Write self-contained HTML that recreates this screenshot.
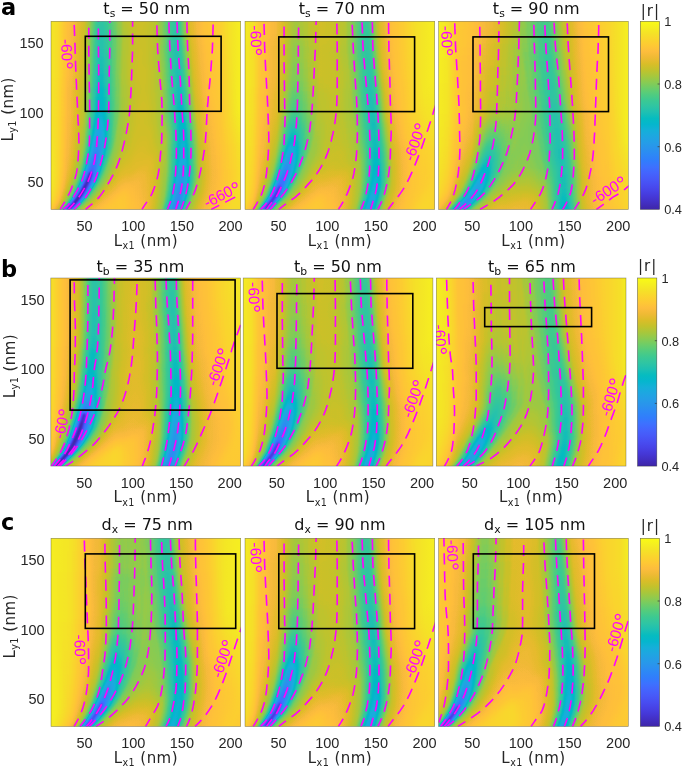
<!DOCTYPE html>
<html><head><meta charset="utf-8"><title>figure</title>
<style>html,body{margin:0;padding:0;background:#fff}svg{display:block}</style></head>
<body>
<svg width="685" height="767" viewBox="0 0 685 767">
<defs>
<filter id="par" x="0" y="0" width="1" height="1" color-interpolation-filters="sRGB"><feGaussianBlur stdDeviation="0.7"/><feComponentTransfer><feFuncR type="table" tableValues="0.242 0.250 0.258 0.265 0.271 0.275 0.278 0.280 0.281 0.281 0.280 0.276 0.270 0.260 0.244 0.221 0.196 0.183 0.179 0.176 0.169 0.154 0.146 0.138 0.125 0.111 0.095 0.069 0.030 0.004 0.007 0.043 0.096 0.141 0.172 0.194 0.216 0.247 0.291 0.341 0.391 0.446 0.504 0.562 0.617 0.672 0.724 0.774 0.820 0.863 0.903 0.939 0.973 0.996 0.997 0.995 0.989 0.979 0.968 0.961 0.960 0.963 0.969 0.977"/><feFuncG type="table" tableValues="0.150 0.165 0.182 0.198 0.215 0.234 0.256 0.278 0.301 0.323 0.345 0.367 0.389 0.412 0.436 0.460 0.485 0.507 0.529 0.550 0.570 0.590 0.609 0.628 0.646 0.663 0.680 0.695 0.708 0.720 0.731 0.741 0.750 0.758 0.767 0.776 0.784 0.792 0.797 0.801 0.803 0.802 0.799 0.794 0.788 0.779 0.770 0.760 0.750 0.741 0.733 0.729 0.730 0.743 0.766 0.789 0.814 0.839 0.864 0.889 0.913 0.937 0.961 0.984"/><feFuncB type="table" tableValues="0.660 0.708 0.751 0.795 0.836 0.871 0.899 0.922 0.941 0.958 0.972 0.983 0.991 0.995 0.999 0.997 0.989 0.980 0.968 0.952 0.936 0.922 0.908 0.897 0.888 0.876 0.860 0.839 0.816 0.792 0.766 0.739 0.712 0.684 0.655 0.625 0.592 0.557 0.519 0.479 0.435 0.391 0.348 0.304 0.261 0.223 0.191 0.165 0.153 0.160 0.177 0.210 0.239 0.237 0.220 0.203 0.189 0.177 0.164 0.154 0.142 0.127 0.106 0.081"/></feComponentTransfer></filter><filter id="bw" filterUnits="userSpaceOnUse" x="0" y="0" width="685" height="767" color-interpolation-filters="sRGB"><feGaussianBlur stdDeviation="4.5"/></filter><filter id="bn" filterUnits="userSpaceOnUse" x="0" y="0" width="685" height="767" color-interpolation-filters="sRGB"><feGaussianBlur stdDeviation="1.3"/></filter>
<clipPath id="cp1"><rect x="51" y="21.3" width="189.7" height="188.1"/></clipPath>
<linearGradient id="b1" gradientUnits="userSpaceOnUse" x1="51" y1="0" x2="240.7" y2="0"><stop offset="-0.001" stop-color="#f7f7f7"/><stop offset="0.038" stop-color="#f2f2f2"/><stop offset="0.084" stop-color="#e3e3e3"/><stop offset="0.138" stop-color="#dedede"/><stop offset="0.353" stop-color="#d9d9d9"/><stop offset="0.476" stop-color="#d9d9d9"/><stop offset="0.615" stop-color="#d9d9d9"/><stop offset="0.799" stop-color="#e3e3e3"/><stop offset="0.892" stop-color="#e6e6e6"/><stop offset="0.953" stop-color="#f0f0f0"/><stop offset="1.000" stop-color="#f7f7f7"/></linearGradient>
<radialGradient id="r2"><stop offset="0" stop-color="#e0e0e0" stop-opacity="0.9"/><stop offset="1" stop-color="#e0e0e0" stop-opacity="0"/></radialGradient>
<radialGradient id="r3"><stop offset="0" stop-color="#ededed" stop-opacity="0.5"/><stop offset="1" stop-color="#ededed" stop-opacity="0"/></radialGradient>
<linearGradient id="g4" gradientUnits="userSpaceOnUse" x1="0" y1="11.3" x2="0" y2="219.4"><stop offset=".00" stop-opacity=".021"/><stop offset=".12" stop-opacity=".022"/><stop offset=".23" stop-opacity=".024"/><stop offset=".35" stop-opacity=".026"/><stop offset=".50" stop-opacity=".029"/><stop offset=".62" stop-opacity=".035"/><stop offset=".73" stop-opacity=".043"/><stop offset=".85" stop-opacity=".053"/><stop offset="1.00" stop-opacity=".058"/></linearGradient>
<linearGradient id="g5" gradientUnits="userSpaceOnUse" x1="0" y1="11.3" x2="0" y2="219.4"><stop offset=".00" stop-opacity=".015"/><stop offset=".12" stop-opacity=".016"/><stop offset=".23" stop-opacity=".017"/><stop offset=".35" stop-opacity=".018"/><stop offset=".50" stop-opacity=".021"/><stop offset=".62" stop-opacity=".026"/><stop offset=".73" stop-opacity=".031"/><stop offset=".85" stop-opacity=".039"/><stop offset="1.00" stop-opacity=".043"/></linearGradient>
<linearGradient id="g6" gradientUnits="userSpaceOnUse" x1="0" y1="11.3" x2="0" y2="219.4"><stop offset=".00" stop-opacity=".021"/><stop offset=".12" stop-opacity=".023"/><stop offset=".23" stop-opacity=".025"/><stop offset=".35" stop-opacity=".027"/><stop offset=".50" stop-opacity=".030"/><stop offset=".62" stop-opacity=".038"/><stop offset=".73" stop-opacity=".046"/><stop offset=".85" stop-opacity=".059"/><stop offset="1.00" stop-opacity=".065"/></linearGradient>
<linearGradient id="g7" gradientUnits="userSpaceOnUse" x1="0" y1="11.3" x2="0" y2="219.4"><stop offset=".00" stop-opacity=".030"/><stop offset=".12" stop-opacity=".032"/><stop offset=".23" stop-opacity=".035"/><stop offset=".35" stop-opacity=".038"/><stop offset=".50" stop-opacity=".043"/><stop offset=".62" stop-opacity=".055"/><stop offset=".73" stop-opacity=".067"/><stop offset=".85" stop-opacity=".087"/><stop offset="1.00" stop-opacity=".096"/></linearGradient>
<linearGradient id="g8" gradientUnits="userSpaceOnUse" x1="0" y1="11.3" x2="0" y2="219.4"><stop offset=".00" stop-opacity=".040"/><stop offset=".12" stop-opacity=".043"/><stop offset=".23" stop-opacity=".047"/><stop offset=".35" stop-opacity=".051"/><stop offset=".50" stop-opacity=".058"/><stop offset=".62" stop-opacity=".074"/><stop offset=".73" stop-opacity=".092"/><stop offset=".85" stop-opacity=".122"/><stop offset="1.00" stop-opacity=".137"/></linearGradient>
<linearGradient id="g9" gradientUnits="userSpaceOnUse" x1="0" y1="11.3" x2="0" y2="219.4"><stop offset=".00" stop-opacity=".050"/><stop offset=".12" stop-opacity=".054"/><stop offset=".23" stop-opacity=".059"/><stop offset=".35" stop-opacity=".064"/><stop offset=".50" stop-opacity=".073"/><stop offset=".62" stop-opacity=".095"/><stop offset=".73" stop-opacity=".121"/><stop offset=".85" stop-opacity=".165"/><stop offset="1.00" stop-opacity=".188"/></linearGradient>
<linearGradient id="g10" gradientUnits="userSpaceOnUse" x1="0" y1="11.3" x2="0" y2="219.4"><stop offset=".00" stop-opacity=".058"/><stop offset=".12" stop-opacity=".063"/><stop offset=".23" stop-opacity=".069"/><stop offset=".35" stop-opacity=".076"/><stop offset=".50" stop-opacity=".088"/><stop offset=".62" stop-opacity=".117"/><stop offset=".73" stop-opacity=".153"/><stop offset=".85" stop-opacity=".220"/><stop offset="1.00" stop-opacity=".258"/></linearGradient>
<linearGradient id="g11" gradientUnits="userSpaceOnUse" x1="0" y1="11.3" x2="0" y2="219.4"><stop offset=".00" stop-opacity=".066"/><stop offset=".12" stop-opacity=".072"/><stop offset=".23" stop-opacity=".079"/><stop offset=".35" stop-opacity=".087"/><stop offset=".50" stop-opacity=".103"/><stop offset=".62" stop-opacity=".141"/><stop offset=".73" stop-opacity=".193"/><stop offset=".85" stop-opacity=".301"/><stop offset="1.00" stop-opacity=".370"/></linearGradient>
<linearGradient id="g12" gradientUnits="userSpaceOnUse" x1="0" y1="11.3" x2="0" y2="219.4"><stop offset=".00" stop-opacity=".067"/><stop offset=".12" stop-opacity=".073"/><stop offset=".23" stop-opacity=".082"/><stop offset=".35" stop-opacity=".091"/><stop offset=".50" stop-opacity=".109"/><stop offset=".62" stop-opacity=".157"/><stop offset=".73" stop-opacity=".227"/><stop offset=".85" stop-opacity=".411"/><stop offset="1.00" stop-opacity=".560"/></linearGradient>
<linearGradient id="g13" gradientUnits="userSpaceOnUse" x1="0" y1="11.3" x2="0" y2="219.4"><stop offset=".00" stop-opacity=".046"/><stop offset=".12" stop-opacity=".050"/><stop offset=".23" stop-opacity=".056"/><stop offset=".35" stop-opacity=".063"/><stop offset=".50" stop-opacity=".077"/><stop offset=".62" stop-opacity=".117"/><stop offset=".73" stop-opacity=".185"/><stop offset=".85" stop-opacity=".439"/><stop offset="1.00" stop-opacity=".801"/></linearGradient>
<linearGradient id="g14" gradientUnits="userSpaceOnUse" x1="0" y1="11.3" x2="0" y2="219.4"><stop offset=".00" stop-opacity=".020"/><stop offset=".12" stop-opacity=".021"/><stop offset=".23" stop-opacity=".023"/><stop offset=".35" stop-opacity=".024"/><stop offset=".50" stop-opacity=".027"/><stop offset=".62" stop-opacity=".029"/><stop offset=".73" stop-opacity=".032"/><stop offset=".85" stop-opacity=".038"/><stop offset="1.00" stop-opacity=".041"/></linearGradient>
<linearGradient id="g15" gradientUnits="userSpaceOnUse" x1="0" y1="11.3" x2="0" y2="219.4"><stop offset=".00" stop-opacity=".014"/><stop offset=".12" stop-opacity=".015"/><stop offset=".23" stop-opacity=".016"/><stop offset=".35" stop-opacity=".017"/><stop offset=".50" stop-opacity=".019"/><stop offset=".62" stop-opacity=".021"/><stop offset=".73" stop-opacity=".023"/><stop offset=".85" stop-opacity=".027"/><stop offset="1.00" stop-opacity=".030"/></linearGradient>
<linearGradient id="g16" gradientUnits="userSpaceOnUse" x1="0" y1="11.3" x2="0" y2="219.4"><stop offset=".00" stop-opacity=".021"/><stop offset=".12" stop-opacity=".022"/><stop offset=".23" stop-opacity=".024"/><stop offset=".35" stop-opacity=".025"/><stop offset=".50" stop-opacity=".028"/><stop offset=".62" stop-opacity=".031"/><stop offset=".73" stop-opacity=".034"/><stop offset=".85" stop-opacity=".040"/><stop offset="1.00" stop-opacity=".044"/></linearGradient>
<linearGradient id="g17" gradientUnits="userSpaceOnUse" x1="0" y1="11.3" x2="0" y2="219.4"><stop offset=".00" stop-opacity=".029"/><stop offset=".12" stop-opacity=".031"/><stop offset=".23" stop-opacity=".034"/><stop offset=".35" stop-opacity=".036"/><stop offset=".50" stop-opacity=".040"/><stop offset=".62" stop-opacity=".044"/><stop offset=".73" stop-opacity=".049"/><stop offset=".85" stop-opacity=".058"/><stop offset="1.00" stop-opacity=".064"/></linearGradient>
<linearGradient id="g18" gradientUnits="userSpaceOnUse" x1="0" y1="11.3" x2="0" y2="219.4"><stop offset=".00" stop-opacity=".038"/><stop offset=".12" stop-opacity=".041"/><stop offset=".23" stop-opacity=".045"/><stop offset=".35" stop-opacity=".048"/><stop offset=".50" stop-opacity=".054"/><stop offset=".62" stop-opacity=".059"/><stop offset=".73" stop-opacity=".066"/><stop offset=".85" stop-opacity=".079"/><stop offset="1.00" stop-opacity=".088"/></linearGradient>
<linearGradient id="g19" gradientUnits="userSpaceOnUse" x1="0" y1="11.3" x2="0" y2="219.4"><stop offset=".00" stop-opacity=".048"/><stop offset=".12" stop-opacity=".051"/><stop offset=".23" stop-opacity=".056"/><stop offset=".35" stop-opacity=".060"/><stop offset=".50" stop-opacity=".067"/><stop offset=".62" stop-opacity=".075"/><stop offset=".73" stop-opacity=".084"/><stop offset=".85" stop-opacity=".103"/><stop offset="1.00" stop-opacity=".114"/></linearGradient>
<linearGradient id="g20" gradientUnits="userSpaceOnUse" x1="0" y1="11.3" x2="0" y2="219.4"><stop offset=".00" stop-opacity=".055"/><stop offset=".12" stop-opacity=".059"/><stop offset=".23" stop-opacity=".065"/><stop offset=".35" stop-opacity=".071"/><stop offset=".50" stop-opacity=".080"/><stop offset=".62" stop-opacity=".090"/><stop offset=".73" stop-opacity=".101"/><stop offset=".85" stop-opacity=".127"/><stop offset="1.00" stop-opacity=".143"/></linearGradient>
<linearGradient id="g21" gradientUnits="userSpaceOnUse" x1="0" y1="11.3" x2="0" y2="219.4"><stop offset=".00" stop-opacity=".063"/><stop offset=".12" stop-opacity=".067"/><stop offset=".23" stop-opacity=".075"/><stop offset=".35" stop-opacity=".082"/><stop offset=".50" stop-opacity=".093"/><stop offset=".62" stop-opacity=".105"/><stop offset=".73" stop-opacity=".120"/><stop offset=".85" stop-opacity=".156"/><stop offset="1.00" stop-opacity=".179"/></linearGradient>
<linearGradient id="g22" gradientUnits="userSpaceOnUse" x1="0" y1="11.3" x2="0" y2="219.4"><stop offset=".00" stop-opacity=".064"/><stop offset=".12" stop-opacity=".069"/><stop offset=".23" stop-opacity=".077"/><stop offset=".35" stop-opacity=".085"/><stop offset=".50" stop-opacity=".098"/><stop offset=".62" stop-opacity=".112"/><stop offset=".73" stop-opacity=".130"/><stop offset=".85" stop-opacity=".175"/><stop offset="1.00" stop-opacity=".207"/></linearGradient>
<linearGradient id="g23" gradientUnits="userSpaceOnUse" x1="0" y1="11.3" x2="0" y2="219.4"><stop offset=".00" stop-opacity=".043"/><stop offset=".12" stop-opacity=".047"/><stop offset=".23" stop-opacity=".052"/><stop offset=".35" stop-opacity=".059"/><stop offset=".50" stop-opacity=".068"/><stop offset=".62" stop-opacity=".080"/><stop offset=".73" stop-opacity=".094"/><stop offset=".85" stop-opacity=".134"/><stop offset="1.00" stop-opacity=".165"/></linearGradient>
<clipPath id="cp2"><rect x="245" y="21.3" width="189.7" height="188.1"/></clipPath>
<linearGradient id="b24" gradientUnits="userSpaceOnUse" x1="245" y1="0" x2="434.7" y2="0"><stop offset="-0.000" stop-color="#f7f7f7"/><stop offset="0.043" stop-color="#f2f2f2"/><stop offset="0.081" stop-color="#e3e3e3"/><stop offset="0.143" stop-color="#dedede"/><stop offset="0.358" stop-color="#d6d6d6"/><stop offset="0.482" stop-color="#d4d4d4"/><stop offset="0.620" stop-color="#d6d6d6"/><stop offset="0.743" stop-color="#e0e0e0"/><stop offset="0.836" stop-color="#e6e6e6"/><stop offset="0.928" stop-color="#f0f0f0"/><stop offset="0.999" stop-color="#f7f7f7"/></linearGradient>
<radialGradient id="r25"><stop offset="0" stop-color="#dbdbdb" stop-opacity="1.0"/><stop offset="1" stop-color="#dbdbdb" stop-opacity="0"/></radialGradient>
<radialGradient id="r26"><stop offset="0" stop-color="#ededed" stop-opacity="0.6"/><stop offset="1" stop-color="#ededed" stop-opacity="0"/></radialGradient>
<linearGradient id="g27" gradientUnits="userSpaceOnUse" x1="0" y1="11.3" x2="0" y2="219.4"><stop offset=".00" stop-opacity=".008"/><stop offset=".12" stop-opacity=".009"/><stop offset=".23" stop-opacity=".011"/><stop offset=".35" stop-opacity=".013"/><stop offset=".50" stop-opacity=".018"/><stop offset=".62" stop-opacity=".027"/><stop offset=".73" stop-opacity=".037"/><stop offset=".85" stop-opacity=".046"/><stop offset="1.00" stop-opacity=".054"/></linearGradient>
<linearGradient id="g28" gradientUnits="userSpaceOnUse" x1="0" y1="11.3" x2="0" y2="219.4"><stop offset=".00" stop-opacity=".006"/><stop offset=".12" stop-opacity=".007"/><stop offset=".23" stop-opacity=".008"/><stop offset=".35" stop-opacity=".009"/><stop offset=".50" stop-opacity=".013"/><stop offset=".62" stop-opacity=".019"/><stop offset=".73" stop-opacity=".027"/><stop offset=".85" stop-opacity=".034"/><stop offset="1.00" stop-opacity=".040"/></linearGradient>
<linearGradient id="g29" gradientUnits="userSpaceOnUse" x1="0" y1="11.3" x2="0" y2="219.4"><stop offset=".00" stop-opacity=".008"/><stop offset=".12" stop-opacity=".010"/><stop offset=".23" stop-opacity=".011"/><stop offset=".35" stop-opacity=".014"/><stop offset=".50" stop-opacity=".019"/><stop offset=".62" stop-opacity=".028"/><stop offset=".73" stop-opacity=".039"/><stop offset=".85" stop-opacity=".050"/><stop offset="1.00" stop-opacity=".059"/></linearGradient>
<linearGradient id="g30" gradientUnits="userSpaceOnUse" x1="0" y1="11.3" x2="0" y2="219.4"><stop offset=".00" stop-opacity=".012"/><stop offset=".12" stop-opacity=".014"/><stop offset=".23" stop-opacity=".016"/><stop offset=".35" stop-opacity=".019"/><stop offset=".50" stop-opacity=".027"/><stop offset=".62" stop-opacity=".040"/><stop offset=".73" stop-opacity=".057"/><stop offset=".85" stop-opacity=".073"/><stop offset="1.00" stop-opacity=".087"/></linearGradient>
<linearGradient id="g31" gradientUnits="userSpaceOnUse" x1="0" y1="11.3" x2="0" y2="219.4"><stop offset=".00" stop-opacity=".015"/><stop offset=".12" stop-opacity=".018"/><stop offset=".23" stop-opacity=".021"/><stop offset=".35" stop-opacity=".025"/><stop offset=".50" stop-opacity=".035"/><stop offset=".62" stop-opacity=".054"/><stop offset=".73" stop-opacity=".077"/><stop offset=".85" stop-opacity=".100"/><stop offset="1.00" stop-opacity=".123"/></linearGradient>
<linearGradient id="g32" gradientUnits="userSpaceOnUse" x1="0" y1="11.3" x2="0" y2="219.4"><stop offset=".00" stop-opacity=".019"/><stop offset=".12" stop-opacity=".021"/><stop offset=".23" stop-opacity=".025"/><stop offset=".35" stop-opacity=".030"/><stop offset=".50" stop-opacity=".043"/><stop offset=".62" stop-opacity=".068"/><stop offset=".73" stop-opacity=".100"/><stop offset=".85" stop-opacity=".133"/><stop offset="1.00" stop-opacity=".166"/></linearGradient>
<linearGradient id="g33" gradientUnits="userSpaceOnUse" x1="0" y1="11.3" x2="0" y2="219.4"><stop offset=".00" stop-opacity=".021"/><stop offset=".12" stop-opacity=".024"/><stop offset=".23" stop-opacity=".028"/><stop offset=".35" stop-opacity=".035"/><stop offset=".50" stop-opacity=".050"/><stop offset=".62" stop-opacity=".081"/><stop offset=".73" stop-opacity=".123"/><stop offset=".85" stop-opacity=".170"/><stop offset="1.00" stop-opacity=".222"/></linearGradient>
<linearGradient id="g34" gradientUnits="userSpaceOnUse" x1="0" y1="11.3" x2="0" y2="219.4"><stop offset=".00" stop-opacity=".023"/><stop offset=".12" stop-opacity=".026"/><stop offset=".23" stop-opacity=".031"/><stop offset=".35" stop-opacity=".038"/><stop offset=".50" stop-opacity=".057"/><stop offset=".62" stop-opacity=".094"/><stop offset=".73" stop-opacity=".149"/><stop offset=".85" stop-opacity=".219"/><stop offset="1.00" stop-opacity=".305"/></linearGradient>
<linearGradient id="g35" gradientUnits="userSpaceOnUse" x1="0" y1="11.3" x2="0" y2="219.4"><stop offset=".00" stop-opacity=".022"/><stop offset=".12" stop-opacity=".026"/><stop offset=".23" stop-opacity=".031"/><stop offset=".35" stop-opacity=".038"/><stop offset=".50" stop-opacity=".057"/><stop offset=".62" stop-opacity=".098"/><stop offset=".73" stop-opacity=".167"/><stop offset=".85" stop-opacity=".267"/><stop offset="1.00" stop-opacity=".417"/></linearGradient>
<linearGradient id="g36" gradientUnits="userSpaceOnUse" x1="0" y1="11.3" x2="0" y2="219.4"><stop offset=".00" stop-opacity=".014"/><stop offset=".12" stop-opacity=".017"/><stop offset=".23" stop-opacity=".020"/><stop offset=".35" stop-opacity=".025"/><stop offset=".50" stop-opacity=".038"/><stop offset=".62" stop-opacity=".069"/><stop offset=".73" stop-opacity=".127"/><stop offset=".85" stop-opacity=".230"/><stop offset="1.00" stop-opacity=".450"/></linearGradient>
<linearGradient id="g37" gradientUnits="userSpaceOnUse" x1="0" y1="11.3" x2="0" y2="219.4"><stop offset=".00" stop-opacity=".018"/><stop offset=".12" stop-opacity=".019"/><stop offset=".23" stop-opacity=".020"/><stop offset=".35" stop-opacity=".022"/><stop offset=".50" stop-opacity=".023"/><stop offset=".62" stop-opacity=".025"/><stop offset=".73" stop-opacity=".027"/><stop offset=".85" stop-opacity=".030"/><stop offset="1.00" stop-opacity=".034"/></linearGradient>
<linearGradient id="g38" gradientUnits="userSpaceOnUse" x1="0" y1="11.3" x2="0" y2="219.4"><stop offset=".00" stop-opacity=".013"/><stop offset=".12" stop-opacity=".014"/><stop offset=".23" stop-opacity=".015"/><stop offset=".35" stop-opacity=".015"/><stop offset=".50" stop-opacity=".017"/><stop offset=".62" stop-opacity=".018"/><stop offset=".73" stop-opacity=".019"/><stop offset=".85" stop-opacity=".022"/><stop offset="1.00" stop-opacity=".025"/></linearGradient>
<linearGradient id="g39" gradientUnits="userSpaceOnUse" x1="0" y1="11.3" x2="0" y2="219.4"><stop offset=".00" stop-opacity=".019"/><stop offset=".12" stop-opacity=".020"/><stop offset=".23" stop-opacity=".021"/><stop offset=".35" stop-opacity=".022"/><stop offset=".50" stop-opacity=".024"/><stop offset=".62" stop-opacity=".026"/><stop offset=".73" stop-opacity=".028"/><stop offset=".85" stop-opacity=".032"/><stop offset="1.00" stop-opacity=".037"/></linearGradient>
<linearGradient id="g40" gradientUnits="userSpaceOnUse" x1="0" y1="11.3" x2="0" y2="219.4"><stop offset=".00" stop-opacity=".027"/><stop offset=".12" stop-opacity=".028"/><stop offset=".23" stop-opacity=".030"/><stop offset=".35" stop-opacity=".032"/><stop offset=".50" stop-opacity=".035"/><stop offset=".62" stop-opacity=".037"/><stop offset=".73" stop-opacity=".040"/><stop offset=".85" stop-opacity=".046"/><stop offset="1.00" stop-opacity=".053"/></linearGradient>
<linearGradient id="g41" gradientUnits="userSpaceOnUse" x1="0" y1="11.3" x2="0" y2="219.4"><stop offset=".00" stop-opacity=".035"/><stop offset=".12" stop-opacity=".037"/><stop offset=".23" stop-opacity=".040"/><stop offset=".35" stop-opacity=".042"/><stop offset=".50" stop-opacity=".046"/><stop offset=".62" stop-opacity=".049"/><stop offset=".73" stop-opacity=".054"/><stop offset=".85" stop-opacity=".062"/><stop offset="1.00" stop-opacity=".071"/></linearGradient>
<linearGradient id="g42" gradientUnits="userSpaceOnUse" x1="0" y1="11.3" x2="0" y2="219.4"><stop offset=".00" stop-opacity=".043"/><stop offset=".12" stop-opacity=".046"/><stop offset=".23" stop-opacity=".049"/><stop offset=".35" stop-opacity=".053"/><stop offset=".50" stop-opacity=".057"/><stop offset=".62" stop-opacity=".061"/><stop offset=".73" stop-opacity=".068"/><stop offset=".85" stop-opacity=".078"/><stop offset="1.00" stop-opacity=".092"/></linearGradient>
<linearGradient id="g43" gradientUnits="userSpaceOnUse" x1="0" y1="11.3" x2="0" y2="219.4"><stop offset=".00" stop-opacity=".050"/><stop offset=".12" stop-opacity=".053"/><stop offset=".23" stop-opacity=".057"/><stop offset=".35" stop-opacity=".062"/><stop offset=".50" stop-opacity=".067"/><stop offset=".62" stop-opacity=".073"/><stop offset=".73" stop-opacity=".080"/><stop offset=".85" stop-opacity=".095"/><stop offset="1.00" stop-opacity=".112"/></linearGradient>
<linearGradient id="g44" gradientUnits="userSpaceOnUse" x1="0" y1="11.3" x2="0" y2="219.4"><stop offset=".00" stop-opacity=".056"/><stop offset=".12" stop-opacity=".060"/><stop offset=".23" stop-opacity=".065"/><stop offset=".35" stop-opacity=".070"/><stop offset=".50" stop-opacity=".077"/><stop offset=".62" stop-opacity=".084"/><stop offset=".73" stop-opacity=".093"/><stop offset=".85" stop-opacity=".112"/><stop offset="1.00" stop-opacity=".135"/></linearGradient>
<linearGradient id="g45" gradientUnits="userSpaceOnUse" x1="0" y1="11.3" x2="0" y2="219.4"><stop offset=".00" stop-opacity=".057"/><stop offset=".12" stop-opacity=".061"/><stop offset=".23" stop-opacity=".066"/><stop offset=".35" stop-opacity=".072"/><stop offset=".50" stop-opacity=".079"/><stop offset=".62" stop-opacity=".087"/><stop offset=".73" stop-opacity=".098"/><stop offset=".85" stop-opacity=".120"/><stop offset="1.00" stop-opacity=".148"/></linearGradient>
<linearGradient id="g46" gradientUnits="userSpaceOnUse" x1="0" y1="11.3" x2="0" y2="219.4"><stop offset=".00" stop-opacity=".038"/><stop offset=".12" stop-opacity=".041"/><stop offset=".23" stop-opacity=".045"/><stop offset=".35" stop-opacity=".049"/><stop offset=".50" stop-opacity=".054"/><stop offset=".62" stop-opacity=".060"/><stop offset=".73" stop-opacity=".069"/><stop offset=".85" stop-opacity=".086"/><stop offset="1.00" stop-opacity=".110"/></linearGradient>
<clipPath id="cp3"><rect x="438.6" y="21.3" width="189.7" height="188.1"/></clipPath>
<linearGradient id="b47" gradientUnits="userSpaceOnUse" x1="438.6" y1="0" x2="628.3" y2="0"><stop offset="0.001" stop-color="#f7f7f7"/><stop offset="0.047" stop-color="#f2f2f2"/><stop offset="0.094" stop-color="#e3e3e3"/><stop offset="0.171" stop-color="#dedede"/><stop offset="0.309" stop-color="#d1d1d1"/><stop offset="0.432" stop-color="#c4c4c4"/><stop offset="0.586" stop-color="#c4c4c4"/><stop offset="0.694" stop-color="#d1d1d1"/><stop offset="0.771" stop-color="#e0e0e0"/><stop offset="0.894" stop-color="#e6e6e6"/><stop offset="0.956" stop-color="#f0f0f0"/><stop offset="0.999" stop-color="#f7f7f7"/></linearGradient>
<radialGradient id="r48"><stop offset="0" stop-color="#e6e6e6" stop-opacity="0.7"/><stop offset="1" stop-color="#e6e6e6" stop-opacity="0"/></radialGradient>
<radialGradient id="r49"><stop offset="0" stop-color="#dbdbdb" stop-opacity="0.8"/><stop offset="1" stop-color="#dbdbdb" stop-opacity="0"/></radialGradient>
<linearGradient id="g50" gradientUnits="userSpaceOnUse" x1="0" y1="11.3" x2="0" y2="219.4"><stop offset=".00" stop-opacity=".000"/><stop offset=".12" stop-opacity=".001"/><stop offset=".23" stop-opacity=".002"/><stop offset=".35" stop-opacity=".003"/><stop offset=".50" stop-opacity=".006"/><stop offset=".62" stop-opacity=".015"/><stop offset=".73" stop-opacity=".024"/><stop offset=".85" stop-opacity=".034"/><stop offset="1.00" stop-opacity=".043"/></linearGradient>
<linearGradient id="g51" gradientUnits="userSpaceOnUse" x1="0" y1="11.3" x2="0" y2="219.4"><stop offset=".00" stop-opacity=".000"/><stop offset=".12" stop-opacity=".000"/><stop offset=".23" stop-opacity=".001"/><stop offset=".35" stop-opacity=".002"/><stop offset=".50" stop-opacity=".004"/><stop offset=".62" stop-opacity=".011"/><stop offset=".73" stop-opacity=".017"/><stop offset=".85" stop-opacity=".025"/><stop offset="1.00" stop-opacity=".031"/></linearGradient>
<linearGradient id="g52" gradientUnits="userSpaceOnUse" x1="0" y1="11.3" x2="0" y2="219.4"><stop offset=".00" stop-opacity=".000"/><stop offset=".12" stop-opacity=".001"/><stop offset=".23" stop-opacity=".002"/><stop offset=".35" stop-opacity=".003"/><stop offset=".50" stop-opacity=".006"/><stop offset=".62" stop-opacity=".016"/><stop offset=".73" stop-opacity=".025"/><stop offset=".85" stop-opacity=".036"/><stop offset="1.00" stop-opacity=".046"/></linearGradient>
<linearGradient id="g53" gradientUnits="userSpaceOnUse" x1="0" y1="11.3" x2="0" y2="219.4"><stop offset=".00" stop-opacity=".000"/><stop offset=".12" stop-opacity=".001"/><stop offset=".23" stop-opacity=".003"/><stop offset=".35" stop-opacity=".005"/><stop offset=".50" stop-opacity=".009"/><stop offset=".62" stop-opacity=".022"/><stop offset=".73" stop-opacity=".036"/><stop offset=".85" stop-opacity=".053"/><stop offset="1.00" stop-opacity=".067"/></linearGradient>
<linearGradient id="g54" gradientUnits="userSpaceOnUse" x1="0" y1="11.3" x2="0" y2="219.4"><stop offset=".00" stop-opacity=".000"/><stop offset=".12" stop-opacity=".001"/><stop offset=".23" stop-opacity=".004"/><stop offset=".35" stop-opacity=".006"/><stop offset=".50" stop-opacity=".012"/><stop offset=".62" stop-opacity=".029"/><stop offset=".73" stop-opacity=".048"/><stop offset=".85" stop-opacity=".071"/><stop offset="1.00" stop-opacity=".092"/></linearGradient>
<linearGradient id="g55" gradientUnits="userSpaceOnUse" x1="0" y1="11.3" x2="0" y2="219.4"><stop offset=".00" stop-opacity=".000"/><stop offset=".12" stop-opacity=".001"/><stop offset=".23" stop-opacity=".004"/><stop offset=".35" stop-opacity=".007"/><stop offset=".50" stop-opacity=".014"/><stop offset=".62" stop-opacity=".035"/><stop offset=".73" stop-opacity=".060"/><stop offset=".85" stop-opacity=".091"/><stop offset="1.00" stop-opacity=".120"/></linearGradient>
<linearGradient id="g56" gradientUnits="userSpaceOnUse" x1="0" y1="11.3" x2="0" y2="219.4"><stop offset=".00" stop-opacity=".000"/><stop offset=".12" stop-opacity=".002"/><stop offset=".23" stop-opacity=".005"/><stop offset=".35" stop-opacity=".008"/><stop offset=".50" stop-opacity=".016"/><stop offset=".62" stop-opacity=".041"/><stop offset=".73" stop-opacity=".071"/><stop offset=".85" stop-opacity=".111"/><stop offset="1.00" stop-opacity=".152"/></linearGradient>
<linearGradient id="g57" gradientUnits="userSpaceOnUse" x1="0" y1="11.3" x2="0" y2="219.4"><stop offset=".00" stop-opacity=".000"/><stop offset=".12" stop-opacity=".002"/><stop offset=".23" stop-opacity=".005"/><stop offset=".35" stop-opacity=".009"/><stop offset=".50" stop-opacity=".017"/><stop offset=".62" stop-opacity=".045"/><stop offset=".73" stop-opacity=".081"/><stop offset=".85" stop-opacity=".134"/><stop offset="1.00" stop-opacity=".192"/></linearGradient>
<linearGradient id="g58" gradientUnits="userSpaceOnUse" x1="0" y1="11.3" x2="0" y2="219.4"><stop offset=".00" stop-opacity=".000"/><stop offset=".12" stop-opacity=".002"/><stop offset=".23" stop-opacity=".005"/><stop offset=".35" stop-opacity=".008"/><stop offset=".50" stop-opacity=".016"/><stop offset=".62" stop-opacity=".045"/><stop offset=".73" stop-opacity=".084"/><stop offset=".85" stop-opacity=".147"/><stop offset="1.00" stop-opacity=".225"/></linearGradient>
<linearGradient id="g59" gradientUnits="userSpaceOnUse" x1="0" y1="11.3" x2="0" y2="219.4"><stop offset=".00" stop-opacity=".000"/><stop offset=".12" stop-opacity=".001"/><stop offset=".23" stop-opacity=".003"/><stop offset=".35" stop-opacity=".005"/><stop offset=".50" stop-opacity=".011"/><stop offset=".62" stop-opacity=".030"/><stop offset=".73" stop-opacity=".058"/><stop offset=".85" stop-opacity=".108"/><stop offset="1.00" stop-opacity=".184"/></linearGradient>
<linearGradient id="g60" gradientUnits="userSpaceOnUse" x1="0" y1="11.3" x2="0" y2="219.4"><stop offset=".00" stop-opacity=".013"/><stop offset=".12" stop-opacity=".014"/><stop offset=".23" stop-opacity=".015"/><stop offset=".35" stop-opacity=".016"/><stop offset=".50" stop-opacity=".018"/><stop offset=".62" stop-opacity=".019"/><stop offset=".73" stop-opacity=".021"/><stop offset=".85" stop-opacity=".022"/><stop offset="1.00" stop-opacity=".028"/></linearGradient>
<linearGradient id="g61" gradientUnits="userSpaceOnUse" x1="0" y1="11.3" x2="0" y2="219.4"><stop offset=".00" stop-opacity=".009"/><stop offset=".12" stop-opacity=".010"/><stop offset=".23" stop-opacity=".011"/><stop offset=".35" stop-opacity=".012"/><stop offset=".50" stop-opacity=".013"/><stop offset=".62" stop-opacity=".014"/><stop offset=".73" stop-opacity=".015"/><stop offset=".85" stop-opacity=".016"/><stop offset="1.00" stop-opacity=".020"/></linearGradient>
<linearGradient id="g62" gradientUnits="userSpaceOnUse" x1="0" y1="11.3" x2="0" y2="219.4"><stop offset=".00" stop-opacity=".013"/><stop offset=".12" stop-opacity=".014"/><stop offset=".23" stop-opacity=".015"/><stop offset=".35" stop-opacity=".017"/><stop offset=".50" stop-opacity=".019"/><stop offset=".62" stop-opacity=".020"/><stop offset=".73" stop-opacity=".021"/><stop offset=".85" stop-opacity=".023"/><stop offset="1.00" stop-opacity=".029"/></linearGradient>
<linearGradient id="g63" gradientUnits="userSpaceOnUse" x1="0" y1="11.3" x2="0" y2="219.4"><stop offset=".00" stop-opacity=".019"/><stop offset=".12" stop-opacity=".020"/><stop offset=".23" stop-opacity=".021"/><stop offset=".35" stop-opacity=".024"/><stop offset=".50" stop-opacity=".027"/><stop offset=".62" stop-opacity=".028"/><stop offset=".73" stop-opacity=".030"/><stop offset=".85" stop-opacity=".032"/><stop offset="1.00" stop-opacity=".042"/></linearGradient>
<linearGradient id="g64" gradientUnits="userSpaceOnUse" x1="0" y1="11.3" x2="0" y2="219.4"><stop offset=".00" stop-opacity=".024"/><stop offset=".12" stop-opacity=".026"/><stop offset=".23" stop-opacity=".028"/><stop offset=".35" stop-opacity=".031"/><stop offset=".50" stop-opacity=".035"/><stop offset=".62" stop-opacity=".037"/><stop offset=".73" stop-opacity=".040"/><stop offset=".85" stop-opacity=".043"/><stop offset="1.00" stop-opacity=".056"/></linearGradient>
<linearGradient id="g65" gradientUnits="userSpaceOnUse" x1="0" y1="11.3" x2="0" y2="219.4"><stop offset=".00" stop-opacity=".030"/><stop offset=".12" stop-opacity=".032"/><stop offset=".23" stop-opacity=".034"/><stop offset=".35" stop-opacity=".038"/><stop offset=".50" stop-opacity=".043"/><stop offset=".62" stop-opacity=".046"/><stop offset=".73" stop-opacity=".050"/><stop offset=".85" stop-opacity=".053"/><stop offset="1.00" stop-opacity=".071"/></linearGradient>
<linearGradient id="g66" gradientUnits="userSpaceOnUse" x1="0" y1="11.3" x2="0" y2="219.4"><stop offset=".00" stop-opacity=".034"/><stop offset=".12" stop-opacity=".036"/><stop offset=".23" stop-opacity=".040"/><stop offset=".35" stop-opacity=".044"/><stop offset=".50" stop-opacity=".050"/><stop offset=".62" stop-opacity=".054"/><stop offset=".73" stop-opacity=".058"/><stop offset=".85" stop-opacity=".062"/><stop offset="1.00" stop-opacity=".085"/></linearGradient>
<linearGradient id="g67" gradientUnits="userSpaceOnUse" x1="0" y1="11.3" x2="0" y2="219.4"><stop offset=".00" stop-opacity=".038"/><stop offset=".12" stop-opacity=".040"/><stop offset=".23" stop-opacity=".044"/><stop offset=".35" stop-opacity=".049"/><stop offset=".50" stop-opacity=".056"/><stop offset=".62" stop-opacity=".061"/><stop offset=".73" stop-opacity=".066"/><stop offset=".85" stop-opacity=".071"/><stop offset="1.00" stop-opacity=".099"/></linearGradient>
<linearGradient id="g68" gradientUnits="userSpaceOnUse" x1="0" y1="11.3" x2="0" y2="219.4"><stop offset=".00" stop-opacity=".037"/><stop offset=".12" stop-opacity=".040"/><stop offset=".23" stop-opacity=".044"/><stop offset=".35" stop-opacity=".049"/><stop offset=".50" stop-opacity=".057"/><stop offset=".62" stop-opacity=".062"/><stop offset=".73" stop-opacity=".067"/><stop offset=".85" stop-opacity=".072"/><stop offset="1.00" stop-opacity=".105"/></linearGradient>
<linearGradient id="g69" gradientUnits="userSpaceOnUse" x1="0" y1="11.3" x2="0" y2="219.4"><stop offset=".00" stop-opacity=".025"/><stop offset=".12" stop-opacity=".026"/><stop offset=".23" stop-opacity=".029"/><stop offset=".35" stop-opacity=".033"/><stop offset=".50" stop-opacity=".038"/><stop offset=".62" stop-opacity=".041"/><stop offset=".73" stop-opacity=".045"/><stop offset=".85" stop-opacity=".049"/><stop offset="1.00" stop-opacity=".074"/></linearGradient>
<clipPath id="cp4"><rect x="50.8" y="278" width="189.7" height="188.1"/></clipPath>
<linearGradient id="b70" gradientUnits="userSpaceOnUse" x1="50.8" y1="0" x2="240.5" y2="0"><stop offset="0.000" stop-color="#f5f5f5"/><stop offset="0.031" stop-color="#ededed"/><stop offset="0.065" stop-color="#e6e6e6"/><stop offset="0.123" stop-color="#e0e0e0"/><stop offset="0.477" stop-color="#e3e3e3"/><stop offset="0.801" stop-color="#e0e0e0"/><stop offset="0.893" stop-color="#e6e6e6"/><stop offset="0.954" stop-color="#ededed"/><stop offset="0.998" stop-color="#f5f5f5"/></linearGradient>
<radialGradient id="r71"><stop offset="0" stop-color="#d9d9d9" stop-opacity="1.0"/><stop offset="1" stop-color="#d9d9d9" stop-opacity="0"/></radialGradient>
<radialGradient id="r72"><stop offset="0" stop-color="#ededed" stop-opacity="0.6"/><stop offset="1" stop-color="#ededed" stop-opacity="0"/></radialGradient>
<linearGradient id="g73" gradientUnits="userSpaceOnUse" x1="0" y1="268" x2="0" y2="476.1"><stop offset=".00" stop-opacity=".022"/><stop offset=".12" stop-opacity=".022"/><stop offset=".23" stop-opacity=".024"/><stop offset=".35" stop-opacity=".025"/><stop offset=".50" stop-opacity=".028"/><stop offset=".62" stop-opacity=".034"/><stop offset=".73" stop-opacity=".047"/><stop offset=".85" stop-opacity=".057"/><stop offset="1.00" stop-opacity=".053"/></linearGradient>
<linearGradient id="g74" gradientUnits="userSpaceOnUse" x1="0" y1="268" x2="0" y2="476.1"><stop offset=".00" stop-opacity=".015"/><stop offset=".12" stop-opacity=".016"/><stop offset=".23" stop-opacity=".017"/><stop offset=".35" stop-opacity=".018"/><stop offset=".50" stop-opacity=".020"/><stop offset=".62" stop-opacity=".024"/><stop offset=".73" stop-opacity=".034"/><stop offset=".85" stop-opacity=".042"/><stop offset="1.00" stop-opacity=".039"/></linearGradient>
<linearGradient id="g75" gradientUnits="userSpaceOnUse" x1="0" y1="268" x2="0" y2="476.1"><stop offset=".00" stop-opacity=".022"/><stop offset=".12" stop-opacity=".023"/><stop offset=".23" stop-opacity=".025"/><stop offset=".35" stop-opacity=".026"/><stop offset=".50" stop-opacity=".029"/><stop offset=".62" stop-opacity=".036"/><stop offset=".73" stop-opacity=".051"/><stop offset=".85" stop-opacity=".063"/><stop offset="1.00" stop-opacity=".058"/></linearGradient>
<linearGradient id="g76" gradientUnits="userSpaceOnUse" x1="0" y1="268" x2="0" y2="476.1"><stop offset=".00" stop-opacity=".032"/><stop offset=".12" stop-opacity=".033"/><stop offset=".23" stop-opacity=".035"/><stop offset=".35" stop-opacity=".037"/><stop offset=".50" stop-opacity=".042"/><stop offset=".62" stop-opacity=".052"/><stop offset=".73" stop-opacity=".074"/><stop offset=".85" stop-opacity=".094"/><stop offset="1.00" stop-opacity=".086"/></linearGradient>
<linearGradient id="g77" gradientUnits="userSpaceOnUse" x1="0" y1="268" x2="0" y2="476.1"><stop offset=".00" stop-opacity=".042"/><stop offset=".12" stop-opacity=".044"/><stop offset=".23" stop-opacity=".047"/><stop offset=".35" stop-opacity=".049"/><stop offset=".50" stop-opacity=".056"/><stop offset=".62" stop-opacity=".070"/><stop offset=".73" stop-opacity=".103"/><stop offset=".85" stop-opacity=".132"/><stop offset="1.00" stop-opacity=".120"/></linearGradient>
<linearGradient id="g78" gradientUnits="userSpaceOnUse" x1="0" y1="268" x2="0" y2="476.1"><stop offset=".00" stop-opacity=".053"/><stop offset=".12" stop-opacity=".055"/><stop offset=".23" stop-opacity=".058"/><stop offset=".35" stop-opacity=".062"/><stop offset=".50" stop-opacity=".071"/><stop offset=".62" stop-opacity=".089"/><stop offset=".73" stop-opacity=".136"/><stop offset=".85" stop-opacity=".182"/><stop offset="1.00" stop-opacity=".162"/></linearGradient>
<linearGradient id="g79" gradientUnits="userSpaceOnUse" x1="0" y1="268" x2="0" y2="476.1"><stop offset=".00" stop-opacity=".062"/><stop offset=".12" stop-opacity=".064"/><stop offset=".23" stop-opacity=".069"/><stop offset=".35" stop-opacity=".073"/><stop offset=".50" stop-opacity=".085"/><stop offset=".62" stop-opacity=".109"/><stop offset=".73" stop-opacity=".175"/><stop offset=".85" stop-opacity=".247"/><stop offset="1.00" stop-opacity=".215"/></linearGradient>
<linearGradient id="g80" gradientUnits="userSpaceOnUse" x1="0" y1="268" x2="0" y2="476.1"><stop offset=".00" stop-opacity=".070"/><stop offset=".12" stop-opacity=".074"/><stop offset=".23" stop-opacity=".079"/><stop offset=".35" stop-opacity=".084"/><stop offset=".50" stop-opacity=".099"/><stop offset=".62" stop-opacity=".130"/><stop offset=".73" stop-opacity=".227"/><stop offset=".85" stop-opacity=".350"/><stop offset="1.00" stop-opacity=".292"/></linearGradient>
<linearGradient id="g81" gradientUnits="userSpaceOnUse" x1="0" y1="268" x2="0" y2="476.1"><stop offset=".00" stop-opacity=".072"/><stop offset=".12" stop-opacity=".076"/><stop offset=".23" stop-opacity=".081"/><stop offset=".35" stop-opacity=".087"/><stop offset=".50" stop-opacity=".104"/><stop offset=".62" stop-opacity=".143"/><stop offset=".73" stop-opacity=".280"/><stop offset=".85" stop-opacity=".512"/><stop offset="1.00" stop-opacity=".393"/></linearGradient>
<linearGradient id="g82" gradientUnits="userSpaceOnUse" x1="0" y1="268" x2="0" y2="476.1"><stop offset=".00" stop-opacity=".049"/><stop offset=".12" stop-opacity=".052"/><stop offset=".23" stop-opacity=".056"/><stop offset=".35" stop-opacity=".060"/><stop offset=".50" stop-opacity=".073"/><stop offset=".62" stop-opacity=".105"/><stop offset=".73" stop-opacity=".245"/><stop offset=".85" stop-opacity=".661"/><stop offset="1.00" stop-opacity=".408"/></linearGradient>
<linearGradient id="g83" gradientUnits="userSpaceOnUse" x1="0" y1="268" x2="0" y2="476.1"><stop offset=".00" stop-opacity=".021"/><stop offset=".12" stop-opacity=".022"/><stop offset=".23" stop-opacity=".023"/><stop offset=".35" stop-opacity=".024"/><stop offset=".50" stop-opacity=".027"/><stop offset=".62" stop-opacity=".029"/><stop offset=".73" stop-opacity=".034"/><stop offset=".85" stop-opacity=".038"/><stop offset="1.00" stop-opacity=".042"/></linearGradient>
<linearGradient id="g84" gradientUnits="userSpaceOnUse" x1="0" y1="268" x2="0" y2="476.1"><stop offset=".00" stop-opacity=".015"/><stop offset=".12" stop-opacity=".015"/><stop offset=".23" stop-opacity=".016"/><stop offset=".35" stop-opacity=".017"/><stop offset=".50" stop-opacity=".019"/><stop offset=".62" stop-opacity=".021"/><stop offset=".73" stop-opacity=".024"/><stop offset=".85" stop-opacity=".028"/><stop offset="1.00" stop-opacity=".030"/></linearGradient>
<linearGradient id="g85" gradientUnits="userSpaceOnUse" x1="0" y1="268" x2="0" y2="476.1"><stop offset=".00" stop-opacity=".022"/><stop offset=".12" stop-opacity=".023"/><stop offset=".23" stop-opacity=".024"/><stop offset=".35" stop-opacity=".025"/><stop offset=".50" stop-opacity=".028"/><stop offset=".62" stop-opacity=".031"/><stop offset=".73" stop-opacity=".036"/><stop offset=".85" stop-opacity=".041"/><stop offset="1.00" stop-opacity=".045"/></linearGradient>
<linearGradient id="g86" gradientUnits="userSpaceOnUse" x1="0" y1="268" x2="0" y2="476.1"><stop offset=".00" stop-opacity=".031"/><stop offset=".12" stop-opacity=".032"/><stop offset=".23" stop-opacity=".034"/><stop offset=".35" stop-opacity=".036"/><stop offset=".50" stop-opacity=".040"/><stop offset=".62" stop-opacity=".045"/><stop offset=".73" stop-opacity=".051"/><stop offset=".85" stop-opacity=".060"/><stop offset="1.00" stop-opacity=".065"/></linearGradient>
<linearGradient id="g87" gradientUnits="userSpaceOnUse" x1="0" y1="268" x2="0" y2="476.1"><stop offset=".00" stop-opacity=".041"/><stop offset=".12" stop-opacity=".042"/><stop offset=".23" stop-opacity=".045"/><stop offset=".35" stop-opacity=".048"/><stop offset=".50" stop-opacity=".053"/><stop offset=".62" stop-opacity=".060"/><stop offset=".73" stop-opacity=".070"/><stop offset=".85" stop-opacity=".081"/><stop offset="1.00" stop-opacity=".089"/></linearGradient>
<linearGradient id="g88" gradientUnits="userSpaceOnUse" x1="0" y1="268" x2="0" y2="476.1"><stop offset=".00" stop-opacity=".050"/><stop offset=".12" stop-opacity=".053"/><stop offset=".23" stop-opacity=".056"/><stop offset=".35" stop-opacity=".059"/><stop offset=".50" stop-opacity=".067"/><stop offset=".62" stop-opacity=".076"/><stop offset=".73" stop-opacity=".089"/><stop offset=".85" stop-opacity=".105"/><stop offset="1.00" stop-opacity=".117"/></linearGradient>
<linearGradient id="g89" gradientUnits="userSpaceOnUse" x1="0" y1="268" x2="0" y2="476.1"><stop offset=".00" stop-opacity=".059"/><stop offset=".12" stop-opacity=".062"/><stop offset=".23" stop-opacity=".066"/><stop offset=".35" stop-opacity=".070"/><stop offset=".50" stop-opacity=".079"/><stop offset=".62" stop-opacity=".091"/><stop offset=".73" stop-opacity=".108"/><stop offset=".85" stop-opacity=".131"/><stop offset="1.00" stop-opacity=".147"/></linearGradient>
<linearGradient id="g90" gradientUnits="userSpaceOnUse" x1="0" y1="268" x2="0" y2="476.1"><stop offset=".00" stop-opacity=".067"/><stop offset=".12" stop-opacity=".070"/><stop offset=".23" stop-opacity=".075"/><stop offset=".35" stop-opacity=".081"/><stop offset=".50" stop-opacity=".092"/><stop offset=".62" stop-opacity=".107"/><stop offset=".73" stop-opacity=".130"/><stop offset=".85" stop-opacity=".160"/><stop offset="1.00" stop-opacity=".184"/></linearGradient>
<linearGradient id="g91" gradientUnits="userSpaceOnUse" x1="0" y1="268" x2="0" y2="476.1"><stop offset=".00" stop-opacity=".068"/><stop offset=".12" stop-opacity=".072"/><stop offset=".23" stop-opacity=".078"/><stop offset=".35" stop-opacity=".083"/><stop offset=".50" stop-opacity=".097"/><stop offset=".62" stop-opacity=".114"/><stop offset=".73" stop-opacity=".142"/><stop offset=".85" stop-opacity=".182"/><stop offset="1.00" stop-opacity=".214"/></linearGradient>
<linearGradient id="g92" gradientUnits="userSpaceOnUse" x1="0" y1="268" x2="0" y2="476.1"><stop offset=".00" stop-opacity=".046"/><stop offset=".12" stop-opacity=".049"/><stop offset=".23" stop-opacity=".053"/><stop offset=".35" stop-opacity=".057"/><stop offset=".50" stop-opacity=".067"/><stop offset=".62" stop-opacity=".081"/><stop offset=".73" stop-opacity=".104"/><stop offset=".85" stop-opacity=".140"/><stop offset="1.00" stop-opacity=".172"/></linearGradient>
<clipPath id="cp5"><rect x="436.3" y="278" width="189.7" height="188.1"/></clipPath>
<linearGradient id="b93" gradientUnits="userSpaceOnUse" x1="436.3" y1="0" x2="626" y2="0"><stop offset="0.010" stop-color="#f7f7f7"/><stop offset="0.060" stop-color="#f2f2f2"/><stop offset="0.113" stop-color="#e3e3e3"/><stop offset="0.183" stop-color="#dedede"/><stop offset="0.321" stop-color="#d4d4d4"/><stop offset="0.444" stop-color="#d4d4d4"/><stop offset="0.598" stop-color="#d4d4d4"/><stop offset="0.706" stop-color="#d9d9d9"/><stop offset="0.798" stop-color="#e0e0e0"/><stop offset="0.906" stop-color="#e6e6e6"/><stop offset="0.968" stop-color="#ededed"/><stop offset="1.002" stop-color="#f5f5f5"/></linearGradient>
<radialGradient id="r94"><stop offset="0" stop-color="#dedede" stop-opacity="0.9"/><stop offset="1" stop-color="#dedede" stop-opacity="0"/></radialGradient>
<radialGradient id="r95"><stop offset="0" stop-color="#e6e6e6" stop-opacity="0.6"/><stop offset="1" stop-color="#e6e6e6" stop-opacity="0"/></radialGradient>
<linearGradient id="g96" gradientUnits="userSpaceOnUse" x1="0" y1="268" x2="0" y2="476.1"><stop offset=".00" stop-opacity=".003"/><stop offset=".12" stop-opacity=".004"/><stop offset=".23" stop-opacity=".005"/><stop offset=".35" stop-opacity=".006"/><stop offset=".50" stop-opacity=".011"/><stop offset=".62" stop-opacity=".017"/><stop offset=".73" stop-opacity=".022"/><stop offset=".85" stop-opacity=".033"/><stop offset="1.00" stop-opacity=".037"/></linearGradient>
<linearGradient id="g97" gradientUnits="userSpaceOnUse" x1="0" y1="268" x2="0" y2="476.1"><stop offset=".00" stop-opacity=".002"/><stop offset=".12" stop-opacity=".003"/><stop offset=".23" stop-opacity=".003"/><stop offset=".35" stop-opacity=".004"/><stop offset=".50" stop-opacity=".008"/><stop offset=".62" stop-opacity=".012"/><stop offset=".73" stop-opacity=".016"/><stop offset=".85" stop-opacity=".024"/><stop offset="1.00" stop-opacity=".027"/></linearGradient>
<linearGradient id="g98" gradientUnits="userSpaceOnUse" x1="0" y1="268" x2="0" y2="476.1"><stop offset=".00" stop-opacity=".003"/><stop offset=".12" stop-opacity=".004"/><stop offset=".23" stop-opacity=".005"/><stop offset=".35" stop-opacity=".006"/><stop offset=".50" stop-opacity=".011"/><stop offset=".62" stop-opacity=".018"/><stop offset=".73" stop-opacity=".023"/><stop offset=".85" stop-opacity=".035"/><stop offset="1.00" stop-opacity=".040"/></linearGradient>
<linearGradient id="g99" gradientUnits="userSpaceOnUse" x1="0" y1="268" x2="0" y2="476.1"><stop offset=".00" stop-opacity=".004"/><stop offset=".12" stop-opacity=".005"/><stop offset=".23" stop-opacity=".007"/><stop offset=".35" stop-opacity=".008"/><stop offset=".50" stop-opacity=".016"/><stop offset=".62" stop-opacity=".025"/><stop offset=".73" stop-opacity=".033"/><stop offset=".85" stop-opacity=".050"/><stop offset="1.00" stop-opacity=".058"/></linearGradient>
<linearGradient id="g100" gradientUnits="userSpaceOnUse" x1="0" y1="268" x2="0" y2="476.1"><stop offset=".00" stop-opacity=".006"/><stop offset=".12" stop-opacity=".007"/><stop offset=".23" stop-opacity=".009"/><stop offset=".35" stop-opacity=".011"/><stop offset=".50" stop-opacity=".020"/><stop offset=".62" stop-opacity=".033"/><stop offset=".73" stop-opacity=".044"/><stop offset=".85" stop-opacity=".067"/><stop offset="1.00" stop-opacity=".078"/></linearGradient>
<linearGradient id="g101" gradientUnits="userSpaceOnUse" x1="0" y1="268" x2="0" y2="476.1"><stop offset=".00" stop-opacity=".007"/><stop offset=".12" stop-opacity=".008"/><stop offset=".23" stop-opacity=".011"/><stop offset=".35" stop-opacity=".013"/><stop offset=".50" stop-opacity=".025"/><stop offset=".62" stop-opacity=".040"/><stop offset=".73" stop-opacity=".055"/><stop offset=".85" stop-opacity=".086"/><stop offset="1.00" stop-opacity=".101"/></linearGradient>
<linearGradient id="g102" gradientUnits="userSpaceOnUse" x1="0" y1="268" x2="0" y2="476.1"><stop offset=".00" stop-opacity=".008"/><stop offset=".12" stop-opacity=".009"/><stop offset=".23" stop-opacity=".012"/><stop offset=".35" stop-opacity=".015"/><stop offset=".50" stop-opacity=".028"/><stop offset=".62" stop-opacity=".047"/><stop offset=".73" stop-opacity=".064"/><stop offset=".85" stop-opacity=".104"/><stop offset="1.00" stop-opacity=".125"/></linearGradient>
<linearGradient id="g103" gradientUnits="userSpaceOnUse" x1="0" y1="268" x2="0" y2="476.1"><stop offset=".00" stop-opacity=".008"/><stop offset=".12" stop-opacity=".010"/><stop offset=".23" stop-opacity=".013"/><stop offset=".35" stop-opacity=".016"/><stop offset=".50" stop-opacity=".031"/><stop offset=".62" stop-opacity=".052"/><stop offset=".73" stop-opacity=".073"/><stop offset=".85" stop-opacity=".124"/><stop offset="1.00" stop-opacity=".152"/></linearGradient>
<linearGradient id="g104" gradientUnits="userSpaceOnUse" x1="0" y1="268" x2="0" y2="476.1"><stop offset=".00" stop-opacity=".008"/><stop offset=".12" stop-opacity=".010"/><stop offset=".23" stop-opacity=".013"/><stop offset=".35" stop-opacity=".016"/><stop offset=".50" stop-opacity=".031"/><stop offset=".62" stop-opacity=".052"/><stop offset=".73" stop-opacity=".075"/><stop offset=".85" stop-opacity=".135"/><stop offset="1.00" stop-opacity=".171"/></linearGradient>
<linearGradient id="g105" gradientUnits="userSpaceOnUse" x1="0" y1="268" x2="0" y2="476.1"><stop offset=".00" stop-opacity=".005"/><stop offset=".12" stop-opacity=".006"/><stop offset=".23" stop-opacity=".008"/><stop offset=".35" stop-opacity=".010"/><stop offset=".50" stop-opacity=".020"/><stop offset=".62" stop-opacity=".035"/><stop offset=".73" stop-opacity=".051"/><stop offset=".85" stop-opacity=".098"/><stop offset="1.00" stop-opacity=".130"/></linearGradient>
<linearGradient id="g106" gradientUnits="userSpaceOnUse" x1="0" y1="268" x2="0" y2="476.1"><stop offset=".00" stop-opacity=".015"/><stop offset=".12" stop-opacity=".015"/><stop offset=".23" stop-opacity=".016"/><stop offset=".35" stop-opacity=".017"/><stop offset=".50" stop-opacity=".019"/><stop offset=".62" stop-opacity=".020"/><stop offset=".73" stop-opacity=".023"/><stop offset=".85" stop-opacity=".025"/><stop offset="1.00" stop-opacity=".028"/></linearGradient>
<linearGradient id="g107" gradientUnits="userSpaceOnUse" x1="0" y1="268" x2="0" y2="476.1"><stop offset=".00" stop-opacity=".010"/><stop offset=".12" stop-opacity=".011"/><stop offset=".23" stop-opacity=".012"/><stop offset=".35" stop-opacity=".012"/><stop offset=".50" stop-opacity=".013"/><stop offset=".62" stop-opacity=".015"/><stop offset=".73" stop-opacity=".016"/><stop offset=".85" stop-opacity=".018"/><stop offset="1.00" stop-opacity=".020"/></linearGradient>
<linearGradient id="g108" gradientUnits="userSpaceOnUse" x1="0" y1="268" x2="0" y2="476.1"><stop offset=".00" stop-opacity=".015"/><stop offset=".12" stop-opacity=".016"/><stop offset=".23" stop-opacity=".017"/><stop offset=".35" stop-opacity=".018"/><stop offset=".50" stop-opacity=".020"/><stop offset=".62" stop-opacity=".021"/><stop offset=".73" stop-opacity=".023"/><stop offset=".85" stop-opacity=".026"/><stop offset="1.00" stop-opacity=".029"/></linearGradient>
<linearGradient id="g109" gradientUnits="userSpaceOnUse" x1="0" y1="268" x2="0" y2="476.1"><stop offset=".00" stop-opacity=".021"/><stop offset=".12" stop-opacity=".022"/><stop offset=".23" stop-opacity=".024"/><stop offset=".35" stop-opacity=".025"/><stop offset=".50" stop-opacity=".028"/><stop offset=".62" stop-opacity=".030"/><stop offset=".73" stop-opacity=".033"/><stop offset=".85" stop-opacity=".037"/><stop offset="1.00" stop-opacity=".042"/></linearGradient>
<linearGradient id="g110" gradientUnits="userSpaceOnUse" x1="0" y1="268" x2="0" y2="476.1"><stop offset=".00" stop-opacity=".028"/><stop offset=".12" stop-opacity=".029"/><stop offset=".23" stop-opacity=".031"/><stop offset=".35" stop-opacity=".033"/><stop offset=".50" stop-opacity=".036"/><stop offset=".62" stop-opacity=".040"/><stop offset=".73" stop-opacity=".044"/><stop offset=".85" stop-opacity=".049"/><stop offset="1.00" stop-opacity=".056"/></linearGradient>
<linearGradient id="g111" gradientUnits="userSpaceOnUse" x1="0" y1="268" x2="0" y2="476.1"><stop offset=".00" stop-opacity=".034"/><stop offset=".12" stop-opacity=".035"/><stop offset=".23" stop-opacity=".038"/><stop offset=".35" stop-opacity=".041"/><stop offset=".50" stop-opacity=".045"/><stop offset=".62" stop-opacity=".049"/><stop offset=".73" stop-opacity=".055"/><stop offset=".85" stop-opacity=".061"/><stop offset="1.00" stop-opacity=".070"/></linearGradient>
<linearGradient id="g112" gradientUnits="userSpaceOnUse" x1="0" y1="268" x2="0" y2="476.1"><stop offset=".00" stop-opacity=".039"/><stop offset=".12" stop-opacity=".041"/><stop offset=".23" stop-opacity=".044"/><stop offset=".35" stop-opacity=".047"/><stop offset=".50" stop-opacity=".052"/><stop offset=".62" stop-opacity=".057"/><stop offset=".73" stop-opacity=".065"/><stop offset=".85" stop-opacity=".073"/><stop offset="1.00" stop-opacity=".084"/></linearGradient>
<linearGradient id="g113" gradientUnits="userSpaceOnUse" x1="0" y1="268" x2="0" y2="476.1"><stop offset=".00" stop-opacity=".043"/><stop offset=".12" stop-opacity=".045"/><stop offset=".23" stop-opacity=".049"/><stop offset=".35" stop-opacity=".053"/><stop offset=".50" stop-opacity=".059"/><stop offset=".62" stop-opacity=".065"/><stop offset=".73" stop-opacity=".074"/><stop offset=".85" stop-opacity=".084"/><stop offset="1.00" stop-opacity=".098"/></linearGradient>
<linearGradient id="g114" gradientUnits="userSpaceOnUse" x1="0" y1="268" x2="0" y2="476.1"><stop offset=".00" stop-opacity=".043"/><stop offset=".12" stop-opacity=".045"/><stop offset=".23" stop-opacity=".049"/><stop offset=".35" stop-opacity=".053"/><stop offset=".50" stop-opacity=".060"/><stop offset=".62" stop-opacity=".066"/><stop offset=".73" stop-opacity=".076"/><stop offset=".85" stop-opacity=".087"/><stop offset="1.00" stop-opacity=".103"/></linearGradient>
<linearGradient id="g115" gradientUnits="userSpaceOnUse" x1="0" y1="268" x2="0" y2="476.1"><stop offset=".00" stop-opacity=".028"/><stop offset=".12" stop-opacity=".030"/><stop offset=".23" stop-opacity=".033"/><stop offset=".35" stop-opacity=".036"/><stop offset=".50" stop-opacity=".040"/><stop offset=".62" stop-opacity=".045"/><stop offset=".73" stop-opacity=".052"/><stop offset=".85" stop-opacity=".060"/><stop offset="1.00" stop-opacity=".073"/></linearGradient>
<clipPath id="cp6"><rect x="51" y="538.3" width="189.7" height="188.1"/></clipPath>
<linearGradient id="b116" gradientUnits="userSpaceOnUse" x1="51" y1="0" x2="240.7" y2="0"><stop offset="0.002" stop-color="#f7f7f7"/><stop offset="0.107" stop-color="#f2f2f2"/><stop offset="0.168" stop-color="#e6e6e6"/><stop offset="0.230" stop-color="#dedede"/><stop offset="0.353" stop-color="#d6d6d6"/><stop offset="0.476" stop-color="#d1d1d1"/><stop offset="0.630" stop-color="#d4d4d4"/><stop offset="0.769" stop-color="#e0e0e0"/><stop offset="0.846" stop-color="#e8e8e8"/><stop offset="0.923" stop-color="#f2f2f2"/><stop offset="0.997" stop-color="#f7f7f7"/></linearGradient>
<radialGradient id="r117"><stop offset="0" stop-color="#d9d9d9" stop-opacity="1.0"/><stop offset="1" stop-color="#d9d9d9" stop-opacity="0"/></radialGradient>
<radialGradient id="r118"><stop offset="0" stop-color="#ebebeb" stop-opacity="0.6"/><stop offset="1" stop-color="#ebebeb" stop-opacity="0"/></radialGradient>
<linearGradient id="g119" gradientUnits="userSpaceOnUse" x1="0" y1="528.3" x2="0" y2="736.4"><stop offset=".00" stop-opacity=".008"/><stop offset=".12" stop-opacity=".009"/><stop offset=".23" stop-opacity=".010"/><stop offset=".35" stop-opacity=".011"/><stop offset=".50" stop-opacity=".015"/><stop offset=".62" stop-opacity=".024"/><stop offset=".73" stop-opacity=".031"/><stop offset=".85" stop-opacity=".044"/><stop offset="1.00" stop-opacity=".046"/></linearGradient>
<linearGradient id="g120" gradientUnits="userSpaceOnUse" x1="0" y1="528.3" x2="0" y2="736.4"><stop offset=".00" stop-opacity=".005"/><stop offset=".12" stop-opacity=".006"/><stop offset=".23" stop-opacity=".007"/><stop offset=".35" stop-opacity=".008"/><stop offset=".50" stop-opacity=".011"/><stop offset=".62" stop-opacity=".017"/><stop offset=".73" stop-opacity=".023"/><stop offset=".85" stop-opacity=".032"/><stop offset="1.00" stop-opacity=".034"/></linearGradient>
<linearGradient id="g121" gradientUnits="userSpaceOnUse" x1="0" y1="528.3" x2="0" y2="736.4"><stop offset=".00" stop-opacity=".008"/><stop offset=".12" stop-opacity=".009"/><stop offset=".23" stop-opacity=".010"/><stop offset=".35" stop-opacity=".012"/><stop offset=".50" stop-opacity=".016"/><stop offset=".62" stop-opacity=".025"/><stop offset=".73" stop-opacity=".033"/><stop offset=".85" stop-opacity=".047"/><stop offset="1.00" stop-opacity=".050"/></linearGradient>
<linearGradient id="g122" gradientUnits="userSpaceOnUse" x1="0" y1="528.3" x2="0" y2="736.4"><stop offset=".00" stop-opacity=".011"/><stop offset=".12" stop-opacity=".012"/><stop offset=".23" stop-opacity=".014"/><stop offset=".35" stop-opacity=".016"/><stop offset=".50" stop-opacity=".022"/><stop offset=".62" stop-opacity=".035"/><stop offset=".73" stop-opacity=".048"/><stop offset=".85" stop-opacity=".069"/><stop offset="1.00" stop-opacity=".073"/></linearGradient>
<linearGradient id="g123" gradientUnits="userSpaceOnUse" x1="0" y1="528.3" x2="0" y2="736.4"><stop offset=".00" stop-opacity=".014"/><stop offset=".12" stop-opacity=".016"/><stop offset=".23" stop-opacity=".019"/><stop offset=".35" stop-opacity=".021"/><stop offset=".50" stop-opacity=".029"/><stop offset=".62" stop-opacity=".047"/><stop offset=".73" stop-opacity=".064"/><stop offset=".85" stop-opacity=".095"/><stop offset="1.00" stop-opacity=".101"/></linearGradient>
<linearGradient id="g124" gradientUnits="userSpaceOnUse" x1="0" y1="528.3" x2="0" y2="736.4"><stop offset=".00" stop-opacity=".017"/><stop offset=".12" stop-opacity=".019"/><stop offset=".23" stop-opacity=".023"/><stop offset=".35" stop-opacity=".026"/><stop offset=".50" stop-opacity=".036"/><stop offset=".62" stop-opacity=".058"/><stop offset=".73" stop-opacity=".082"/><stop offset=".85" stop-opacity=".125"/><stop offset="1.00" stop-opacity=".134"/></linearGradient>
<linearGradient id="g125" gradientUnits="userSpaceOnUse" x1="0" y1="528.3" x2="0" y2="736.4"><stop offset=".00" stop-opacity=".019"/><stop offset=".12" stop-opacity=".022"/><stop offset=".23" stop-opacity=".026"/><stop offset=".35" stop-opacity=".030"/><stop offset=".50" stop-opacity=".041"/><stop offset=".62" stop-opacity=".069"/><stop offset=".73" stop-opacity=".099"/><stop offset=".85" stop-opacity=".158"/><stop offset="1.00" stop-opacity=".171"/></linearGradient>
<linearGradient id="g126" gradientUnits="userSpaceOnUse" x1="0" y1="528.3" x2="0" y2="736.4"><stop offset=".00" stop-opacity=".021"/><stop offset=".12" stop-opacity=".024"/><stop offset=".23" stop-opacity=".028"/><stop offset=".35" stop-opacity=".033"/><stop offset=".50" stop-opacity=".046"/><stop offset=".62" stop-opacity=".079"/><stop offset=".73" stop-opacity=".117"/><stop offset=".85" stop-opacity=".201"/><stop offset="1.00" stop-opacity=".221"/></linearGradient>
<linearGradient id="g127" gradientUnits="userSpaceOnUse" x1="0" y1="528.3" x2="0" y2="736.4"><stop offset=".00" stop-opacity=".020"/><stop offset=".12" stop-opacity=".023"/><stop offset=".23" stop-opacity=".028"/><stop offset=".35" stop-opacity=".032"/><stop offset=".50" stop-opacity=".046"/><stop offset=".62" stop-opacity=".082"/><stop offset=".73" stop-opacity=".126"/><stop offset=".85" stop-opacity=".239"/><stop offset="1.00" stop-opacity=".270"/></linearGradient>
<linearGradient id="g128" gradientUnits="userSpaceOnUse" x1="0" y1="528.3" x2="0" y2="736.4"><stop offset=".00" stop-opacity=".013"/><stop offset=".12" stop-opacity=".015"/><stop offset=".23" stop-opacity=".018"/><stop offset=".35" stop-opacity=".021"/><stop offset=".50" stop-opacity=".030"/><stop offset=".62" stop-opacity=".056"/><stop offset=".73" stop-opacity=".091"/><stop offset=".85" stop-opacity=".198"/><stop offset="1.00" stop-opacity=".233"/></linearGradient>
<linearGradient id="g129" gradientUnits="userSpaceOnUse" x1="0" y1="528.3" x2="0" y2="736.4"><stop offset=".00" stop-opacity=".018"/><stop offset=".12" stop-opacity=".019"/><stop offset=".23" stop-opacity=".020"/><stop offset=".35" stop-opacity=".021"/><stop offset=".50" stop-opacity=".023"/><stop offset=".62" stop-opacity=".025"/><stop offset=".73" stop-opacity=".027"/><stop offset=".85" stop-opacity=".028"/><stop offset="1.00" stop-opacity=".030"/></linearGradient>
<linearGradient id="g130" gradientUnits="userSpaceOnUse" x1="0" y1="528.3" x2="0" y2="736.4"><stop offset=".00" stop-opacity=".013"/><stop offset=".12" stop-opacity=".014"/><stop offset=".23" stop-opacity=".014"/><stop offset=".35" stop-opacity=".015"/><stop offset=".50" stop-opacity=".017"/><stop offset=".62" stop-opacity=".018"/><stop offset=".73" stop-opacity=".019"/><stop offset=".85" stop-opacity=".021"/><stop offset="1.00" stop-opacity=".022"/></linearGradient>
<linearGradient id="g131" gradientUnits="userSpaceOnUse" x1="0" y1="528.3" x2="0" y2="736.4"><stop offset=".00" stop-opacity=".019"/><stop offset=".12" stop-opacity=".020"/><stop offset=".23" stop-opacity=".021"/><stop offset=".35" stop-opacity=".022"/><stop offset=".50" stop-opacity=".024"/><stop offset=".62" stop-opacity=".026"/><stop offset=".73" stop-opacity=".028"/><stop offset=".85" stop-opacity=".030"/><stop offset="1.00" stop-opacity=".032"/></linearGradient>
<linearGradient id="g132" gradientUnits="userSpaceOnUse" x1="0" y1="528.3" x2="0" y2="736.4"><stop offset=".00" stop-opacity=".027"/><stop offset=".12" stop-opacity=".028"/><stop offset=".23" stop-opacity=".029"/><stop offset=".35" stop-opacity=".031"/><stop offset=".50" stop-opacity=".034"/><stop offset=".62" stop-opacity=".037"/><stop offset=".73" stop-opacity=".040"/><stop offset=".85" stop-opacity=".043"/><stop offset="1.00" stop-opacity=".046"/></linearGradient>
<linearGradient id="g133" gradientUnits="userSpaceOnUse" x1="0" y1="528.3" x2="0" y2="736.4"><stop offset=".00" stop-opacity=".035"/><stop offset=".12" stop-opacity=".037"/><stop offset=".23" stop-opacity=".039"/><stop offset=".35" stop-opacity=".042"/><stop offset=".50" stop-opacity=".045"/><stop offset=".62" stop-opacity=".049"/><stop offset=".73" stop-opacity=".053"/><stop offset=".85" stop-opacity=".058"/><stop offset="1.00" stop-opacity=".062"/></linearGradient>
<linearGradient id="g134" gradientUnits="userSpaceOnUse" x1="0" y1="528.3" x2="0" y2="736.4"><stop offset=".00" stop-opacity=".043"/><stop offset=".12" stop-opacity=".045"/><stop offset=".23" stop-opacity=".048"/><stop offset=".35" stop-opacity=".052"/><stop offset=".50" stop-opacity=".057"/><stop offset=".62" stop-opacity=".061"/><stop offset=".73" stop-opacity=".067"/><stop offset=".85" stop-opacity=".073"/><stop offset="1.00" stop-opacity=".078"/></linearGradient>
<linearGradient id="g135" gradientUnits="userSpaceOnUse" x1="0" y1="528.3" x2="0" y2="736.4"><stop offset=".00" stop-opacity=".050"/><stop offset=".12" stop-opacity=".053"/><stop offset=".23" stop-opacity=".056"/><stop offset=".35" stop-opacity=".060"/><stop offset=".50" stop-opacity=".067"/><stop offset=".62" stop-opacity=".072"/><stop offset=".73" stop-opacity=".080"/><stop offset=".85" stop-opacity=".087"/><stop offset="1.00" stop-opacity=".095"/></linearGradient>
<linearGradient id="g136" gradientUnits="userSpaceOnUse" x1="0" y1="528.3" x2="0" y2="736.4"><stop offset=".00" stop-opacity=".056"/><stop offset=".12" stop-opacity=".059"/><stop offset=".23" stop-opacity=".064"/><stop offset=".35" stop-opacity=".069"/><stop offset=".50" stop-opacity=".076"/><stop offset=".62" stop-opacity=".083"/><stop offset=".73" stop-opacity=".093"/><stop offset=".85" stop-opacity=".102"/><stop offset="1.00" stop-opacity=".112"/></linearGradient>
<linearGradient id="g137" gradientUnits="userSpaceOnUse" x1="0" y1="528.3" x2="0" y2="736.4"><stop offset=".00" stop-opacity=".057"/><stop offset=".12" stop-opacity=".060"/><stop offset=".23" stop-opacity=".065"/><stop offset=".35" stop-opacity=".070"/><stop offset=".50" stop-opacity=".079"/><stop offset=".62" stop-opacity=".086"/><stop offset=".73" stop-opacity=".097"/><stop offset=".85" stop-opacity=".108"/><stop offset="1.00" stop-opacity=".119"/></linearGradient>
<linearGradient id="g138" gradientUnits="userSpaceOnUse" x1="0" y1="528.3" x2="0" y2="736.4"><stop offset=".00" stop-opacity=".038"/><stop offset=".12" stop-opacity=".040"/><stop offset=".23" stop-opacity=".044"/><stop offset=".35" stop-opacity=".048"/><stop offset=".50" stop-opacity=".054"/><stop offset=".62" stop-opacity=".060"/><stop offset=".73" stop-opacity=".068"/><stop offset=".85" stop-opacity=".076"/><stop offset="1.00" stop-opacity=".085"/></linearGradient>
<clipPath id="cp7"><rect x="438.6" y="538.3" width="189.7" height="188.1"/></clipPath>
<linearGradient id="b139" gradientUnits="userSpaceOnUse" x1="438.6" y1="0" x2="628.3" y2="0"><stop offset="0.004" stop-color="#e6e6e6"/><stop offset="0.063" stop-color="#e3e3e3"/><stop offset="0.124" stop-color="#e0e0e0"/><stop offset="0.478" stop-color="#e3e3e3"/><stop offset="0.802" stop-color="#e0e0e0"/><stop offset="0.894" stop-color="#e6e6e6"/><stop offset="0.956" stop-color="#ebebeb"/><stop offset="0.999" stop-color="#f5f5f5"/></linearGradient>
<radialGradient id="r140"><stop offset="0" stop-color="#d9d9d9" stop-opacity="1.0"/><stop offset="1" stop-color="#d9d9d9" stop-opacity="0"/></radialGradient>
<radialGradient id="r141"><stop offset="0" stop-color="#ededed" stop-opacity="0.7"/><stop offset="1" stop-color="#ededed" stop-opacity="0"/></radialGradient>
<linearGradient id="g142" gradientUnits="userSpaceOnUse" x1="0" y1="528.3" x2="0" y2="736.4"><stop offset=".00" stop-opacity=".013"/><stop offset=".12" stop-opacity=".014"/><stop offset=".23" stop-opacity=".015"/><stop offset=".35" stop-opacity=".017"/><stop offset=".50" stop-opacity=".021"/><stop offset=".62" stop-opacity=".026"/><stop offset=".73" stop-opacity=".033"/><stop offset=".85" stop-opacity=".043"/><stop offset="1.00" stop-opacity=".051"/></linearGradient>
<linearGradient id="g143" gradientUnits="userSpaceOnUse" x1="0" y1="528.3" x2="0" y2="736.4"><stop offset=".00" stop-opacity=".009"/><stop offset=".12" stop-opacity=".010"/><stop offset=".23" stop-opacity=".011"/><stop offset=".35" stop-opacity=".012"/><stop offset=".50" stop-opacity=".015"/><stop offset=".62" stop-opacity=".019"/><stop offset=".73" stop-opacity=".024"/><stop offset=".85" stop-opacity=".031"/><stop offset="1.00" stop-opacity=".038"/></linearGradient>
<linearGradient id="g144" gradientUnits="userSpaceOnUse" x1="0" y1="528.3" x2="0" y2="736.4"><stop offset=".00" stop-opacity=".013"/><stop offset=".12" stop-opacity=".014"/><stop offset=".23" stop-opacity=".016"/><stop offset=".35" stop-opacity=".017"/><stop offset=".50" stop-opacity=".021"/><stop offset=".62" stop-opacity=".028"/><stop offset=".73" stop-opacity=".036"/><stop offset=".85" stop-opacity=".046"/><stop offset="1.00" stop-opacity=".056"/></linearGradient>
<linearGradient id="g145" gradientUnits="userSpaceOnUse" x1="0" y1="528.3" x2="0" y2="736.4"><stop offset=".00" stop-opacity=".019"/><stop offset=".12" stop-opacity=".020"/><stop offset=".23" stop-opacity=".022"/><stop offset=".35" stop-opacity=".024"/><stop offset=".50" stop-opacity=".030"/><stop offset=".62" stop-opacity=".040"/><stop offset=".73" stop-opacity=".051"/><stop offset=".85" stop-opacity=".067"/><stop offset="1.00" stop-opacity=".082"/></linearGradient>
<linearGradient id="g146" gradientUnits="userSpaceOnUse" x1="0" y1="528.3" x2="0" y2="736.4"><stop offset=".00" stop-opacity=".024"/><stop offset=".12" stop-opacity=".026"/><stop offset=".23" stop-opacity=".029"/><stop offset=".35" stop-opacity=".032"/><stop offset=".50" stop-opacity=".040"/><stop offset=".62" stop-opacity=".053"/><stop offset=".73" stop-opacity=".069"/><stop offset=".85" stop-opacity=".093"/><stop offset="1.00" stop-opacity=".115"/></linearGradient>
<linearGradient id="g147" gradientUnits="userSpaceOnUse" x1="0" y1="528.3" x2="0" y2="736.4"><stop offset=".00" stop-opacity=".030"/><stop offset=".12" stop-opacity=".032"/><stop offset=".23" stop-opacity=".036"/><stop offset=".35" stop-opacity=".039"/><stop offset=".50" stop-opacity=".050"/><stop offset=".62" stop-opacity=".067"/><stop offset=".73" stop-opacity=".089"/><stop offset=".85" stop-opacity=".122"/><stop offset="1.00" stop-opacity=".155"/></linearGradient>
<linearGradient id="g148" gradientUnits="userSpaceOnUse" x1="0" y1="528.3" x2="0" y2="736.4"><stop offset=".00" stop-opacity=".034"/><stop offset=".12" stop-opacity=".037"/><stop offset=".23" stop-opacity=".041"/><stop offset=".35" stop-opacity=".045"/><stop offset=".50" stop-opacity=".058"/><stop offset=".62" stop-opacity=".079"/><stop offset=".73" stop-opacity=".108"/><stop offset=".85" stop-opacity=".154"/><stop offset="1.00" stop-opacity=".203"/></linearGradient>
<linearGradient id="g149" gradientUnits="userSpaceOnUse" x1="0" y1="528.3" x2="0" y2="736.4"><stop offset=".00" stop-opacity=".038"/><stop offset=".12" stop-opacity=".041"/><stop offset=".23" stop-opacity=".046"/><stop offset=".35" stop-opacity=".051"/><stop offset=".50" stop-opacity=".066"/><stop offset=".62" stop-opacity=".092"/><stop offset=".73" stop-opacity=".129"/><stop offset=".85" stop-opacity=".194"/><stop offset="1.00" stop-opacity=".272"/></linearGradient>
<linearGradient id="g150" gradientUnits="userSpaceOnUse" x1="0" y1="528.3" x2="0" y2="736.4"><stop offset=".00" stop-opacity=".037"/><stop offset=".12" stop-opacity=".041"/><stop offset=".23" stop-opacity=".046"/><stop offset=".35" stop-opacity=".051"/><stop offset=".50" stop-opacity=".067"/><stop offset=".62" stop-opacity=".096"/><stop offset=".73" stop-opacity=".141"/><stop offset=".85" stop-opacity=".229"/><stop offset="1.00" stop-opacity=".356"/></linearGradient>
<linearGradient id="g151" gradientUnits="userSpaceOnUse" x1="0" y1="528.3" x2="0" y2="736.4"><stop offset=".00" stop-opacity=".024"/><stop offset=".12" stop-opacity=".027"/><stop offset=".23" stop-opacity=".030"/><stop offset=".35" stop-opacity=".034"/><stop offset=".50" stop-opacity=".045"/><stop offset=".62" stop-opacity=".067"/><stop offset=".73" stop-opacity=".104"/><stop offset=".85" stop-opacity=".188"/><stop offset="1.00" stop-opacity=".348"/></linearGradient>
<linearGradient id="g152" gradientUnits="userSpaceOnUse" x1="0" y1="528.3" x2="0" y2="736.4"><stop offset=".00" stop-opacity=".017"/><stop offset=".12" stop-opacity=".018"/><stop offset=".23" stop-opacity=".020"/><stop offset=".35" stop-opacity=".021"/><stop offset=".50" stop-opacity=".024"/><stop offset=".62" stop-opacity=".026"/><stop offset=".73" stop-opacity=".029"/><stop offset=".85" stop-opacity=".032"/><stop offset="1.00" stop-opacity=".034"/></linearGradient>
<linearGradient id="g153" gradientUnits="userSpaceOnUse" x1="0" y1="528.3" x2="0" y2="736.4"><stop offset=".00" stop-opacity=".012"/><stop offset=".12" stop-opacity=".013"/><stop offset=".23" stop-opacity=".014"/><stop offset=".35" stop-opacity=".015"/><stop offset=".50" stop-opacity=".017"/><stop offset=".62" stop-opacity=".019"/><stop offset=".73" stop-opacity=".021"/><stop offset=".85" stop-opacity=".023"/><stop offset="1.00" stop-opacity=".024"/></linearGradient>
<linearGradient id="g154" gradientUnits="userSpaceOnUse" x1="0" y1="528.3" x2="0" y2="736.4"><stop offset=".00" stop-opacity=".017"/><stop offset=".12" stop-opacity=".019"/><stop offset=".23" stop-opacity=".020"/><stop offset=".35" stop-opacity=".022"/><stop offset=".50" stop-opacity=".025"/><stop offset=".62" stop-opacity=".028"/><stop offset=".73" stop-opacity=".031"/><stop offset=".85" stop-opacity=".034"/><stop offset="1.00" stop-opacity=".036"/></linearGradient>
<linearGradient id="g155" gradientUnits="userSpaceOnUse" x1="0" y1="528.3" x2="0" y2="736.4"><stop offset=".00" stop-opacity=".024"/><stop offset=".12" stop-opacity=".026"/><stop offset=".23" stop-opacity=".029"/><stop offset=".35" stop-opacity=".032"/><stop offset=".50" stop-opacity=".036"/><stop offset=".62" stop-opacity=".040"/><stop offset=".73" stop-opacity=".044"/><stop offset=".85" stop-opacity=".048"/><stop offset="1.00" stop-opacity=".051"/></linearGradient>
<linearGradient id="g156" gradientUnits="userSpaceOnUse" x1="0" y1="528.3" x2="0" y2="736.4"><stop offset=".00" stop-opacity=".032"/><stop offset=".12" stop-opacity=".035"/><stop offset=".23" stop-opacity=".038"/><stop offset=".35" stop-opacity=".042"/><stop offset=".50" stop-opacity=".047"/><stop offset=".62" stop-opacity=".053"/><stop offset=".73" stop-opacity=".059"/><stop offset=".85" stop-opacity=".065"/><stop offset="1.00" stop-opacity=".069"/></linearGradient>
<linearGradient id="g157" gradientUnits="userSpaceOnUse" x1="0" y1="528.3" x2="0" y2="736.4"><stop offset=".00" stop-opacity=".040"/><stop offset=".12" stop-opacity=".043"/><stop offset=".23" stop-opacity=".047"/><stop offset=".35" stop-opacity=".052"/><stop offset=".50" stop-opacity=".059"/><stop offset=".62" stop-opacity=".066"/><stop offset=".73" stop-opacity=".074"/><stop offset=".85" stop-opacity=".083"/><stop offset="1.00" stop-opacity=".089"/></linearGradient>
<linearGradient id="g158" gradientUnits="userSpaceOnUse" x1="0" y1="528.3" x2="0" y2="736.4"><stop offset=".00" stop-opacity=".046"/><stop offset=".12" stop-opacity=".050"/><stop offset=".23" stop-opacity=".055"/><stop offset=".35" stop-opacity=".061"/><stop offset=".50" stop-opacity=".070"/><stop offset=".62" stop-opacity=".079"/><stop offset=".73" stop-opacity=".089"/><stop offset=".85" stop-opacity=".100"/><stop offset="1.00" stop-opacity=".108"/></linearGradient>
<linearGradient id="g159" gradientUnits="userSpaceOnUse" x1="0" y1="528.3" x2="0" y2="736.4"><stop offset=".00" stop-opacity=".051"/><stop offset=".12" stop-opacity=".056"/><stop offset=".23" stop-opacity=".063"/><stop offset=".35" stop-opacity=".070"/><stop offset=".50" stop-opacity=".080"/><stop offset=".62" stop-opacity=".091"/><stop offset=".73" stop-opacity=".105"/><stop offset=".85" stop-opacity=".119"/><stop offset="1.00" stop-opacity=".129"/></linearGradient>
<linearGradient id="g160" gradientUnits="userSpaceOnUse" x1="0" y1="528.3" x2="0" y2="736.4"><stop offset=".00" stop-opacity=".051"/><stop offset=".12" stop-opacity=".056"/><stop offset=".23" stop-opacity=".064"/><stop offset=".35" stop-opacity=".071"/><stop offset=".50" stop-opacity=".083"/><stop offset=".62" stop-opacity=".096"/><stop offset=".73" stop-opacity=".111"/><stop offset=".85" stop-opacity=".129"/><stop offset="1.00" stop-opacity=".142"/></linearGradient>
<linearGradient id="g161" gradientUnits="userSpaceOnUse" x1="0" y1="528.3" x2="0" y2="736.4"><stop offset=".00" stop-opacity=".034"/><stop offset=".12" stop-opacity=".038"/><stop offset=".23" stop-opacity=".043"/><stop offset=".35" stop-opacity=".048"/><stop offset=".50" stop-opacity=".057"/><stop offset=".62" stop-opacity=".067"/><stop offset=".73" stop-opacity=".079"/><stop offset=".85" stop-opacity=".093"/><stop offset="1.00" stop-opacity=".104"/></linearGradient>
<linearGradient id="cb0" x1="0" y1="0" x2="0" y2="1"><stop offset="0.0000" stop-color="#f9fb15"/><stop offset="0.0323" stop-color="#f5ef20"/><stop offset="0.0645" stop-color="#f5e227"/><stop offset="0.0968" stop-color="#fad52d"/><stop offset="0.1290" stop-color="#fec934"/><stop offset="0.1613" stop-color="#fdbd3d"/><stop offset="0.1935" stop-color="#eeba34"/><stop offset="0.2258" stop-color="#dabd28"/><stop offset="0.2581" stop-color="#c2c22c"/><stop offset="0.2903" stop-color="#a7c73c"/><stop offset="0.3226" stop-color="#8bcb51"/><stop offset="0.3548" stop-color="#6dcd68"/><stop offset="0.3871" stop-color="#52cc7e"/><stop offset="0.4194" stop-color="#3cc992"/><stop offset="0.4516" stop-color="#2fc5a3"/><stop offset="0.4839" stop-color="#1ec0b2"/><stop offset="0.5161" stop-color="#06bcc0"/><stop offset="0.5484" stop-color="#05b6cd"/><stop offset="0.5806" stop-color="#15afd9"/><stop offset="0.6129" stop-color="#1ea6e1"/><stop offset="0.6452" stop-color="#259de7"/><stop offset="0.6774" stop-color="#2a93ed"/><stop offset="0.7097" stop-color="#2d88f6"/><stop offset="0.7419" stop-color="#317dfc"/><stop offset="0.7742" stop-color="#3d71ff"/><stop offset="0.8065" stop-color="#4464fd"/><stop offset="0.8387" stop-color="#4759f8"/><stop offset="0.8710" stop-color="#484df1"/><stop offset="0.9032" stop-color="#4742e6"/><stop offset="0.9355" stop-color="#4537d6"/><stop offset="0.9677" stop-color="#422ec0"/><stop offset="1.0000" stop-color="#3e26a8"/></linearGradient>
<linearGradient id="cb1" x1="0" y1="0" x2="0" y2="1"><stop offset="0.0000" stop-color="#f9fb15"/><stop offset="0.0323" stop-color="#f5ef20"/><stop offset="0.0645" stop-color="#f5e227"/><stop offset="0.0968" stop-color="#fad52d"/><stop offset="0.1290" stop-color="#fec934"/><stop offset="0.1613" stop-color="#fdbd3d"/><stop offset="0.1935" stop-color="#eeba34"/><stop offset="0.2258" stop-color="#dabd28"/><stop offset="0.2581" stop-color="#c2c22c"/><stop offset="0.2903" stop-color="#a7c73c"/><stop offset="0.3226" stop-color="#8bcb51"/><stop offset="0.3548" stop-color="#6dcd68"/><stop offset="0.3871" stop-color="#52cc7e"/><stop offset="0.4194" stop-color="#3cc992"/><stop offset="0.4516" stop-color="#2fc5a3"/><stop offset="0.4839" stop-color="#1ec0b2"/><stop offset="0.5161" stop-color="#06bcc0"/><stop offset="0.5484" stop-color="#05b6cd"/><stop offset="0.5806" stop-color="#15afd9"/><stop offset="0.6129" stop-color="#1ea6e1"/><stop offset="0.6452" stop-color="#259de7"/><stop offset="0.6774" stop-color="#2a93ed"/><stop offset="0.7097" stop-color="#2d88f6"/><stop offset="0.7419" stop-color="#317dfc"/><stop offset="0.7742" stop-color="#3d71ff"/><stop offset="0.8065" stop-color="#4464fd"/><stop offset="0.8387" stop-color="#4759f8"/><stop offset="0.8710" stop-color="#484df1"/><stop offset="0.9032" stop-color="#4742e6"/><stop offset="0.9355" stop-color="#4537d6"/><stop offset="0.9677" stop-color="#422ec0"/><stop offset="1.0000" stop-color="#3e26a8"/></linearGradient>
<linearGradient id="cb2" x1="0" y1="0" x2="0" y2="1"><stop offset="0.0000" stop-color="#f9fb15"/><stop offset="0.0323" stop-color="#f5ef20"/><stop offset="0.0645" stop-color="#f5e227"/><stop offset="0.0968" stop-color="#fad52d"/><stop offset="0.1290" stop-color="#fec934"/><stop offset="0.1613" stop-color="#fdbd3d"/><stop offset="0.1935" stop-color="#eeba34"/><stop offset="0.2258" stop-color="#dabd28"/><stop offset="0.2581" stop-color="#c2c22c"/><stop offset="0.2903" stop-color="#a7c73c"/><stop offset="0.3226" stop-color="#8bcb51"/><stop offset="0.3548" stop-color="#6dcd68"/><stop offset="0.3871" stop-color="#52cc7e"/><stop offset="0.4194" stop-color="#3cc992"/><stop offset="0.4516" stop-color="#2fc5a3"/><stop offset="0.4839" stop-color="#1ec0b2"/><stop offset="0.5161" stop-color="#06bcc0"/><stop offset="0.5484" stop-color="#05b6cd"/><stop offset="0.5806" stop-color="#15afd9"/><stop offset="0.6129" stop-color="#1ea6e1"/><stop offset="0.6452" stop-color="#259de7"/><stop offset="0.6774" stop-color="#2a93ed"/><stop offset="0.7097" stop-color="#2d88f6"/><stop offset="0.7419" stop-color="#317dfc"/><stop offset="0.7742" stop-color="#3d71ff"/><stop offset="0.8065" stop-color="#4464fd"/><stop offset="0.8387" stop-color="#4759f8"/><stop offset="0.8710" stop-color="#484df1"/><stop offset="0.9032" stop-color="#4742e6"/><stop offset="0.9355" stop-color="#4537d6"/><stop offset="0.9677" stop-color="#422ec0"/><stop offset="1.0000" stop-color="#3e26a8"/></linearGradient>
</defs>
<rect width="685" height="767" fill="#fff"/>
<g clip-path="url(#cp1)"><g filter="url(#par)">
<rect x="35" y="5.3" width="221.7" height="220.1" fill="url(#b1)"/>
<ellipse cx="262.5" cy="219.4" rx="58.4" ry="122.6" fill="url(#r2)"/>
<ellipse cx="138.4" cy="216.5" rx="43.8" ry="46.7" fill="url(#r3)"/>
<g filter="url(#bw)"><path d="M45.4,11.3 45.4,19.3 45.3,27.3 45.3,35.3 45.3,43.3 45.2,51.3 45.1,59.3 45,67.3 44.9,75.3 44.9,83.3 44.9,91.3 44.8,99.3 44.8,107.3 45.6,115.3 47.3,123.4 48.7,131.4 50.1,139.4 51.3,147.4 52.6,155.4 53.5,163.4 54,171.4 53.9,179.4 52.8,187.4 51.2,195.4 48.7,203.4 43,211.4 38.8,219.4 87.1,219.4 91.3,211.4 102.8,203.4 113.3,195.4 122.4,187.4 130.6,179.4 137.9,171.4 144.4,163.4 150.5,155.4 156.3,147.4 160.5,139.4 164.4,131.4 168.2,123.4 171.8,115.3 174,107.3 174.8,99.3 175.6,91.3 176.4,83.3 177.3,75.3 178.1,67.3 179,59.3 179.9,51.3 180.8,43.3 181.6,35.3 182.4,27.3 183.2,19.3 183.4,11.3Z" fill="url(#g4)"/><path d="M59.8,11.3 59.8,19.3 59.7,27.3 59.7,35.3 59.7,43.3 59.6,51.3 59.5,59.3 59.4,67.3 59.3,75.3 59.3,83.3 59.3,91.3 59.2,99.3 59.2,107.3 59.8,115.3 60.8,123.4 61.8,131.4 62.6,139.4 63.2,147.4 63.7,155.4 63.9,163.4 63.7,171.4 62.9,179.4 61.1,187.4 58.7,195.4 55.4,203.4 49,211.4 44.8,219.4 80.5,219.4 84.7,211.4 95.4,203.4 104.6,195.4 112.5,187.4 119.6,179.4 125.8,171.4 131.2,163.4 136.1,155.4 140.8,147.4 144.2,139.4 147.2,131.4 150.2,123.4 153,115.3 154.7,107.3 155.3,99.3 155.9,91.3 156.5,83.3 157.1,75.3 157.8,67.3 158.5,59.3 159.2,51.3 159.8,43.3 160.4,35.3 161,27.3 161.7,19.3 161.8,11.3Z" fill="url(#g5)"/><path d="M69.4,11.3 69.4,19.3 69.3,27.3 69.3,35.3 69.3,43.3 69.2,51.3 69.1,59.3 69,67.3 68.9,75.3 68.9,83.3 68.9,91.3 68.8,99.3 68.8,107.3 69.2,115.3 69.9,123.4 70.4,131.4 70.9,139.4 71.2,147.4 71.2,155.4 70.9,163.4 70.2,171.4 68.9,179.4 66.6,187.4 63.7,195.4 59.8,203.4 53,211.4 48.8,219.4 76.1,219.4 80.3,211.4 90.4,203.4 98.8,195.4 106,187.4 112.3,179.4 117.7,171.4 122.3,163.4 126.6,155.4 130.5,147.4 133.3,139.4 135.8,131.4 138.2,123.4 140.5,115.3 141.8,107.3 142.3,99.3 142.8,91.3 143.2,83.3 143.7,75.3 144.2,67.3 144.8,59.3 145.3,51.3 145.8,43.3 146.3,35.3 146.8,27.3 147.3,19.3 147.4,11.3Z" fill="url(#g6)"/><path d="M76.6,11.3 76.6,19.3 76.5,27.3 76.5,35.3 76.5,43.3 76.4,51.3 76.3,59.3 76.2,67.3 76.1,75.3 76.1,83.3 76.1,91.3 76,99.3 76,107.3 76.2,115.3 76.7,123.4 77,131.4 77.2,139.4 77.1,147.4 76.8,155.4 76.1,163.4 75.1,171.4 73.4,179.4 70.8,187.4 67.5,195.4 63.1,203.4 56,211.4 51.8,219.4 72.8,219.4 77,211.4 86.7,203.4 94.5,195.4 101,187.4 106.8,179.4 111.6,171.4 115.7,163.4 119.4,155.4 122.7,147.4 125.2,139.4 127.2,131.4 129.2,123.4 131.1,115.3 132.2,107.3 132.6,99.3 132.9,91.3 133.3,83.3 133.7,75.3 134.1,67.3 134.5,59.3 135,51.3 135.4,43.3 135.7,35.3 136.1,27.3 136.5,19.3 136.6,11.3Z" fill="url(#g7)"/><path d="M82,11.3 82,19.3 81.9,27.3 81.9,35.3 81.9,43.3 81.8,51.3 81.7,59.3 81.6,67.3 81.5,75.3 81.5,83.3 81.5,91.3 81.4,99.3 81.4,107.3 81.5,115.3 81.8,123.4 81.8,131.4 81.8,139.4 81.6,147.4 81,155.4 80,163.4 78.7,171.4 76.8,179.4 73.9,187.4 70.3,195.4 65.6,203.4 58.3,211.4 54,219.4 70.3,219.4 74.6,211.4 83.9,203.4 91.3,195.4 97.3,187.4 102.6,179.4 107,171.4 110.7,163.4 114,155.4 116.9,147.4 119,139.4 120.8,131.4 122.5,123.4 124,115.3 124.9,107.3 125.2,99.3 125.5,91.3 125.8,83.3 126.1,75.3 126.5,67.3 126.8,59.3 127.2,51.3 127.5,43.3 127.8,35.3 128.1,27.3 128.4,19.3 128.5,11.3Z" fill="url(#g8)"/><path d="M107.1,11.3 107.2,19.3 107.8,27.3 108.5,35.3 109.2,43.3 110.1,51.3 111,59.3 112.1,67.3 113,75.3 113.9,83.3 114.8,91.3 115.6,99.3 116.5,107.3 117.7,115.3 119.4,123.4 121,131.4 122.2,139.4 123.3,147.4 124.4,155.4 125.5,163.4 126.3,171.4 127,179.4 128.4,187.4 129.3,195.4 129.5,203.4 128.2,211.4 125.3,219.4 217.3,219.4 220.2,211.4 224.2,203.4 229,195.4 233.2,187.4 236.8,179.4 237.8,171.4 238,163.4 238.1,155.4 238.2,147.4 237.2,139.4 236,131.4 234.4,123.4 232.7,115.3 231.5,107.3 230.6,99.3 229.8,91.3 228.9,83.3 228,75.3 227.1,67.3 226,59.3 225.1,51.3 224.2,43.3 223.5,35.3 222.8,27.3 222.2,19.3 222.1,11.3Z" fill="url(#g14)"/><path d="M125.1,11.3 125.2,19.3 125.7,27.3 126.3,35.3 126.9,43.3 127.6,51.3 128.5,59.3 129.4,67.3 130.3,75.3 131,83.3 131.8,91.3 132.6,99.3 133.3,107.3 134.4,115.3 135.8,123.4 137.1,131.4 138,139.4 138.9,147.4 139.7,155.4 140.4,163.4 141,171.4 141.3,179.4 142,187.4 142.3,195.4 141.9,203.4 140.2,211.4 137.3,219.4 205.3,219.4 208.2,211.4 211.9,203.4 216,195.4 219.5,187.4 222.5,179.4 223.4,171.4 223.6,163.4 223.7,155.4 223.8,147.4 223,139.4 222.1,131.4 220.8,123.4 219.4,115.3 218.3,107.3 217.6,99.3 216.8,91.3 216,83.3 215.3,75.3 214.4,67.3 213.5,59.3 212.6,51.3 211.9,43.3 211.3,35.3 210.7,27.3 210.2,19.3 210.1,11.3Z" fill="url(#g15)"/><path d="M137.1,11.3 137.2,19.3 137.6,27.3 138.1,35.3 138.7,43.3 139.4,51.3 140.2,59.3 141,67.3 141.8,75.3 142.5,83.3 143.2,91.3 143.9,99.3 144.6,107.3 145.5,115.3 146.7,123.4 147.8,131.4 148.6,139.4 149.2,147.4 149.9,155.4 150.4,163.4 150.8,171.4 150.9,179.4 151.2,187.4 151,195.4 150.1,203.4 148.2,211.4 145.3,219.4 197.3,219.4 200.2,211.4 203.7,203.4 207.3,195.4 210.4,187.4 213,179.4 213.8,171.4 214,163.4 214.1,155.4 214.2,147.4 213.6,139.4 212.8,131.4 211.7,123.4 210.5,115.3 209.6,107.3 208.9,99.3 208.2,91.3 207.5,83.3 206.8,75.3 206,67.3 205.2,59.3 204.4,51.3 203.7,43.3 203.1,35.3 202.6,27.3 202.2,19.3 202.1,11.3Z" fill="url(#g16)"/><path d="M146.1,11.3 146.2,19.3 146.6,27.3 147,35.3 147.5,43.3 148.1,51.3 148.9,59.3 149.7,67.3 150.4,75.3 151.1,83.3 151.7,91.3 152.3,99.3 153,107.3 153.8,115.3 154.9,123.4 155.9,131.4 156.5,139.4 157,147.4 157.5,155.4 157.9,163.4 158.1,171.4 158,179.4 158,187.4 157.5,195.4 156.3,203.4 154.2,211.4 151.3,219.4 191.3,219.4 194.2,211.4 197.5,203.4 200.8,195.4 203.6,187.4 205.8,179.4 206.6,171.4 206.8,163.4 206.9,155.4 207,147.4 206.5,139.4 205.9,131.4 204.9,123.4 203.8,115.3 203,107.3 202.3,99.3 201.7,91.3 201.1,83.3 200.4,75.3 199.7,67.3 198.9,59.3 198.1,51.3 197.5,43.3 197,35.3 196.6,27.3 196.2,19.3 196.1,11.3Z" fill="url(#g17)"/><path d="M152.8,11.3 152.9,19.3 153.3,27.3 153.7,35.3 154.2,43.3 154.7,51.3 155.4,59.3 156.2,67.3 156.9,75.3 157.5,83.3 158.1,91.3 158.7,99.3 159.3,107.3 160.1,115.3 161.1,123.4 161.9,131.4 162.5,139.4 162.8,147.4 163.2,155.4 163.5,163.4 163.6,171.4 163.4,179.4 163.1,187.4 162.3,195.4 160.9,203.4 158.7,211.4 155.8,219.4 186.8,219.4 189.7,211.4 192.8,203.4 196,195.4 198.4,187.4 200.4,179.4 201.2,171.4 201.4,163.4 201.5,155.4 201.6,147.4 201.2,139.4 200.7,131.4 199.8,123.4 198.8,115.3 198.1,107.3 197.5,99.3 196.9,91.3 196.2,83.3 195.6,75.3 194.9,67.3 194.2,59.3 193.5,51.3 192.9,43.3 192.4,35.3 192,27.3 191.7,19.3 191.6,11.3Z" fill="url(#g18)"/></g>
<g filter="url(#bn)"><path d="M86.2,11.3 86.2,19.3 86.1,27.3 86.1,35.3 86.1,43.3 86,51.3 85.9,59.3 85.8,67.3 85.7,75.3 85.7,83.3 85.7,91.3 85.6,99.3 85.6,107.3 85.6,115.3 85.7,123.4 85.6,131.4 85.5,139.4 85.1,147.4 84.2,155.4 83.1,163.4 81.6,171.4 79.4,179.4 76.3,187.4 72.5,195.4 67.6,203.4 60,211.4 55.8,219.4 68.4,219.4 72.6,211.4 81.7,203.4 88.7,195.4 94.5,187.4 99.4,179.4 103.4,171.4 106.8,163.4 109.8,155.4 112.4,147.4 114.3,139.4 115.8,131.4 117.3,123.4 118.6,115.3 119.3,107.3 119.6,99.3 119.8,91.3 120,83.3 120.2,75.3 120.5,67.3 120.8,59.3 121.1,51.3 121.4,43.3 121.6,35.3 121.9,27.3 122.1,19.3 122.2,11.3Z" fill="url(#g9)"/><path d="M89.5,11.3 89.5,19.3 89.5,27.3 89.4,35.3 89.4,43.3 89.4,51.3 89.3,59.3 89.2,67.3 89.1,75.3 89,83.3 89,91.3 89,99.3 88.9,107.3 88.9,115.3 88.9,123.4 88.7,131.4 88.4,139.4 87.8,147.4 86.8,155.4 85.5,163.4 83.8,171.4 81.5,179.4 78.3,187.4 74.3,195.4 69.1,203.4 61.4,211.4 57.2,219.4 66.9,219.4 71.1,211.4 79.9,203.4 86.7,195.4 92.2,187.4 96.9,179.4 100.6,171.4 103.7,163.4 106.4,155.4 108.8,147.4 110.5,139.4 111.8,131.4 113.1,123.4 114.2,115.3 114.8,107.3 115,99.3 115.2,91.3 115.4,83.3 115.5,75.3 115.8,67.3 116,59.3 116.3,51.3 116.5,43.3 116.7,35.3 116.9,27.3 117.1,19.3 117.1,11.3Z" fill="url(#g10)"/><path d="M92.4,11.3 92.4,19.3 92.4,27.3 92.3,35.3 92.3,43.3 92.2,51.3 92.1,59.3 92,67.3 92,75.3 91.9,83.3 91.9,91.3 91.9,99.3 91.8,107.3 91.8,115.3 91.6,123.4 91.3,131.4 90.9,139.4 90.2,147.4 89.1,155.4 87.6,163.4 85.8,171.4 83.3,179.4 79.9,187.4 75.8,195.4 70.5,203.4 62.6,211.4 58.4,219.4 65.5,219.4 69.8,211.4 78.4,203.4 85,195.4 90.2,187.4 94.7,179.4 98.2,171.4 101.1,163.4 103.6,155.4 105.7,147.4 107.2,139.4 108.4,131.4 109.5,123.4 110.4,115.3 110.9,107.3 111.1,99.3 111.2,91.3 111.4,83.3 111.5,75.3 111.7,67.3 111.9,59.3 112.1,51.3 112.3,43.3 112.5,35.3 112.6,27.3 112.8,19.3 112.8,11.3Z" fill="url(#g11)"/><path d="M95.2,11.3 95.2,19.3 95.1,27.3 95.1,35.3 95.1,43.3 95,51.3 94.9,59.3 94.8,67.3 94.7,75.3 94.7,83.3 94.7,91.3 94.6,99.3 94.6,107.3 94.5,115.3 94.2,123.4 93.8,131.4 93.3,139.4 92.5,147.4 91.2,155.4 89.6,163.4 87.6,171.4 85,179.4 81.5,187.4 77.2,195.4 71.7,203.4 63.8,211.4 59.5,219.4 64.3,219.4 68.5,211.4 77,203.4 83.3,195.4 88.3,187.4 92.5,179.4 95.8,171.4 98.5,163.4 100.8,155.4 102.8,147.4 104.1,139.4 105.1,131.4 106,123.4 106.8,115.3 107.2,107.3 107.4,99.3 107.5,91.3 107.6,83.3 107.7,75.3 107.8,67.3 108,59.3 108.2,51.3 108.3,43.3 108.4,35.3 108.5,27.3 108.7,19.3 108.7,11.3Z" fill="url(#g12)"/><path d="M97.9,11.3 97.9,19.3 97.9,27.3 97.8,35.3 97.8,43.3 97.8,51.3 97.7,59.3 97.6,67.3 97.5,75.3 97.4,83.3 97.4,91.3 97.4,99.3 97.3,107.3 97.2,115.3 96.8,123.4 96.3,131.4 95.7,139.4 94.8,147.4 93.4,155.4 91.6,163.4 89.5,171.4 86.8,179.4 83.1,187.4 78.7,195.4 73,203.4 64.9,211.4 60.7,219.4 63,219.4 67.3,211.4 75.6,203.4 81.7,195.4 86.4,187.4 90.4,179.4 93.5,171.4 96,163.4 98.1,155.4 99.8,147.4 100.9,139.4 101.8,131.4 102.6,123.4 103.2,115.3 103.5,107.3 103.6,99.3 103.7,91.3 103.7,83.3 103.8,75.3 103.9,67.3 104.1,59.3 104.2,51.3 104.3,43.3 104.4,35.3 104.4,27.3 104.5,19.3 104.5,11.3Z" fill="url(#g13)"/><path d="M158.1,11.3 158.2,19.3 158.5,27.3 158.9,35.3 159.3,43.3 159.9,51.3 160.5,59.3 161.3,67.3 161.9,75.3 162.5,83.3 163.1,91.3 163.7,99.3 164.2,107.3 165,115.3 165.9,123.4 166.6,131.4 167.1,139.4 167.4,147.4 167.7,155.4 167.9,163.4 167.9,171.4 167.6,179.4 167.1,187.4 166.1,195.4 164.5,203.4 162.2,211.4 159.3,219.4 183.3,219.4 186.2,211.4 189.2,203.4 192.2,195.4 194.4,187.4 196.2,179.4 197,171.4 197.2,163.4 197.3,155.4 197.4,147.4 197.1,139.4 196.6,131.4 195.9,123.4 195,115.3 194.2,107.3 193.7,99.3 193.1,91.3 192.5,83.3 191.9,75.3 191.3,67.3 190.5,59.3 189.9,51.3 189.3,43.3 188.9,35.3 188.5,27.3 188.2,19.3 188.1,11.3Z" fill="url(#g19)"/><path d="M162.3,11.3 162.4,19.3 162.7,27.3 163,35.3 163.4,43.3 164,51.3 164.6,59.3 165.3,67.3 165.9,75.3 166.5,83.3 167.1,91.3 167.6,99.3 168.2,107.3 168.8,115.3 169.7,123.4 170.4,131.4 170.8,139.4 171,147.4 171.2,155.4 171.4,163.4 171.3,171.4 170.9,179.4 170.3,187.4 169.2,195.4 167.4,203.4 165,211.4 162.1,219.4 180.5,219.4 183.4,211.4 186.4,203.4 189.1,195.4 191.3,187.4 192.9,179.4 193.6,171.4 193.9,163.4 194,155.4 194,147.4 193.8,139.4 193.4,131.4 192.7,123.4 191.8,115.3 191.2,107.3 190.6,99.3 190.1,91.3 189.5,83.3 188.9,75.3 188.3,67.3 187.6,59.3 187,51.3 186.4,43.3 186,35.3 185.7,27.3 185.4,19.3 185.3,11.3Z" fill="url(#g20)"/><path d="M165.9,11.3 166,19.3 166.2,27.3 166.6,35.3 167,43.3 167.5,51.3 168.1,59.3 168.8,67.3 169.4,75.3 169.9,83.3 170.5,91.3 171,99.3 171.5,107.3 172.2,115.3 173,123.4 173.6,131.4 174,139.4 174.1,147.4 174.3,155.4 174.3,163.4 174.3,171.4 173.8,179.4 173,187.4 171.8,195.4 169.9,203.4 167.4,211.4 164.5,219.4 178.1,219.4 181,211.4 183.9,203.4 186.5,195.4 188.5,187.4 190,179.4 190.7,171.4 191,163.4 191.1,155.4 191.1,147.4 191,139.4 190.6,131.4 190,123.4 189.2,115.3 188.5,107.3 188,99.3 187.5,91.3 186.9,83.3 186.4,75.3 185.8,67.3 185.1,59.3 184.5,51.3 184,43.3 183.6,35.3 183.2,27.3 183,19.3 182.9,11.3Z" fill="url(#g21)"/><path d="M169.3,11.3 169.4,19.3 169.7,27.3 170,35.3 170.4,43.3 170.8,51.3 171.5,59.3 172.1,67.3 172.7,75.3 173.2,83.3 173.7,91.3 174.2,99.3 174.8,107.3 175.4,115.3 176.1,123.4 176.7,131.4 177,139.4 177.1,147.4 177.2,155.4 177.2,163.4 177.1,171.4 176.5,179.4 175.6,187.4 174.3,195.4 172.3,203.4 169.7,211.4 166.8,219.4 175.8,219.4 178.7,211.4 181.5,203.4 184,195.4 185.9,187.4 187.3,179.4 188,171.4 188.2,163.4 188.3,155.4 188.4,147.4 188.2,139.4 188,131.4 187.3,123.4 186.6,115.3 186,107.3 185.5,99.3 185,91.3 184.5,83.3 183.9,75.3 183.4,67.3 182.7,59.3 182.1,51.3 181.6,43.3 181.2,35.3 180.9,27.3 180.7,19.3 180.6,11.3Z" fill="url(#g22)"/><path d="M172.8,11.3 172.9,19.3 173.1,27.3 173.4,35.3 173.7,43.3 174.2,51.3 174.8,59.3 175.4,67.3 176,75.3 176.5,83.3 177,91.3 177.5,99.3 178,107.3 178.6,115.3 179.2,123.4 179.8,131.4 180,139.4 180.1,147.4 180.2,155.4 180.1,163.4 179.9,171.4 179.3,179.4 178.3,187.4 176.8,195.4 174.6,203.4 172,211.4 169.1,219.4 173.5,219.4 176.4,211.4 179.1,203.4 181.5,195.4 183.3,187.4 184.5,179.4 185.2,171.4 185.5,163.4 185.6,155.4 185.6,147.4 185.5,139.4 185.3,131.4 184.7,123.4 184.1,115.3 183.5,107.3 183,99.3 182.5,91.3 182,83.3 181.5,75.3 180.9,67.3 180.3,59.3 179.7,51.3 179.2,43.3 178.9,35.3 178.6,27.3 178.4,19.3 178.3,11.3Z" fill="url(#g23)"/><path d="M90.3,174.1 88.6,178.9 86.4,183.7 84,188.5 81.3,193.3 78.1,198.1 74.6,202.9 69.8,207.7" fill="none" stroke="#000" stroke-opacity="0.8" stroke-width="4.5" stroke-linecap="round"/><path d="M84.7,187.3 83.5,189.3 82.3,191.4 81.1,193.5 79.9,195.6 78.4,197.7 76.9,199.8 75.3,201.9" fill="none" stroke="#000" stroke-opacity="0.9" stroke-width="3" stroke-linecap="round"/></g>
</g></g>
<g clip-path="url(#cp1)" fill="none" stroke="#f0f" stroke-width="1.6" stroke-dasharray="11.1 6.85" stroke-dashoffset="2.1">
<path d="M60.1,209.4 62.6,205.4 65,201.4 67.2,197.4 69.3,193.4 71.1,189.4 72.6,185.4 74.1,181.4 75.3,177.4 76.4,173.4 77.1,169.4 77.5,165.4 77.9,161.4 78.2,157.4 78.5,153.4 78.7,149.4 78.8,145.4 78.9,141.4 78.8,137.4 78.7,133.4 78.5,129.4 78.4,125.4 78.1,121.4 77.9,117.4 77.7,113.4 77.6,109.4 77.4,105.4 77.2,101.4 77,97.4 76.8,93.4 76.6,89.4 76.5,85.4 76.3,81.4 76.1,77.4 75.9,73.4 75.8,69.4 75.6,65.4 75.5,61.4 75.4,57.4 75.2,53.4 75.1,49.4 75,45.4 74.8,41.4 74.7,37.4 74.5,33.4 74.4,29.4 74.2,25.4 74,21.4 73.9,18.4"/>
<path d="M63.1,209.4 67.9,205.4 70.9,201.4 73.2,197.4 75.4,193.4 77.7,189.4 79.8,185.4 81.6,181.4 83,177.4 84.2,173.4 85.3,169.4 86.2,165.4 86.9,161.4 87.6,157.4 88.3,153.4 88.8,149.4 89.2,145.4 89.4,141.4 89.5,137.4 89.5,133.4 89.6,129.4 89.6,125.4 89.6,121.4 89.7,117.4 89.7,113.4 89.7,109.4 89.6,105.4 89.6,101.4 89.5,97.4 89.4,93.4 89.4,89.4 89.3,85.4 89.2,81.4 89.1,77.4 89.1,73.4 89,69.4 89,65.4 88.9,61.4 88.9,57.4 88.8,53.4 88.8,49.4 88.8,45.4 88.8,41.4 88.8,37.4 88.8,33.4 88.8,29.4 88.8,25.4 88.8,21.4 88.8,18.4"/>
<path d="M68.5,209.4 72.2,205.4 75.5,201.4 78.6,197.4 81.4,193.4 83.8,189.4 86,185.4 88,181.4 89.6,177.4 91,173.4 92.3,169.4 93.4,165.4 94.4,161.4 95.1,157.4 95.7,153.4 96.2,149.4 96.7,145.4 97,141.4 97.3,137.4 97.6,133.4 97.8,129.4 98,125.4 98.2,121.4 98.3,117.4 98.4,113.4 98.5,109.4 98.5,105.4 98.6,101.4 98.6,97.4 98.6,93.4 98.7,89.4 98.7,85.4 98.7,81.4 98.7,77.4 98.7,73.4 98.7,69.4 98.7,65.4 98.6,61.4 98.6,57.4 98.5,53.4 98.5,49.4 98.4,45.4 98.4,41.4 98.4,37.4 98.4,33.4 98.4,29.4 98.4,25.4 98.4,21.4 98.4,18.4"/>
<path d="M74,209.4 77.9,205.4 82.2,201.4 85.6,197.4 88.3,193.4 90.6,189.4 92.7,185.4 94.5,181.4 96.1,177.4 97.5,173.4 98.9,169.4 100.1,165.4 101.2,161.4 102.2,157.4 103.2,153.4 104.1,149.4 104.9,145.4 105.6,141.4 106.2,137.4 106.7,133.4 107.2,129.4 107.7,125.4 108,121.4 108.4,117.4 108.6,113.4 108.7,109.4 108.8,105.4 108.9,101.4 108.9,97.4 109,93.4 109,89.4 109.1,85.4 109.1,81.4 109.2,77.4 109.2,73.4 109.3,69.4 109.4,65.4 109.5,61.4 109.6,57.4 109.7,53.4 109.8,49.4 109.8,45.4 109.8,41.4 109.8,37.4 109.8,33.4 109.8,29.4 109.8,25.4 109.8,21.4 109.8,18.4"/>
<path d="M85.6,209.4 90.3,205.4 95.1,201.4 98.9,197.4 102,193.4 104.7,189.4 107.1,185.4 109.5,181.4 111.7,177.4 113.8,173.4 115.7,169.4 117.4,165.4 118.9,161.4 120.2,157.4 121.4,153.4 122.5,149.4 123.5,145.4 124.5,141.4 125.3,137.4 126.2,133.4 127,129.4 127.7,125.4 128.4,121.4 129,117.4 129.5,113.4 129.8,109.4 130.1,105.4 130.4,101.4 130.6,97.4 130.9,93.4 131.1,89.4 131.2,85.4 131.4,81.4 131.6,77.4 131.7,73.4 131.9,69.4 132,65.4 132.2,61.4 132.3,57.4 132.5,53.4 132.5,49.4 132.6,45.4 132.6,41.4 132.6,37.4 132.6,33.4 132.6,29.4 132.6,25.4 132.6,21.4 132.6,18.4"/>
<path d="M142,209.4 144.5,205.4 147.3,201.4 150,197.4 152.1,193.4 153.7,189.4 155.1,185.4 156.3,181.4 157.4,177.4 158.3,173.4 159,169.4 159.5,165.4 159.9,161.4 160.2,157.4 160.6,153.4 160.9,149.4 161.3,145.4 161.7,141.4 161.8,137.4 161.9,133.4 161.9,129.4 162,125.4 162,121.4 162.1,117.4 162.1,113.4 162.1,109.4 162,105.4 161.9,101.4 161.6,97.4 161.3,93.4 160.9,89.4 160.5,85.4 160.1,81.4 159.8,77.4 159.5,73.4 159.2,69.4 158.8,65.4 158.5,61.4 158.2,57.4 157.9,53.4 157.6,49.4 157.5,45.4 157.3,41.4 157.2,37.4 157.1,33.4 157,29.4 156.9,25.4 156.8,21.4 156.8,18.4"/>
<path d="M167.5,209.4 169.1,205.4 170.6,201.4 171.9,197.4 172.8,193.4 173.6,189.4 174.3,185.4 174.8,181.4 175.2,177.4 175.6,173.4 175.8,169.4 176,165.4 176.2,161.4 176.3,157.4 176.4,153.4 176.4,149.4 176.3,145.4 176.2,141.4 176.1,137.4 175.9,133.4 175.7,129.4 175.5,125.4 175.2,121.4 174.9,117.4 174.7,113.4 174.4,109.4 174.1,105.4 173.8,101.4 173.4,97.4 173.1,93.4 172.7,89.4 172.4,85.4 172,81.4 171.7,77.4 171.4,73.4 171.1,69.4 170.9,65.4 170.6,61.4 170.4,57.4 170.1,53.4 169.9,49.4 169.7,45.4 169.6,41.4 169.4,37.4 169.2,33.4 169.1,29.4 169,25.4 168.9,21.4 168.8,18.4"/>
<path d="M175.7,209.4 177,205.4 178.3,201.4 179.4,197.4 180.3,193.4 181.2,189.4 181.9,185.4 182.4,181.4 182.9,177.4 183.2,173.4 183.4,169.4 183.5,165.4 183.6,161.4 183.7,157.4 183.7,153.4 183.7,149.4 183.7,145.4 183.7,141.4 183.7,137.4 183.6,133.4 183.4,129.4 183.2,125.4 182.9,121.4 182.5,117.4 182.2,113.4 182,109.4 181.7,105.4 181.5,101.4 181.3,97.4 181.1,93.4 180.8,89.4 180.6,85.4 180.4,81.4 180.1,77.4 179.9,73.4 179.6,69.4 179.3,65.4 179,61.4 178.7,57.4 178.4,53.4 178.1,49.4 177.9,45.4 177.7,41.4 177.6,37.4 177.4,33.4 177.3,29.4 177.1,25.4 177,21.4 177,18.4"/>
<path d="M181,209.4 182.4,205.4 183.8,201.4 185,197.4 186,193.4 186.9,189.4 187.7,185.4 188.4,181.4 189,177.4 189.5,173.4 189.9,169.4 190.3,165.4 190.6,161.4 190.9,157.4 191,153.4 191,149.4 191,145.4 191,141.4 191,137.4 190.9,133.4 190.8,129.4 190.6,125.4 190.4,121.4 190.2,117.4 190,113.4 189.8,109.4 189.7,105.4 189.6,101.4 189.5,97.4 189.4,93.4 189.4,89.4 189.3,85.4 189.2,81.4 189.1,77.4 188.9,73.4 188.8,69.4 188.6,65.4 188.4,61.4 188.1,57.4 187.9,53.4 187.7,49.4 187.5,45.4 187.4,41.4 187.3,37.4 187.2,33.4 187.1,29.4 187,25.4 186.9,21.4 186.9,18.4"/>
<path d="M186,209.4 188.2,205.4 190.4,201.4 192.2,197.4 194,193.4 195.5,189.4 196.8,185.4 198,181.4 199.1,177.4 200,173.4 200.9,169.4 201.7,165.4 202.5,161.4 203.2,157.4 203.8,153.4 204.5,149.4 205,145.4 205.4,141.4 205.7,137.4 206,133.4 206.2,129.4 206.4,125.4 206.6,121.4 206.8,117.4 207,113.4 207.3,109.4 207.6,105.4 208,101.4 208.3,97.4 208.7,93.4 209.1,89.4 209.5,85.4 209.9,81.4 210.2,77.4 210.5,73.4 210.9,69.4 211.2,65.4 211.5,61.4 211.8,57.4 212.1,53.4 212.4,49.4 212.5,45.4 212.7,41.4 212.8,37.4 212.9,33.4 213,29.4 213.1,25.4 213.2,21.4 213.2,18.4"/>
<path d="M211.2,209.4 219.1,205.4 226.9,201.4 234.7,197.4 242.5,193.4 246.4,191.4"/>
</g>
<g clip-path="url(#cp1)" fill="#f0f" font-family="'Liberation Sans',sans-serif" font-size="15.3" text-anchor="middle">
<text transform="translate(66.9,54.4) rotate(88)" y="5.4">-60<tspan font-size="22" dy="4.3">°</tspan></text>
<text transform="translate(222,194.5) rotate(-27.1)" y="5.4">-660<tspan font-size="22" dy="4.3">°</tspan></text>
</g>
<rect x="85.3" y="36.3" width="135.8" height="75" fill="none" stroke="#000" stroke-width="1.6"/>
<rect x="51" y="21.3" width="189.7" height="188.1" fill="none" stroke="#333" stroke-opacity="0.55" stroke-width="0.6"/>
<g id="pa2"><g clip-path="url(#cp2)"><g filter="url(#par)">
<rect x="229" y="5.3" width="221.7" height="220.1" fill="url(#b24)"/>
<ellipse cx="457.5" cy="201.9" rx="61.3" ry="134.3" fill="url(#r25)"/>
<ellipse cx="330.5" cy="213.5" rx="43.8" ry="46.7" fill="url(#r26)"/>
<g filter="url(#bw)"><path d="M226.1,11.3 226.2,19.3 226.9,27.3 227.6,35.3 228.3,43.3 229.1,51.3 229.8,59.3 230.5,67.3 231.2,75.3 231.9,83.3 232.6,91.3 233.3,99.3 234,107.3 235.2,115.3 236.9,123.4 238.4,131.4 239.7,139.4 240.8,147.4 242,155.4 243,163.4 243.6,171.4 243.5,179.4 243,187.4 242.4,195.4 241.2,203.4 238.3,211.4 232.4,219.4 285.3,219.4 291.2,211.4 302.4,203.4 315,195.4 324.7,187.4 333.3,179.4 341.5,171.4 349.4,163.4 356.8,155.4 363.9,147.4 368.5,139.4 372.5,131.4 376.2,123.4 379.8,115.3 381.8,107.3 382.3,99.3 382.8,91.3 383.2,83.3 383.7,75.3 384.2,67.3 384.7,59.3 385.1,51.3 385.6,43.3 386,35.3 386.5,27.3 387,19.3 387.1,11.3Z" fill="url(#g27)"/><path d="M244.1,11.3 244.1,19.3 244.6,27.3 245.2,35.3 245.7,43.3 246.2,51.3 246.7,59.3 247.2,67.3 247.7,75.3 248.2,83.3 248.7,91.3 249.2,99.3 249.7,107.3 250.6,115.3 251.7,123.4 252.6,131.4 253.4,139.4 253.9,147.4 254.4,155.4 254.6,163.4 254.5,171.4 253.7,179.4 252.5,187.4 251.1,195.4 248.7,203.4 244.9,211.4 239,219.4 278.1,219.4 284,211.4 293.9,203.4 304.7,195.4 312.9,187.4 320.1,179.4 326.9,171.4 333.3,163.4 339.2,155.4 344.9,147.4 348.6,139.4 351.7,131.4 354.7,123.4 357.4,115.3 358.9,107.3 359.3,99.3 359.7,91.3 360.1,83.3 360.5,75.3 360.8,67.3 361.2,59.3 361.6,51.3 361.9,43.3 362.3,35.3 362.6,27.3 363,19.3 363.1,11.3Z" fill="url(#g28)"/><path d="M256.1,11.3 256.1,19.3 256.5,27.3 256.9,35.3 257.2,43.3 257.6,51.3 258,59.3 258.4,67.3 258.7,75.3 259.1,83.3 259.5,91.3 259.8,99.3 260.1,107.3 260.8,115.3 261.5,123.4 262.1,131.4 262.5,139.4 262.6,147.4 262.7,155.4 262.4,163.4 261.8,171.4 260.5,179.4 258.8,187.4 256.8,195.4 253.6,203.4 249.3,211.4 243.4,219.4 273.3,219.4 279.2,211.4 288.2,203.4 297.9,195.4 305,187.4 311.3,179.4 317.1,171.4 322.5,163.4 327.5,155.4 332.2,147.4 335.3,139.4 337.9,131.4 340.3,123.4 342.5,115.3 343.7,107.3 344,99.3 344.3,91.3 344.6,83.3 345,75.3 345.2,67.3 345.5,59.3 345.8,51.3 346.1,43.3 346.4,35.3 346.7,27.3 347,19.3 347.1,11.3Z" fill="url(#g29)"/><path d="M265.1,11.3 265.1,19.3 265.4,27.3 265.6,35.3 265.9,43.3 266.2,51.3 266.5,59.3 266.7,67.3 267,75.3 267.3,83.3 267.5,91.3 267.8,99.3 268,107.3 268.4,115.3 268.9,123.4 269.2,131.4 269.3,139.4 269.2,147.4 268.8,155.4 268.2,163.4 267.2,171.4 265.7,179.4 263.6,187.4 261.2,195.4 257.4,203.4 252.6,211.4 246.7,219.4 269.7,219.4 275.6,211.4 284,203.4 292.7,195.4 299.1,187.4 304.7,179.4 309.8,171.4 314.5,163.4 318.7,155.4 322.7,147.4 325.3,139.4 327.5,131.4 329.5,123.4 331.3,115.3 332.2,107.3 332.5,99.3 332.8,91.3 333.1,83.3 333.3,75.3 333.6,67.3 333.8,59.3 334.1,51.3 334.3,43.3 334.5,35.3 334.8,27.3 335,19.3 335.1,11.3Z" fill="url(#g30)"/><path d="M271.8,11.3 271.8,19.3 272,27.3 272.2,35.3 272.4,43.3 272.6,51.3 272.8,59.3 273,67.3 273.2,75.3 273.4,83.3 273.6,91.3 273.7,99.3 273.9,107.3 274.2,115.3 274.5,123.4 274.6,131.4 274.5,139.4 274.1,147.4 273.5,155.4 272.6,163.4 271.3,171.4 269.5,179.4 267.2,187.4 264.4,195.4 260.2,203.4 255,211.4 249.2,219.4 267,219.4 272.9,211.4 280.8,203.4 288.9,195.4 294.7,187.4 299.7,179.4 304.3,171.4 308.4,163.4 312.2,155.4 315.6,147.4 317.9,139.4 319.7,131.4 321.4,123.4 322.9,115.3 323.7,107.3 323.9,99.3 324.2,91.3 324.4,83.3 324.6,75.3 324.8,67.3 325,59.3 325.2,51.3 325.4,43.3 325.6,35.3 325.8,27.3 326,19.3 326.1,11.3Z" fill="url(#g31)"/><path d="M288.6,11.3 288.8,19.3 289.6,27.3 290.2,35.3 290.9,43.3 291.7,51.3 292.6,59.3 293.7,67.3 294.8,75.3 295.9,83.3 297,91.3 298,99.3 299,107.3 301,115.3 303.9,123.4 306.6,131.4 309.3,139.4 311.8,147.4 314.4,155.4 316.9,163.4 319.2,171.4 321.1,179.4 322.8,187.4 323.6,195.4 323.7,203.4 322.6,211.4 319.6,219.4 411.6,219.4 414.6,211.4 418.5,203.4 423.3,195.4 427.6,187.4 431,179.4 431.6,171.4 431.6,163.4 431.4,155.4 431.1,147.4 428.9,139.4 426.2,131.4 423.5,123.4 420.6,115.3 418.6,107.3 417.6,99.3 416.6,91.3 415.5,83.3 414.4,75.3 413.3,67.3 412.2,59.3 411.3,51.3 410.5,43.3 409.8,35.3 409.2,27.3 408.4,19.3 408.2,11.3Z" fill="url(#g37)"/><path d="M309,11.3 309.2,19.3 309.9,27.3 310.4,35.3 310.9,43.3 311.6,51.3 312.5,59.3 313.5,67.3 314.5,75.3 315.4,83.3 316.4,91.3 317.4,99.3 318.3,107.3 319.9,115.3 322.3,123.4 324.4,131.4 326.6,139.4 328.5,147.4 330.5,155.4 332.4,163.4 334.1,171.4 335.5,179.4 336.5,187.4 336.6,195.4 336.1,203.4 334.6,211.4 331.6,219.4 399.6,219.4 402.6,211.4 406.1,203.4 410.3,195.4 413.9,187.4 416.7,179.4 417.2,171.4 417.2,163.4 417,155.4 416.7,147.4 415,139.4 412.8,131.4 410.7,123.4 408.3,115.3 406.7,107.3 405.8,99.3 404.8,91.3 403.8,83.3 402.9,75.3 401.9,67.3 400.9,59.3 400,51.3 399.3,43.3 398.8,35.3 398.3,27.3 397.6,19.3 397.4,11.3Z" fill="url(#g38)"/><path d="M322.6,11.3 322.8,19.3 323.4,27.3 323.9,35.3 324.3,43.3 324.9,51.3 325.8,59.3 326.7,67.3 327.6,75.3 328.5,83.3 329.4,91.3 330.3,99.3 331.1,107.3 332.6,115.3 334.5,123.4 336.3,131.4 338.1,139.4 339.7,147.4 341.3,155.4 342.8,163.4 344,171.4 345,179.4 345.6,187.4 345.2,195.4 344.3,203.4 342.6,211.4 339.6,219.4 391.6,219.4 394.6,211.4 397.9,203.4 401.6,195.4 404.8,187.4 407.1,179.4 407.6,171.4 407.6,163.4 407.4,155.4 407.1,147.4 405.7,139.4 403.9,131.4 402.1,123.4 400.2,115.3 398.7,107.3 397.9,99.3 397,91.3 396.1,83.3 395.2,75.3 394.3,67.3 393.4,59.3 392.5,51.3 391.9,43.3 391.5,35.3 391,27.3 390.4,19.3 390.2,11.3Z" fill="url(#g39)"/><path d="M332.8,11.3 333,19.3 333.6,27.3 333.9,35.3 334.3,43.3 334.9,51.3 335.7,59.3 336.6,67.3 337.4,75.3 338.3,83.3 339.1,91.3 340,99.3 340.7,107.3 342,115.3 343.7,123.4 345.2,131.4 346.7,139.4 348,147.4 349.3,155.4 350.5,163.4 351.5,171.4 352.2,179.4 352.4,187.4 351.7,195.4 350.5,203.4 348.6,211.4 345.6,219.4 385.6,219.4 388.6,211.4 391.7,203.4 395.1,195.4 398,187.4 399.9,179.4 400.4,171.4 400.4,163.4 400.2,155.4 399.9,147.4 398.7,139.4 397.2,131.4 395.7,123.4 394,115.3 392.7,107.3 392,99.3 391.1,91.3 390.3,83.3 389.4,75.3 388.6,67.3 387.7,59.3 386.9,51.3 386.3,43.3 385.9,35.3 385.6,27.3 385,19.3 384.8,11.3Z" fill="url(#g40)"/><path d="M340.4,11.3 340.6,19.3 341.2,27.3 341.5,35.3 341.9,43.3 342.4,51.3 343.1,59.3 344,67.3 344.8,75.3 345.6,83.3 346.4,91.3 347.2,99.3 348,107.3 349.1,115.3 350.6,123.4 351.9,131.4 353.2,139.4 354.3,147.4 355.4,155.4 356.4,163.4 357.1,171.4 357.6,179.4 357.5,187.4 356.6,195.4 355.1,203.4 353.1,211.4 350.1,219.4 381.1,219.4 384.1,211.4 387.1,203.4 390.2,195.4 392.9,187.4 394.6,179.4 395,171.4 395,163.4 394.8,155.4 394.5,147.4 393.5,139.4 392.2,131.4 390.9,123.4 389.4,115.3 388.3,107.3 387.5,99.3 386.7,91.3 385.9,83.3 385.1,75.3 384.3,67.3 383.4,59.3 382.7,51.3 382.2,43.3 381.8,35.3 381.5,27.3 380.9,19.3 380.7,11.3Z" fill="url(#g41)"/></g>
<g filter="url(#bn)"><path d="M277.1,11.3 277.1,19.3 277.2,27.3 277.3,35.3 277.5,43.3 277.6,51.3 277.8,59.3 277.9,67.3 278,75.3 278.1,83.3 278.3,91.3 278.4,99.3 278.5,107.3 278.7,115.3 278.8,123.4 278.7,131.4 278.5,139.4 277.9,147.4 277.1,155.4 276,163.4 274.5,171.4 272.5,179.4 269.9,187.4 266.9,195.4 262.3,203.4 257,211.4 251.1,219.4 264.9,219.4 270.8,211.4 278.3,203.4 285.9,195.4 291.2,187.4 295.9,179.4 300.1,171.4 303.8,163.4 307,155.4 310.1,147.4 312.1,139.4 313.7,131.4 315.1,123.4 316.4,115.3 317,107.3 317.2,99.3 317.4,91.3 317.6,83.3 317.8,75.3 318,67.3 318.2,59.3 318.3,51.3 318.5,43.3 318.7,35.3 318.8,27.3 319,19.3 319.1,11.3Z" fill="url(#g32)"/><path d="M281.3,11.3 281.3,19.3 281.3,27.3 281.4,35.3 281.5,43.3 281.6,51.3 281.7,59.3 281.8,67.3 281.9,75.3 282,83.3 282,91.3 282.1,99.3 282.1,107.3 282.2,115.3 282.2,123.4 282,131.4 281.7,139.4 281,147.4 280,155.4 278.7,163.4 277,171.4 274.8,179.4 272.2,187.4 268.9,195.4 264.1,203.4 258.5,211.4 252.6,219.4 263.2,219.4 269.1,211.4 276.3,203.4 283.5,195.4 288.5,187.4 292.8,179.4 296.6,171.4 300,163.4 302.9,155.4 305.6,147.4 307.4,139.4 308.8,131.4 310.1,123.4 311.1,115.3 311.7,107.3 311.9,99.3 312.1,91.3 312.2,83.3 312.4,75.3 312.5,67.3 312.7,59.3 312.8,51.3 313,43.3 313.1,35.3 313.3,27.3 313.4,19.3 313.5,11.3Z" fill="url(#g33)"/><path d="M284.9,11.3 284.8,19.3 284.9,27.3 284.9,35.3 285,43.3 285.1,51.3 285.1,59.3 285.1,67.3 285.2,75.3 285.2,83.3 285.2,91.3 285.3,99.3 285.3,107.3 285.3,115.3 285.2,123.4 284.9,131.4 284.4,139.4 283.6,147.4 282.5,155.4 281.1,163.4 279.2,171.4 276.9,179.4 274.1,187.4 270.7,195.4 265.6,203.4 259.8,211.4 254,219.4 261.8,219.4 267.7,211.4 274.6,203.4 281.4,195.4 286.1,187.4 290.2,179.4 293.7,171.4 296.8,163.4 299.4,155.4 301.8,147.4 303.4,139.4 304.7,131.4 305.8,123.4 306.7,115.3 307.1,107.3 307.3,99.3 307.4,91.3 307.6,83.3 307.7,75.3 307.9,67.3 308,59.3 308.1,51.3 308.2,43.3 308.4,35.3 308.5,27.3 308.6,19.3 308.7,11.3Z" fill="url(#g34)"/><path d="M288.3,11.3 288.3,19.3 288.3,27.3 288.3,35.3 288.3,43.3 288.3,51.3 288.3,59.3 288.3,67.3 288.4,75.3 288.3,83.3 288.3,91.3 288.3,99.3 288.3,107.3 288.2,115.3 288,123.4 287.6,131.4 287,139.4 286.1,147.4 284.8,155.4 283.3,163.4 281.3,171.4 278.8,179.4 275.9,187.4 272.3,195.4 267,203.4 261.1,211.4 255.2,219.4 260.4,219.4 266.3,211.4 273,203.4 279.4,195.4 283.9,187.4 287.6,179.4 290.9,171.4 293.7,163.4 296.1,155.4 298.2,147.4 299.6,139.4 300.7,131.4 301.6,123.4 302.4,115.3 302.7,107.3 302.9,99.3 303,91.3 303.2,83.3 303.3,75.3 303.4,67.3 303.5,59.3 303.6,51.3 303.7,43.3 303.8,35.3 303.9,27.3 304,19.3 304.1,11.3Z" fill="url(#g35)"/><path d="M291.8,11.3 291.7,19.3 291.7,27.3 291.7,35.3 291.7,43.3 291.6,51.3 291.6,59.3 291.6,67.3 291.5,75.3 291.5,83.3 291.4,91.3 291.4,99.3 291.3,107.3 291.2,115.3 290.8,123.4 290.3,131.4 289.6,139.4 288.6,147.4 287.2,155.4 285.5,163.4 283.4,171.4 280.8,179.4 277.7,187.4 274,195.4 268.4,203.4 262.4,211.4 256.5,219.4 259,219.4 264.9,211.4 271.4,203.4 277.5,195.4 281.6,187.4 285.1,179.4 288.1,171.4 290.6,163.4 292.7,155.4 294.5,147.4 295.8,139.4 296.7,131.4 297.5,123.4 298.1,115.3 298.3,107.3 298.5,99.3 298.6,91.3 298.7,83.3 298.8,75.3 298.9,67.3 299,59.3 299.1,51.3 299.2,43.3 299.2,35.3 299.3,27.3 299.4,19.3 299.5,11.3Z" fill="url(#g36)"/><path d="M346.4,11.3 346.6,19.3 347.1,27.3 347.4,35.3 347.7,43.3 348.2,51.3 348.9,59.3 349.7,67.3 350.5,75.3 351.3,83.3 352.1,91.3 352.9,99.3 353.6,107.3 354.6,115.3 356,123.4 357.1,131.4 358.2,139.4 359.2,147.4 360.1,155.4 360.9,163.4 361.5,171.4 361.7,179.4 361.5,187.4 360.4,195.4 358.7,203.4 356.6,211.4 353.6,219.4 377.6,219.4 380.6,211.4 383.5,203.4 386.4,195.4 388.9,187.4 390.4,179.4 390.8,171.4 390.8,163.4 390.6,155.4 390.3,147.4 389.4,139.4 388.3,131.4 387.2,123.4 385.8,115.3 384.8,107.3 384.1,99.3 383.3,91.3 382.5,83.3 381.7,75.3 380.9,67.3 380.1,59.3 379.4,51.3 378.9,43.3 378.6,35.3 378.3,27.3 377.8,19.3 377.6,11.3Z" fill="url(#g42)"/><path d="M351.2,11.3 351.3,19.3 351.8,27.3 352.1,35.3 352.4,43.3 352.9,51.3 353.6,59.3 354.3,67.3 355.1,75.3 355.9,83.3 356.6,91.3 357.4,99.3 358.1,107.3 359,115.3 360.2,123.4 361.3,131.4 362.3,139.4 363.1,147.4 363.9,155.4 364.5,163.4 364.9,171.4 365.1,179.4 364.7,187.4 363.5,195.4 361.6,203.4 359.4,211.4 356.4,219.4 374.8,219.4 377.8,211.4 380.6,203.4 383.4,195.4 385.7,187.4 387,179.4 387.4,171.4 387.5,163.4 387.3,155.4 386.9,147.4 386.2,139.4 385.2,131.4 384.2,123.4 383,115.3 382,107.3 381.3,99.3 380.5,91.3 379.8,83.3 379,75.3 378.3,67.3 377.5,59.3 376.8,51.3 376.3,43.3 376,35.3 375.7,27.3 375.2,19.3 375.1,11.3Z" fill="url(#g43)"/><path d="M355.2,11.3 355.4,19.3 355.9,27.3 356.1,35.3 356.4,43.3 356.9,51.3 357.5,59.3 358.3,67.3 359,75.3 359.8,83.3 360.5,91.3 361.2,99.3 361.9,107.3 362.8,115.3 363.9,123.4 364.9,131.4 365.7,139.4 366.4,147.4 367.1,155.4 367.6,163.4 367.9,171.4 367.9,179.4 367.4,187.4 366.1,195.4 364.1,203.4 361.8,211.4 358.8,219.4 372.4,219.4 375.4,211.4 378.1,203.4 380.8,195.4 382.9,187.4 384.2,179.4 384.6,171.4 384.6,163.4 384.4,155.4 384.1,147.4 383.4,139.4 382.5,131.4 381.6,123.4 380.5,115.3 379.6,107.3 378.9,99.3 378.2,91.3 377.4,83.3 376.7,75.3 376,67.3 375.2,59.3 374.6,51.3 374.1,43.3 373.8,35.3 373.5,27.3 373.1,19.3 372.9,11.3Z" fill="url(#g44)"/><path d="M359.1,11.3 359.3,19.3 359.8,27.3 360,35.3 360.3,43.3 360.7,51.3 361.4,59.3 362.1,67.3 362.8,75.3 363.5,83.3 364.2,91.3 365,99.3 365.6,107.3 366.5,115.3 367.4,123.4 368.3,131.4 369,139.4 369.6,147.4 370.2,155.4 370.6,163.4 370.8,171.4 370.7,179.4 370.1,187.4 368.6,195.4 366.5,203.4 364.1,211.4 361.1,219.4 370.1,219.4 373.1,211.4 375.7,203.4 378.3,195.4 380.3,187.4 381.4,179.4 381.8,171.4 381.8,163.4 381.6,155.4 381.3,147.4 380.7,139.4 380,131.4 379.1,123.4 378.2,115.3 377.3,107.3 376.7,99.3 375.9,91.3 375.2,83.3 374.5,75.3 373.8,67.3 373.1,59.3 372.4,51.3 372,43.3 371.7,35.3 371.5,27.3 371,19.3 370.8,11.3Z" fill="url(#g45)"/><path d="M363.1,11.3 363.2,19.3 363.6,27.3 363.9,35.3 364.1,43.3 364.5,51.3 365.2,59.3 365.9,67.3 366.6,75.3 367.3,83.3 368,91.3 368.7,99.3 369.3,107.3 370.1,115.3 371,123.4 371.7,131.4 372.3,139.4 372.8,147.4 373.3,155.4 373.6,163.4 373.7,171.4 373.4,179.4 372.7,187.4 371,195.4 368.8,203.4 366.4,211.4 363.4,219.4 367.8,219.4 370.8,211.4 373.4,203.4 375.8,195.4 377.7,187.4 378.7,179.4 379,171.4 379.1,163.4 378.9,155.4 378.5,147.4 378.1,139.4 377.4,131.4 376.7,123.4 375.8,115.3 375,107.3 374.4,99.3 373.7,91.3 373,83.3 372.3,75.3 371.6,67.3 370.9,59.3 370.3,51.3 369.8,43.3 369.6,35.3 369.4,27.3 368.9,19.3 368.8,11.3Z" fill="url(#g46)"/><path d="M279.5,187.3 278.1,190.2 276.7,193.1 275.1,196 273,198.9 270.9,201.9 268.7,204.8 266.5,207.7" fill="none" stroke="#000" stroke-opacity="0.55" stroke-width="4" stroke-linecap="round"/></g>
</g></g>
<g clip-path="url(#cp2)" fill="none" stroke="#f0f" stroke-width="1.6" stroke-dasharray="11.1 6.85" stroke-dashoffset="2.1">
<path d="M253.2,209.4 255.7,205.4 258,201.4 260.1,197.4 261.9,193.4 263.2,189.4 264.4,185.4 265.2,181.4 265.9,177.4 266.5,173.4 266.9,169.4 267.4,165.4 267.7,161.4 268,157.4 268.3,153.4 268.5,149.4 268.6,145.4 268.8,141.4 268.8,137.4 268.7,133.4 268.6,129.4 268.5,125.4 268.3,121.4 268.1,117.4 268,113.4 267.9,109.4 267.7,105.4 267.5,101.4 267.3,97.4 267.1,93.4 266.8,89.4 266.6,85.4 266.4,81.4 266.2,77.4 265.9,73.4 265.7,69.4 265.5,65.4 265.3,61.4 265.1,57.4 264.9,53.4 264.7,49.4 264.6,45.4 264.5,41.4 264.4,37.4 264.3,33.4 264.2,29.4 264.1,25.4 263.9,21.4 263.7,18.4"/>
<path d="M260.6,209.4 264.5,205.4 267.7,201.4 270.1,197.4 272.1,193.4 273.8,189.4 275.3,185.4 276.6,181.4 277.8,177.4 278.9,173.4 279.9,169.4 280.7,165.4 281.5,161.4 282.2,157.4 282.8,153.4 283.4,149.4 283.9,145.4 284.2,141.4 284.3,137.4 284.5,133.4 284.6,129.4 284.8,125.4 285,121.4 285.1,117.4 285,113.4 284.8,109.4 284.6,105.4 284.6,101.4 284.5,97.4 284.5,93.4 284.4,89.4 284.4,85.4 284.3,81.4 284.3,77.4 284.2,73.4 284.2,69.4 284.1,65.4 284.1,61.4 284.1,57.4 284.1,53.4 284.1,49.4 284.1,45.4 284.1,41.4 284.1,37.4 284.1,33.4 284.1,29.4 284.1,25.4 284.1,21.4 284.1,18.4"/>
<path d="M266.6,209.4 269.4,205.4 272.6,201.4 275.9,197.4 278.2,193.4 280.1,189.4 281.9,185.4 283.6,181.4 285.3,177.4 286.8,173.4 288.1,169.4 289.3,165.4 290.4,161.4 291.3,157.4 292.3,153.4 293.1,149.4 293.9,145.4 294.5,141.4 295,137.4 295.5,133.4 295.9,129.4 296.3,125.4 296.6,121.4 296.8,117.4 297.1,113.4 297.2,109.4 297.4,105.4 297.5,101.4 297.6,97.4 297.6,93.4 297.7,89.4 297.8,85.4 297.9,81.4 297.9,77.4 298,73.4 298.1,69.4 298.1,65.4 298.2,61.4 298.3,57.4 298.3,53.4 298.3,49.4 298.4,45.4 298.4,41.4 298.5,37.4 298.5,33.4 298.6,29.4 298.6,25.4 298.6,21.4 298.7,18.4"/>
<path d="M270.2,209.4 273.7,205.4 277.3,201.4 280.7,197.4 283.9,193.4 286.8,189.4 289.4,185.4 291.8,181.4 294,177.4 296.1,173.4 297.9,169.4 299.6,165.4 301.1,161.4 302.6,157.4 303.9,153.4 305.2,149.4 306.3,145.4 307.3,141.4 308.2,137.4 309.1,133.4 309.8,129.4 310.3,125.4 310.8,121.4 311.2,117.4 311.6,113.4 312,109.4 312.3,105.4 312.6,101.4 312.8,97.4 313.1,93.4 313.3,89.4 313.5,85.4 313.7,81.4 313.9,77.4 314.1,73.4 314.3,69.4 314.5,65.4 314.7,61.4 314.9,57.4 315.1,53.4 315.3,49.4 315.4,45.4 315.6,41.4 315.7,37.4 315.8,33.4 315.9,29.4 316,25.4 316.1,21.4 316.2,18.4"/>
<path d="M278.8,209.4 283.9,205.4 289.4,201.4 295.1,197.4 299.6,193.4 303.5,189.4 307.2,185.4 310.8,181.4 314.1,177.4 317,173.4 319.6,169.4 321.9,165.4 323.9,161.4 325.8,157.4 327.4,153.4 328.8,149.4 330,145.4 331.1,141.4 332,137.4 333,133.4 333.8,129.4 334.5,125.4 335.1,121.4 335.6,117.4 336.1,113.4 336.5,109.4 336.7,105.4 336.9,101.4 337,97.4 337.1,93.4 337.2,89.4 337.2,85.4 337.2,81.4 337.2,77.4 337.2,73.4 337.2,69.4 337.2,65.4 337.2,61.4 337.2,57.4 337.2,53.4 337.2,49.4 337.2,45.4 337.1,41.4 337.1,37.4 337,33.4 337,29.4 336.9,25.4 336.9,21.4 336.9,18.4"/>
<path d="M338.4,209.4 341,205.4 343.4,201.4 345.4,197.4 347.3,193.4 348.9,189.4 350.4,185.4 351.8,181.4 353,177.4 353.9,173.4 354.6,169.4 355.2,165.4 355.7,161.4 356.2,157.4 356.6,153.4 356.8,149.4 357,145.4 357.2,141.4 357.3,137.4 357.4,133.4 357.4,129.4 357.3,125.4 357.3,121.4 357.2,117.4 357.1,113.4 357,109.4 356.8,105.4 356.7,101.4 356.5,97.4 356.2,93.4 355.9,89.4 355.6,85.4 355.3,81.4 355,77.4 354.8,73.4 354.5,69.4 354.3,65.4 354,61.4 353.8,57.4 353.6,53.4 353.3,49.4 353.1,45.4 352.9,41.4 352.8,37.4 352.6,33.4 352.4,29.4 352.2,25.4 352,21.4 351.9,18.4"/>
<path d="M361,209.4 362.6,205.4 364,201.4 365.1,197.4 366.1,193.4 367,189.4 367.7,185.4 368.4,181.4 369,177.4 369.3,173.4 369.6,169.4 369.7,165.4 369.9,161.4 369.9,157.4 369.9,153.4 369.9,149.4 369.9,145.4 369.9,141.4 369.8,137.4 369.7,133.4 369.6,129.4 369.4,125.4 369.2,121.4 369,117.4 368.7,113.4 368.4,109.4 368,105.4 367.7,101.4 367.3,97.4 367,93.4 366.6,89.4 366.3,85.4 365.9,81.4 365.5,77.4 365.2,73.4 364.8,69.4 364.5,65.4 364.1,61.4 363.7,57.4 363.4,53.4 363.2,49.4 362.9,45.4 362.7,41.4 362.6,37.4 362.5,33.4 362.4,29.4 362.2,25.4 362,21.4 361.8,18.4"/>
<path d="M370.7,209.4 371.9,205.4 373,201.4 374.2,197.4 375.4,193.4 376.4,189.4 377,185.4 377.6,181.4 378.1,177.4 378.4,173.4 378.6,169.4 378.8,165.4 378.9,161.4 379,157.4 379,153.4 379,149.4 379,145.4 378.9,141.4 378.9,137.4 378.8,133.4 378.6,129.4 378.5,125.4 378.3,121.4 378.1,117.4 377.9,113.4 377.6,109.4 377.3,105.4 377.1,101.4 376.8,97.4 376.5,93.4 376.1,89.4 375.8,85.4 375.5,81.4 375.2,77.4 374.9,73.4 374.5,69.4 374.2,65.4 373.9,61.4 373.5,57.4 373.3,53.4 373,49.4 372.8,45.4 372.7,41.4 372.6,37.4 372.6,33.4 372.5,29.4 372.4,25.4 372.2,21.4 372,18.4"/>
<path d="M377.9,209.4 379.9,205.4 381.7,201.4 383.2,197.4 384.5,193.4 385.6,189.4 386.6,185.4 387.4,181.4 388.2,177.4 388.8,173.4 389.3,169.4 389.7,165.4 390,161.4 390.2,157.4 390.4,153.4 390.5,149.4 390.7,145.4 390.8,141.4 391,137.4 391.2,133.4 391.2,129.4 391.2,125.4 391.1,121.4 391,117.4 390.8,113.4 390.6,109.4 390.4,105.4 390.3,101.4 390.2,97.4 390.1,93.4 390,89.4 390,85.4 389.9,81.4 389.8,77.4 389.7,73.4 389.5,69.4 389.4,65.4 389.3,61.4 389.1,57.4 389,53.4 388.9,49.4 388.9,45.4 388.8,41.4 388.7,37.4 388.7,33.4 388.6,29.4 388.6,25.4 388.6,21.4 388.6,18.4"/>
<path d="M388,209.4 391,205.4 394.1,201.4 397.4,197.4 400.4,193.4 403.1,189.4 405.5,185.4 407.6,181.4 409.6,177.4 411.4,173.4 413.2,169.4 414.8,165.4 416.4,161.4 418,157.4 419.5,153.4 421,149.4 422.4,145.4 423.8,141.4 425.2,137.4 426.5,133.4 427.9,129.4 429.2,125.4 430.5,121.4 431.7,117.4 433,113.4 434.2,109.4 435.5,105.4 436.9,101.4 438.2,97.4 439.6,93.4 441,89.4 441.4,88.2"/>
</g>
<g clip-path="url(#cp2)" fill="#f0f" font-family="'Liberation Sans',sans-serif" font-size="15.3" text-anchor="middle">
<text transform="translate(256.1,40.9) rotate(88.5)" y="5.4">-60<tspan font-size="22" dy="4.3">°</tspan></text>
<text transform="translate(414.8,141.6) rotate(-70.7)" y="5.4">-600<tspan font-size="22" dy="4.3">°</tspan></text>
</g>
<rect x="278.8" y="36.9" width="135.8" height="74.7" fill="none" stroke="#000" stroke-width="1.6"/>
<rect x="245" y="21.3" width="189.7" height="188.1" fill="none" stroke="#333" stroke-opacity="0.55" stroke-width="0.6"/></g>
<g clip-path="url(#cp3)"><g filter="url(#par)">
<rect x="422.6" y="5.3" width="221.7" height="220.1" fill="url(#b47)"/>
<ellipse cx="529.4" cy="216.5" rx="49.6" ry="49.6" fill="url(#r48)"/>
<ellipse cx="643.2" cy="225.2" rx="58.4" ry="87.6" fill="url(#r49)"/>
<g filter="url(#bw)"><path d="M411.3,11.3 411.5,19.3 412.3,27.3 413,35.3 413.7,43.3 414.4,51.3 415,59.3 415.6,67.3 416.3,75.3 416.9,83.3 417.5,91.3 418.2,99.3 418.8,107.3 420.5,115.3 423.2,123.4 425.7,131.4 427.9,139.4 429.5,147.4 429.5,155.4 429.2,163.4 428.3,171.4 427.2,179.4 425.6,187.4 422.7,195.4 417.8,203.4 410.9,211.4 402.6,219.4 494.6,219.4 502.9,211.4 514.7,203.4 526.5,195.4 536.6,187.4 545.4,179.4 553.4,171.4 559.9,163.4 565.8,155.4 571.4,147.4 576.9,139.4 582.1,131.4 587,123.4 591.6,115.3 594.4,107.3 595.3,99.3 596.3,91.3 597.2,83.3 598.1,75.3 599.1,67.3 600.1,59.3 601,51.3 601.9,43.3 602.8,35.3 603.6,27.3 604.4,19.3 604.5,11.3Z" fill="url(#g50)"/><path d="M432.9,11.3 433.1,19.3 433.6,27.3 434.2,35.3 434.7,43.3 435.2,51.3 435.6,59.3 436,67.3 436.4,75.3 436.8,83.3 437.3,91.3 437.7,99.3 438.1,107.3 439.3,115.3 441.2,123.4 442.8,131.4 444.2,139.4 445.1,147.4 444.7,155.4 444,163.4 442.7,171.4 441.2,179.4 439.1,187.4 435.7,195.4 430.2,203.4 422.9,211.4 414.6,219.4 482.6,219.4 490.9,211.4 501.9,203.4 512.4,195.4 521.1,187.4 528.6,179.4 535.2,171.4 540.6,163.4 545.4,155.4 550,147.4 554.4,139.4 558.4,131.4 562.2,123.4 565.8,115.3 567.9,107.3 568.6,99.3 569.4,91.3 570.1,83.3 570.8,75.3 571.6,67.3 572.3,59.3 573.1,51.3 573.8,43.3 574.4,35.3 575.1,27.3 575.7,19.3 575.7,11.3Z" fill="url(#g51)"/><path d="M447.3,11.3 447.4,19.3 447.9,27.3 448.3,35.3 448.6,43.3 449,51.3 449.3,59.3 449.5,67.3 449.8,75.3 450.1,83.3 450.4,91.3 450.7,99.3 450.9,107.3 451.8,115.3 453.2,123.4 454.2,131.4 455.1,139.4 455.4,147.4 454.8,155.4 453.9,163.4 452.4,171.4 450.6,179.4 448.2,187.4 444.4,195.4 438.5,203.4 430.9,211.4 422.6,219.4 474.6,219.4 482.9,211.4 493.3,203.4 503.1,195.4 510.9,187.4 517.3,179.4 523.1,171.4 527.7,163.4 531.9,155.4 535.6,147.4 539.3,139.4 542.6,131.4 545.7,123.4 548.5,115.3 550.2,107.3 550.8,99.3 551.4,91.3 552,83.3 552.6,75.3 553.2,67.3 553.9,59.3 554.5,51.3 555,43.3 555.5,35.3 556,27.3 556.5,19.3 556.5,11.3Z" fill="url(#g52)"/><path d="M458.1,11.3 458.2,19.3 458.6,27.3 458.8,35.3 459.1,43.3 459.4,51.3 459.5,59.3 459.7,67.3 459.9,75.3 460,83.3 460.3,91.3 460.4,99.3 460.6,107.3 461.2,115.3 462.1,123.4 462.8,131.4 463.2,139.4 463.2,147.4 462.4,155.4 461.3,163.4 459.6,171.4 457.6,179.4 454.9,187.4 450.9,195.4 444.7,203.4 436.9,211.4 428.6,219.4 468.6,219.4 476.9,211.4 486.9,203.4 496,195.4 503.2,187.4 508.9,179.4 514,171.4 518.1,163.4 521.7,155.4 524.9,147.4 528.1,139.4 530.8,131.4 533.3,123.4 535.6,115.3 536.9,107.3 537.5,99.3 538,91.3 538.4,83.3 538.9,75.3 539.5,67.3 540,59.3 540.5,51.3 540.9,43.3 541.4,35.3 541.7,27.3 542.1,19.3 542.1,11.3Z" fill="url(#g53)"/><path d="M466.2,11.3 466.3,19.3 466.6,27.3 466.8,35.3 467,43.3 467.1,51.3 467.2,59.3 467.3,67.3 467.4,75.3 467.5,83.3 467.6,91.3 467.8,99.3 467.8,107.3 468.2,115.3 468.9,123.4 469.2,131.4 469.4,139.4 469,147.4 468.1,155.4 466.8,163.4 465,171.4 462.8,179.4 460,187.4 455.8,195.4 449.4,203.4 441.4,211.4 433.1,219.4 464.1,219.4 472.4,211.4 482,203.4 490.8,195.4 497.4,187.4 502.6,179.4 507.2,171.4 510.9,163.4 514,155.4 516.9,147.4 519.6,139.4 521.9,131.4 524.1,123.4 525.9,115.3 527,107.3 527.5,99.3 527.9,91.3 528.3,83.3 528.7,75.3 529.1,67.3 529.6,59.3 530,51.3 530.4,43.3 530.7,35.3 531,27.3 531.3,19.3 531.3,11.3Z" fill="url(#g54)"/><path d="M443.8,11.3 444.4,19.3 445.8,27.3 447.2,35.3 448.7,43.3 450.2,51.3 451.9,59.3 453.6,67.3 455.4,75.3 457.2,83.3 459.1,91.3 461.1,99.3 463,107.3 466,115.3 470.2,123.4 474.4,131.4 478.6,139.4 482.6,147.4 485.9,155.4 489.4,163.4 492.7,171.4 495.1,179.4 497.6,187.4 500.1,195.4 503,203.4 504.6,211.4 504.6,219.4 624.2,219.4 624.2,211.4 624.6,203.4 625.5,195.4 626.8,187.4 628.1,179.4 628.1,171.4 627.2,163.4 625.9,155.4 624.9,147.4 623,139.4 620.9,131.4 618.9,123.4 616.8,115.3 615.2,107.3 614,99.3 612.9,91.3 611.8,83.3 610.7,75.3 609.7,67.3 608.8,59.3 607.9,51.3 607.2,43.3 606.5,35.3 605.9,27.3 605.3,19.3 604.8,11.3Z" fill="url(#g60)"/><path d="M470.2,11.3 470.8,19.3 471.9,27.3 473.1,35.3 474.4,43.3 475.8,51.3 477.2,59.3 478.7,67.3 480.3,75.3 481.9,83.3 483.6,91.3 485.4,99.3 487.1,107.3 489.6,115.3 493,123.4 496.3,131.4 499.7,139.4 502.9,147.4 505.6,155.4 508.6,163.4 511.2,171.4 513,179.4 514.9,187.4 516.7,195.4 519,203.4 520.2,211.4 520.2,219.4 608.6,219.4 608.6,211.4 608.9,203.4 609.4,195.4 610.4,187.4 611.3,179.4 611.3,171.4 610.4,163.4 609.1,155.4 608.1,147.4 606.4,139.4 604.7,131.4 602.9,123.4 601.1,115.3 599.6,107.3 598.4,99.3 597.3,91.3 596.2,83.3 595.1,75.3 594.1,67.3 593.2,59.3 592.3,51.3 591.6,43.3 590.9,35.3 590.3,27.3 589.7,19.3 589.2,11.3Z" fill="url(#g61)"/><path d="M487.8,11.3 488.4,19.3 489.4,27.3 490.4,35.3 491.6,43.3 492.8,51.3 494.1,59.3 495.5,67.3 496.9,75.3 498.4,83.3 500,91.3 501.6,99.3 503.2,107.3 505.4,115.3 508.2,123.4 511,131.4 513.8,139.4 516.5,147.4 518.8,155.4 521.3,163.4 523.5,171.4 525,179.4 526.4,187.4 527.8,195.4 529.6,203.4 530.6,211.4 530.6,219.4 598.2,219.4 598.2,211.4 598.3,203.4 598.7,195.4 599.4,187.4 600.1,179.4 600.1,171.4 599.2,163.4 597.9,155.4 596.9,147.4 595.4,139.4 593.8,131.4 592.2,123.4 590.6,115.3 589.2,107.3 588,99.3 586.9,91.3 585.8,83.3 584.7,75.3 583.7,67.3 582.8,59.3 581.9,51.3 581.2,43.3 580.5,35.3 579.9,27.3 579.3,19.3 578.8,11.3Z" fill="url(#g62)"/><path d="M501,11.3 501.6,19.3 502.5,27.3 503.4,35.3 504.5,43.3 505.6,51.3 506.8,59.3 508,67.3 509.4,75.3 510.8,83.3 512.2,91.3 513.7,99.3 515.2,107.3 517.2,115.3 519.6,123.4 521.9,131.4 524.3,139.4 526.6,147.4 528.6,155.4 530.9,163.4 532.8,171.4 533.9,179.4 535,187.4 536.1,195.4 537.6,203.4 538.4,211.4 538.4,219.4 590.4,219.4 590.4,211.4 590.5,203.4 590.6,195.4 591.2,187.4 591.7,179.4 591.7,171.4 590.8,163.4 589.5,155.4 588.5,147.4 587.1,139.4 585.7,131.4 584.2,123.4 582.7,115.3 581.4,107.3 580.2,99.3 579.1,91.3 578,83.3 576.9,75.3 575.9,67.3 575,59.3 574.1,51.3 573.4,43.3 572.7,35.3 572.1,27.3 571.5,19.3 571,11.3Z" fill="url(#g63)"/><path d="M510.9,11.3 511.4,19.3 512.3,27.3 513.2,35.3 514.1,43.3 515.2,51.3 516.3,59.3 517.5,67.3 518.7,75.3 520,83.3 521.4,91.3 522.9,99.3 524.3,107.3 526,115.3 528.1,123.4 530.2,131.4 532.2,139.4 534.3,147.4 536,155.4 538.1,163.4 539.8,171.4 540.6,179.4 541.5,187.4 542.3,195.4 543.6,203.4 544.2,211.4 544.2,219.4 584.5,219.4 584.5,211.4 584.5,203.4 584.6,195.4 585,187.4 585.5,179.4 585.4,171.4 584.5,163.4 583.2,155.4 582.2,147.4 580.9,139.4 579.6,131.4 578.2,123.4 576.8,115.3 575.5,107.3 574.4,99.3 573.2,91.3 572.1,83.3 571.1,75.3 570.1,67.3 569.2,59.3 568.3,51.3 567.5,43.3 566.8,35.3 566.2,27.3 565.6,19.3 565.2,11.3Z" fill="url(#g64)"/></g>
<g filter="url(#bn)"><path d="M472.5,11.3 472.6,19.3 472.8,27.3 472.9,35.3 473.1,43.3 473.2,51.3 473.2,59.3 473.2,67.3 473.3,75.3 473.3,83.3 473.4,91.3 473.5,99.3 473.5,107.3 473.7,115.3 474.1,123.4 474.2,131.4 474.1,139.4 473.6,147.4 472.5,155.4 471.2,163.4 469.2,171.4 466.9,179.4 464,187.4 459.6,195.4 453,203.4 444.9,211.4 436.6,219.4 460.6,219.4 468.9,211.4 478.3,203.4 486.7,195.4 492.9,187.4 497.7,179.4 501.9,171.4 505.3,163.4 508.1,155.4 510.6,147.4 513,139.4 515,131.4 516.8,123.4 518.4,115.3 519.3,107.3 519.7,99.3 520,91.3 520.4,83.3 520.7,75.3 521.1,67.3 521.5,59.3 521.9,51.3 522.2,43.3 522.5,35.3 522.7,27.3 522.9,19.3 522.9,11.3Z" fill="url(#g55)"/><path d="M477.6,11.3 477.6,19.3 477.8,27.3 477.9,35.3 478,43.3 478,51.3 478,59.3 478,67.3 478,75.3 478,83.3 478,91.3 478,99.3 478,107.3 478.1,115.3 478.3,123.4 478.2,131.4 477.9,139.4 477.2,147.4 476.1,155.4 474.6,163.4 472.6,171.4 470.2,179.4 467.1,187.4 462.6,195.4 455.9,203.4 447.7,211.4 439.4,219.4 457.8,219.4 466.1,211.4 475.3,203.4 483.4,195.4 489.3,187.4 493.8,179.4 497.6,171.4 500.8,163.4 503.3,155.4 505.6,147.4 507.7,139.4 509.5,131.4 511.1,123.4 512.3,115.3 513.1,107.3 513.4,99.3 513.7,91.3 514,83.3 514.3,75.3 514.7,67.3 515,59.3 515.3,51.3 515.6,43.3 515.8,35.3 516,27.3 516.2,19.3 516.2,11.3Z" fill="url(#g56)"/><path d="M481.9,11.3 481.9,19.3 482,27.3 482.1,35.3 482.2,43.3 482.2,51.3 482.1,59.3 482.1,67.3 482,75.3 482,83.3 481.9,91.3 481.9,99.3 481.8,107.3 481.9,115.3 481.9,123.4 481.7,131.4 481.2,139.4 480.3,147.4 479.1,155.4 477.6,163.4 475.5,171.4 473,179.4 469.8,187.4 465.2,195.4 458.4,203.4 450.1,211.4 441.8,219.4 455.4,219.4 463.7,211.4 472.7,203.4 480.6,195.4 486.2,187.4 490.4,179.4 494,171.4 496.9,163.4 499.3,155.4 501.3,147.4 503.2,139.4 504.8,131.4 506.1,123.4 507.2,115.3 507.8,107.3 508.1,99.3 508.4,91.3 508.6,83.3 508.9,75.3 509.2,67.3 509.5,59.3 509.8,51.3 510,43.3 510.2,35.3 510.3,27.3 510.5,19.3 510.5,11.3Z" fill="url(#g57)"/><path d="M486,11.3 486.1,19.3 486.1,27.3 486.2,35.3 486.2,43.3 486.1,51.3 486.1,59.3 486,67.3 485.9,75.3 485.8,83.3 485.7,91.3 485.6,99.3 485.5,107.3 485.5,115.3 485.3,123.4 485,131.4 484.3,139.4 483.3,147.4 482,155.4 480.4,163.4 478.3,171.4 475.7,179.4 472.4,187.4 467.7,195.4 460.8,203.4 452.4,211.4 444.1,219.4 453.1,219.4 461.4,211.4 470.3,203.4 477.9,195.4 483.3,187.4 487.2,179.4 490.5,171.4 493.2,163.4 495.4,155.4 497.2,147.4 498.9,139.4 500.3,131.4 501.4,123.4 502.2,115.3 502.7,107.3 503,99.3 503.2,91.3 503.4,83.3 503.6,75.3 503.9,67.3 504.2,59.3 504.4,51.3 504.6,43.3 504.7,35.3 504.9,27.3 505,19.3 504.9,11.3Z" fill="url(#g58)"/><path d="M490.2,11.3 490.2,19.3 490.2,27.3 490.2,35.3 490.2,43.3 490.1,51.3 490,59.3 489.8,67.3 489.7,75.3 489.6,83.3 489.5,91.3 489.4,99.3 489.2,107.3 489.1,115.3 488.8,123.4 488.2,131.4 487.5,139.4 486.3,147.4 484.9,155.4 483.3,163.4 481,171.4 478.3,179.4 475,187.4 470.2,195.4 463.1,203.4 454.7,211.4 446.4,219.4 450.8,219.4 459.1,211.4 467.8,203.4 475.2,195.4 480.3,187.4 484,179.4 487,171.4 489.5,163.4 491.5,155.4 493.1,147.4 494.6,139.4 495.7,131.4 496.6,123.4 497.3,115.3 497.6,107.3 497.9,99.3 498,91.3 498.2,83.3 498.4,75.3 498.6,67.3 498.8,59.3 499,51.3 499.2,43.3 499.3,35.3 499.4,27.3 499.4,19.3 499.4,11.3Z" fill="url(#g59)"/><path d="M518.6,11.3 519.1,19.3 519.9,27.3 520.7,35.3 521.6,43.3 522.6,51.3 523.7,59.3 524.8,67.3 526,75.3 527.2,83.3 528.6,91.3 529.9,99.3 531.3,107.3 532.9,115.3 534.7,123.4 536.6,131.4 538.4,139.4 540.2,147.4 541.8,155.4 543.6,163.4 545.2,171.4 545.9,179.4 546.5,187.4 547.2,195.4 548.2,203.4 548.8,211.4 548.8,219.4 580,219.4 580,211.4 579.9,203.4 579.9,195.4 580.2,187.4 580.6,179.4 580.5,171.4 579.6,163.4 578.3,155.4 577.3,147.4 576.1,139.4 574.8,131.4 573.5,123.4 572.2,115.3 571,107.3 569.8,99.3 568.7,91.3 567.6,83.3 566.5,75.3 565.5,67.3 564.6,59.3 563.7,51.3 563,43.3 562.3,35.3 561.7,27.3 561.1,19.3 560.6,11.3Z" fill="url(#g65)"/><path d="M524.8,11.3 525.3,19.3 526,27.3 526.8,35.3 527.6,43.3 528.6,51.3 529.6,59.3 530.7,67.3 531.8,75.3 533,83.3 534.3,91.3 535.6,99.3 536.9,107.3 538.4,115.3 540.1,123.4 541.7,131.4 543.3,139.4 544.9,147.4 546.4,155.4 548.1,163.4 549.5,171.4 550.1,179.4 550.6,187.4 551.1,195.4 551.9,203.4 552.4,211.4 552.4,219.4 576.3,219.4 576.3,211.4 576.3,203.4 576.2,195.4 576.4,187.4 576.7,179.4 576.6,171.4 575.6,163.4 574.4,155.4 573.4,147.4 572.2,139.4 571,131.4 569.8,123.4 568.5,115.3 567.3,107.3 566.2,99.3 565.1,91.3 563.9,83.3 562.9,75.3 561.9,67.3 561,59.3 560.1,51.3 559.3,43.3 558.6,35.3 558,27.3 557.5,19.3 557,11.3Z" fill="url(#g66)"/><path d="M530.1,11.3 530.6,19.3 531.2,27.3 532,35.3 532.8,43.3 533.7,51.3 534.6,59.3 535.7,67.3 536.8,75.3 538,83.3 539.2,91.3 540.5,99.3 541.7,107.3 543.1,115.3 544.6,123.4 546.1,131.4 547.6,139.4 549,147.4 550.3,155.4 551.9,163.4 553.2,171.4 553.6,179.4 554,187.4 554.4,195.4 555.1,203.4 555.5,211.4 555.5,219.4 573.2,219.4 573.2,211.4 573.1,203.4 572.9,195.4 573.1,187.4 573.3,179.4 573.2,171.4 572.3,163.4 571,155.4 570,147.4 568.9,139.4 567.7,131.4 566.6,123.4 565.4,115.3 564.2,107.3 563.1,99.3 561.9,91.3 560.8,83.3 559.7,75.3 558.8,67.3 557.8,59.3 557,51.3 556.2,43.3 555.5,35.3 554.9,27.3 554.3,19.3 553.9,11.3Z" fill="url(#g67)"/><path d="M535.1,11.3 535.6,19.3 536.2,27.3 536.9,35.3 537.7,43.3 538.6,51.3 539.5,59.3 540.5,67.3 541.6,75.3 542.7,83.3 543.9,91.3 545.1,99.3 546.4,107.3 547.6,115.3 549,123.4 550.3,131.4 551.6,139.4 552.9,147.4 554.1,155.4 555.6,163.4 556.7,171.4 557.1,179.4 557.3,187.4 557.6,195.4 558.2,203.4 558.5,211.4 558.5,219.4 570.2,219.4 570.2,211.4 570.1,203.4 569.8,195.4 570,187.4 570.1,179.4 570,171.4 569.1,163.4 567.8,155.4 566.8,147.4 565.7,139.4 564.6,131.4 563.5,123.4 562.4,115.3 561.2,107.3 560.1,99.3 558.9,91.3 557.8,83.3 556.8,75.3 555.8,67.3 554.9,59.3 554,51.3 553.2,43.3 552.5,35.3 551.9,27.3 551.3,19.3 550.9,11.3Z" fill="url(#g68)"/><path d="M540.2,11.3 540.7,19.3 541.3,27.3 541.9,35.3 542.7,43.3 543.5,51.3 544.4,59.3 545.3,67.3 546.3,75.3 547.4,83.3 548.6,91.3 549.8,99.3 551,107.3 552.1,115.3 553.3,123.4 554.5,131.4 555.6,139.4 556.8,147.4 557.9,155.4 559.3,163.4 560.3,171.4 560.5,179.4 560.6,187.4 560.8,195.4 561.2,203.4 561.5,211.4 561.5,219.4 567.2,219.4 567.2,211.4 567.1,203.4 566.8,195.4 566.8,187.4 566.9,179.4 566.8,171.4 565.8,163.4 564.6,155.4 563.6,147.4 562.6,139.4 561.5,131.4 560.4,123.4 559.4,115.3 558.2,107.3 557.1,99.3 556,91.3 554.8,83.3 553.8,75.3 552.8,67.3 551.9,59.3 551,51.3 550.2,43.3 549.5,35.3 548.9,27.3 548.4,19.3 547.9,11.3Z" fill="url(#g69)"/></g>
</g></g>
<g clip-path="url(#cp3)" fill="none" stroke="#f0f" stroke-width="1.6" stroke-dasharray="11.1 6.85" stroke-dashoffset="2.1">
<path d="M446.5,209.4 448.8,205.4 451,201.4 452.7,197.4 454,193.4 455.2,189.4 456.1,185.4 456.9,181.4 457.6,177.4 458.2,173.4 458.7,169.4 459,165.4 459.4,161.4 459.6,157.4 459.8,153.4 459.9,149.4 459.8,145.4 459.8,141.4 459.7,137.4 459.6,133.4 459.5,129.4 459.5,125.4 459.4,121.4 459.3,117.4 459.2,113.4 459.1,109.4 459,105.4 458.8,101.4 458.6,97.4 458.4,93.4 458.2,89.4 457.9,85.4 457.7,81.4 457.5,77.4 457.2,73.4 457,69.4 456.7,65.4 456.5,61.4 456.2,57.4 456,53.4 455.7,49.4 455.5,45.4 455.4,41.4 455.2,37.4 455.1,33.4 454.9,29.4 454.8,25.4 454.7,21.4 454.6,18.4"/>
<path d="M454.5,209.4 457.7,205.4 460.6,201.4 463.3,197.4 465.8,193.4 467.9,189.4 469.6,185.4 471.2,181.4 472.6,177.4 473.7,173.4 474.7,169.4 475.6,165.4 476.4,161.4 477.1,157.4 477.8,153.4 478.4,149.4 479,145.4 479.5,141.4 479.9,137.4 480.1,133.4 480.3,129.4 480.4,125.4 480.5,121.4 480.6,117.4 480.6,113.4 480.6,109.4 480.6,105.4 480.5,101.4 480.5,97.4 480.5,93.4 480.4,89.4 480.4,85.4 480.4,81.4 480.3,77.4 480.3,73.4 480.3,69.4 480.2,65.4 480.2,61.4 480.1,57.4 480.1,53.4 480.1,49.4 480,45.4 480,41.4 479.9,37.4 479.9,33.4 479.8,29.4 479.8,25.4 479.8,21.4 479.7,18.4"/>
<path d="M459.4,209.4 464,205.4 468.2,201.4 471.9,197.4 475.1,193.4 477.6,189.4 479.8,185.4 481.6,181.4 483.3,177.4 484.9,173.4 486.4,169.4 487.8,165.4 489,161.4 490.1,157.4 491.2,153.4 492.1,149.4 493,145.4 493.7,141.4 494.3,137.4 494.9,133.4 495.3,129.4 495.8,125.4 496.1,121.4 496.4,117.4 496.6,113.4 496.7,109.4 496.9,105.4 497,101.4 497.2,97.4 497.3,93.4 497.4,89.4 497.5,85.4 497.6,81.4 497.7,77.4 497.8,73.4 497.9,69.4 498.1,65.4 498.2,61.4 498.4,57.4 498.5,53.4 498.6,49.4 498.7,45.4 498.7,41.4 498.8,37.4 498.9,33.4 498.9,29.4 498.9,25.4 499,21.4 499,18.4"/>
<path d="M463.7,209.4 469.4,205.4 475,201.4 480.1,197.4 484.1,193.4 487.5,189.4 490.5,185.4 493.1,181.4 495.6,177.4 497.8,173.4 499.8,169.4 501.7,165.4 503.5,161.4 505.2,157.4 506.7,153.4 507.9,149.4 509.1,145.4 510.1,141.4 511,137.4 511.9,133.4 512.7,129.4 513.5,125.4 514.2,121.4 514.9,117.4 515.3,113.4 515.7,109.4 516,105.4 516.3,101.4 516.5,97.4 516.7,93.4 516.9,89.4 517.1,85.4 517.3,81.4 517.5,77.4 517.7,73.4 517.9,69.4 518,65.4 518.2,61.4 518.4,57.4 518.5,53.4 518.7,49.4 518.8,45.4 518.9,41.4 519,37.4 519.1,33.4 519.2,29.4 519.3,25.4 519.4,21.4 519.4,18.4"/>
<path d="M479.9,209.4 486.9,205.4 493.5,201.4 499.1,197.4 504,193.4 508.4,189.4 512.5,185.4 515.8,181.4 518.6,177.4 521,173.4 523.1,169.4 525,165.4 526.8,161.4 528.3,157.4 529.7,153.4 530.8,149.4 531.8,145.4 532.6,141.4 533.4,137.4 534,133.4 534.5,129.4 535,125.4 535.4,121.4 535.7,117.4 535.8,113.4 535.8,109.4 535.7,105.4 535.7,101.4 535.6,97.4 535.6,93.4 535.5,89.4 535.4,85.4 535.4,81.4 535.3,77.4 535.2,73.4 535.1,69.4 535,65.4 534.9,61.4 534.7,57.4 534.6,53.4 534.5,49.4 534.3,45.4 534.2,41.4 534.1,37.4 534.1,33.4 534,29.4 533.9,25.4 533.8,21.4 533.7,18.4"/>
<path d="M530.6,209.4 533.2,205.4 535.8,201.4 538.4,197.4 540.7,193.4 542.4,189.4 543.8,185.4 545,181.4 546,177.4 546.9,173.4 547.7,169.4 548.4,165.4 549,161.4 549.3,157.4 549.5,153.4 549.8,149.4 549.9,145.4 550.1,141.4 550.1,137.4 550.1,133.4 550,129.4 550,125.4 549.9,121.4 549.9,117.4 549.8,113.4 549.7,109.4 549.6,105.4 549.4,101.4 549.2,97.4 549,93.4 548.7,89.4 548.5,85.4 548.2,81.4 548,77.4 547.7,73.4 547.5,69.4 547.2,65.4 546.9,61.4 546.6,57.4 546.3,53.4 546,49.4 545.8,45.4 545.6,41.4 545.3,37.4 545.2,33.4 545,29.4 544.8,25.4 544.7,21.4 544.5,18.4"/>
<path d="M552,209.4 553.8,205.4 555.4,201.4 556.9,197.4 558.2,193.4 559.1,189.4 559.9,185.4 560.5,181.4 561,177.4 561.5,173.4 561.8,169.4 562.2,165.4 562.5,161.4 562.6,157.4 562.6,153.4 562.6,149.4 562.5,145.4 562.5,141.4 562.4,137.4 562.3,133.4 562.1,129.4 561.9,125.4 561.6,121.4 561.3,117.4 561,113.4 560.7,109.4 560.5,105.4 560.2,101.4 560,97.4 559.7,93.4 559.4,89.4 559.2,85.4 558.9,81.4 558.6,77.4 558.3,73.4 557.9,69.4 557.5,65.4 557,61.4 556.6,57.4 556.2,53.4 555.8,49.4 555.4,45.4 555.1,41.4 554.9,37.4 554.6,33.4 554.4,29.4 554.2,25.4 554,21.4 553.9,18.4"/>
<path d="M562.7,209.4 565.1,205.4 567.2,201.4 569,197.4 570.4,193.4 571.4,189.4 572.1,185.4 572.6,181.4 573.1,177.4 573.4,173.4 573.7,169.4 574,165.4 574.2,161.4 574.3,157.4 574.3,153.4 574.3,149.4 574.2,145.4 574.2,141.4 574.1,137.4 574,133.4 573.8,129.4 573.6,125.4 573.4,121.4 573.2,117.4 572.9,113.4 572.7,109.4 572.5,105.4 572.2,101.4 571.9,97.4 571.7,93.4 571.4,89.4 571.1,85.4 570.8,81.4 570.5,77.4 570.2,73.4 569.9,69.4 569.6,65.4 569.3,61.4 569,57.4 568.8,53.4 568.5,49.4 568.2,45.4 568,41.4 567.8,37.4 567.6,33.4 567.5,29.4 567.3,25.4 567.1,21.4 567,18.4"/>
<path d="M574.4,209.4 577,205.4 579.6,201.4 581.9,197.4 584,193.4 585.7,189.4 587,185.4 588.2,181.4 589.2,177.4 590,173.4 590.9,169.4 591.6,165.4 592.3,161.4 592.8,157.4 593.2,153.4 593.6,149.4 593.9,145.4 594.1,141.4 594.3,137.4 594.6,133.4 594.7,129.4 594.9,125.4 595,121.4 595.2,117.4 595.3,113.4 595.5,109.4 595.6,105.4 595.8,101.4 595.9,97.4 596,93.4 596.2,89.4 596.3,85.4 596.5,81.4 596.6,77.4 596.8,73.4 597,69.4 597.2,65.4 597.4,61.4 597.6,57.4 597.9,53.4 598.1,49.4 598.2,45.4 598.3,41.4 598.5,37.4 598.6,33.4 598.7,29.4 598.7,25.4 598.8,21.4 598.8,18.4"/>
<path d="M596.4,209.4 602.1,205.4 607.5,201.4 612.5,197.4 619.5,193.4 624.7,189.4 629.3,185.4 634.2,181.7"/>
</g>
<g clip-path="url(#cp3)" fill="#f0f" font-family="'Liberation Sans',sans-serif" font-size="15.3" text-anchor="middle">
<text transform="translate(447,41.3) rotate(87.7)" y="5.4">-60<tspan font-size="22" dy="4.3">°</tspan></text>
<text transform="translate(608.5,190) rotate(-32.8)" y="5.4">-600<tspan font-size="22" dy="4.3">°</tspan></text>
</g>
<rect x="473" y="36.9" width="135.5" height="74.7" fill="none" stroke="#000" stroke-width="1.6"/>
<rect x="438.6" y="21.3" width="189.7" height="188.1" fill="none" stroke="#333" stroke-opacity="0.55" stroke-width="0.6"/>
<g clip-path="url(#cp4)"><g filter="url(#par)">
<rect x="34.8" y="262" width="221.7" height="220.1" fill="url(#b70)"/>
<ellipse cx="261.1" cy="476.4" rx="96.4" ry="204.4" fill="url(#r71)"/>
<ellipse cx="125.3" cy="458.9" rx="43.8" ry="49.6" fill="url(#r72)"/>
<g filter="url(#bw)"><path d="M39,268 39,276 39.4,284 39.7,292 40.1,300 40.4,308 40.7,316 40.9,324 41.1,332 41.2,340 41.1,348 40.9,356 40.4,364 40.5,372.1 41.3,380.1 41.9,388.1 42.4,396.1 43,404.1 43.4,412.1 43.4,420.1 42.9,428.1 43.1,436.1 42.9,444.1 41.5,452.1 36.9,460.1 31.3,468.1 24.6,476.1 72.9,476.1 79.6,468.1 91.3,460.1 103.9,452.1 116.8,444.1 129.6,436.1 140.6,428.1 146.3,420.1 151.5,412.1 156.4,404.1 161,396.1 163.8,388.1 166,380.1 168,372.1 169.9,364 171.5,356 172.9,348 174.2,340 175.3,332 176.3,324 177.2,316 178.1,308 179,300 179.8,292 180.6,284 181.5,276 181.6,268Z" fill="url(#g73)"/><path d="M53.4,268 53.4,276 53.7,284 53.9,292 54.1,300 54.4,308 54.5,316 54.7,324 54.8,332 54.8,340 54.6,348 54.2,356 53.7,364 53.5,372.1 53.9,380.1 54.2,388.1 54.3,396.1 54.4,404.1 54.2,412.1 53.6,420.1 52.6,428.1 51.9,436.1 50.8,444.1 48.5,452.1 43.4,460.1 37.3,468.1 30.6,476.1 66.3,476.1 73,468.1 83.6,460.1 94.7,452.1 105.4,444.1 115.9,436.1 124.8,428.1 129.7,420.1 134.1,412.1 138.2,404.1 142,396.1 144.3,388.1 146.1,380.1 147.7,372.1 149.4,364 150.8,356 152,348 153,340 154,332 154.7,324 155.5,316 156.1,308 156.8,300 157.4,292 158.1,284 158.7,276 158.8,268Z" fill="url(#g74)"/><path d="M63,268 63,276 63.2,284 63.4,292 63.5,300 63.7,308 63.8,316 63.9,324 63.9,332 63.8,340 63.5,348 63.1,356 62.5,364 62.2,372.1 62.4,380.1 62.4,388.1 62.2,396.1 61.9,404.1 61.4,412.1 60.5,420.1 59.1,428.1 57.8,436.1 56.1,444.1 53.2,452.1 47.7,460.1 41.3,468.1 34.6,476.1 61.9,476.1 68.6,468.1 78.4,460.1 88.5,452.1 97.9,444.1 106.7,436.1 114.3,428.1 118.6,420.1 122.5,412.1 126,404.1 129.3,396.1 131.3,388.1 132.9,380.1 134.3,372.1 135.7,364 137,356 138,348 139,340 139.7,332 140.4,324 141,316 141.5,308 142,300 142.5,292 143,284 143.5,276 143.6,268Z" fill="url(#g75)"/><path d="M70.2,268 70.2,276 70.3,284 70.5,292 70.6,300 70.7,308 70.7,316 70.8,324 70.7,332 70.6,340 70.3,348 69.8,356 69.2,364 68.7,372.1 68.7,380.1 68.6,388.1 68.1,396.1 67.6,404.1 66.8,412.1 65.6,420.1 64,428.1 62.3,436.1 60.1,444.1 56.8,452.1 50.9,460.1 44.3,468.1 37.6,476.1 58.6,476.1 65.3,468.1 74.6,460.1 83.9,452.1 92.2,444.1 99.9,436.1 106.4,428.1 110.3,420.1 113.8,412.1 116.9,404.1 119.7,396.1 121.6,388.1 122.9,380.1 124.1,372.1 125.4,364 126.6,356 127.6,348 128.4,340 129.1,332 129.6,324 130.1,316 130.5,308 131,300 131.4,292 131.8,284 132.1,276 132.2,268Z" fill="url(#g76)"/><path d="M75.6,268 75.6,276 75.7,284 75.8,292 75.8,300 75.9,308 75.9,316 75.9,324 75.9,332 75.7,340 75.3,348 74.8,356 74.1,364 73.6,372.1 73.5,380.1 73.2,388.1 72.6,396.1 71.9,404.1 70.9,412.1 69.4,420.1 67.6,428.1 65.6,436.1 63,444.1 59.4,452.1 53.3,460.1 46.6,468.1 39.8,476.1 56.1,476.1 62.9,468.1 71.7,460.1 80.4,452.1 87.9,444.1 94.7,436.1 100.5,428.1 104.1,420.1 107.3,412.1 110.1,404.1 112.6,396.1 114.3,388.1 115.5,380.1 116.5,372.1 117.7,364 118.8,356 119.7,348 120.5,340 121.1,332 121.5,324 121.9,316 122.3,308 122.6,300 123,292 123.3,284 123.6,276 123.7,268Z" fill="url(#g77)"/><path d="M93.7,268 93.9,276 94.5,284 95.2,292 96,300 96.8,308 97.8,316 98.7,324 99.6,332 100.4,340 101.1,348 101.8,356 102.5,364 103.9,372.1 106.1,380.1 108.3,388.1 110.3,396.1 112.1,404.1 114.5,412.1 116.7,420.1 118.6,428.1 120.3,436.1 121.7,444.1 122.7,452.1 123,460.1 121.9,468.1 119.3,476.1 211.3,476.1 213.9,468.1 217.9,460.1 222.6,452.1 226.7,444.1 230.3,436.1 231.2,428.1 231.6,420.1 231.6,412.1 231.5,404.1 229.9,396.1 227.9,388.1 225.7,380.1 223.5,372.1 222.1,364 221.4,356 220.7,348 220,340 219.2,332 218.3,324 217.4,316 216.4,308 215.6,300 214.8,292 214.1,284 213.5,276 213.3,268Z" fill="url(#g83)"/><path d="M114.1,268 114.3,276 114.8,284 115.4,292 116.1,300 116.8,308 117.6,316 118.5,324 119.2,332 119.9,340 120.6,348 121.2,356 121.7,364 122.8,372.1 124.5,380.1 126.2,388.1 127.6,396.1 128.9,404.1 130.7,412.1 132.3,420.1 133.6,428.1 134.7,436.1 135.4,444.1 135.7,452.1 135.4,460.1 133.9,468.1 131.3,476.1 199.3,476.1 201.9,468.1 205.5,460.1 209.6,452.1 213,444.1 216,436.1 216.8,428.1 217.2,420.1 217.2,412.1 217.1,404.1 216,396.1 214.6,388.1 212.9,380.1 211.2,372.1 210.1,364 209.6,356 209,348 208.3,340 207.6,332 206.9,324 206,316 205.2,308 204.5,300 203.8,292 203.2,284 202.7,276 202.5,268Z" fill="url(#g84)"/><path d="M127.7,268 127.9,276 128.3,284 128.9,292 129.4,300 130.1,308 130.9,316 131.7,324 132.3,332 133,340 133.6,348 134.1,356 134.6,364 135.4,372.1 136.8,380.1 138.1,388.1 139.1,396.1 140.1,404.1 141.4,412.1 142.7,420.1 143.6,428.1 144.2,436.1 144.6,444.1 144.4,452.1 143.6,460.1 141.9,468.1 139.3,476.1 191.3,476.1 193.9,468.1 197.3,460.1 200.9,452.1 203.9,444.1 206.4,436.1 207.2,428.1 207.6,420.1 207.6,412.1 207.5,404.1 206.7,396.1 205.7,388.1 204.4,380.1 203,372.1 202.2,364 201.7,356 201.2,348 200.6,340 199.9,332 199.3,324 198.5,316 197.7,308 197,300 196.5,292 195.9,284 195.5,276 195.3,268Z" fill="url(#g85)"/><path d="M137.9,268 138.1,276 138.5,284 139,292 139.5,300 140.1,308 140.8,316 141.5,324 142.2,332 142.8,340 143.3,348 143.8,356 144.2,364 144.9,372.1 146,380.1 147,388.1 147.8,396.1 148.4,404.1 149.5,412.1 150.4,420.1 151,428.1 151.4,436.1 151.4,444.1 150.9,452.1 149.8,460.1 147.9,468.1 145.3,476.1 185.3,476.1 187.9,468.1 191.1,460.1 194.4,452.1 197.1,444.1 199.2,436.1 200,428.1 200.4,420.1 200.4,412.1 200.3,404.1 199.8,396.1 199,388.1 198,380.1 196.9,372.1 196.2,364 195.8,356 195.3,348 194.8,340 194.2,332 193.5,324 192.8,316 192.1,308 191.5,300 191,292 190.5,284 190.1,276 189.9,268Z" fill="url(#g86)"/><path d="M145.5,268 145.7,276 146.1,284 146.5,292 147,300 147.6,308 148.3,316 149,324 149.6,332 150.1,340 150.6,348 151,356 151.4,364 152,372.1 152.9,380.1 153.7,388.1 154.3,396.1 154.7,404.1 155.6,412.1 156.3,420.1 156.7,428.1 156.8,436.1 156.5,444.1 155.8,452.1 154.4,460.1 152.4,468.1 149.8,476.1 180.8,476.1 183.4,468.1 186.4,460.1 189.5,452.1 191.9,444.1 193.9,436.1 194.6,428.1 195,420.1 195,412.1 194.9,404.1 194.6,396.1 194,388.1 193.2,380.1 192.3,372.1 191.7,364 191.3,356 190.9,348 190.4,340 189.9,332 189.3,324 188.6,316 187.9,308 187.3,300 186.8,292 186.4,284 186,276 185.8,268Z" fill="url(#g87)"/></g>
<g filter="url(#bn)"><path d="M79.8,268 79.8,276 79.9,284 79.9,292 80,300 80,308 80,316 79.9,324 79.9,332 79.6,340 79.2,348 78.7,356 78,364 77.4,372.1 77.2,380.1 76.8,388.1 76.1,396.1 75.2,404.1 74,412.1 72.4,420.1 70.4,428.1 68.2,436.1 65.3,444.1 61.5,452.1 55.2,460.1 48.3,468.1 41.6,476.1 54.2,476.1 60.9,468.1 69.4,460.1 77.7,452.1 84.6,444.1 90.7,436.1 95.9,428.1 99.3,420.1 102.2,412.1 104.8,404.1 107,396.1 108.6,388.1 109.7,380.1 110.6,372.1 111.8,364 112.8,356 113.6,348 114.3,340 114.9,332 115.3,324 115.6,316 115.9,308 116.2,300 116.5,292 116.7,284 117,276 117,268Z" fill="url(#g78)"/><path d="M83.2,268 83.1,276 83.2,284 83.2,292 83.2,300 83.2,308 83.2,316 83.2,324 83,332 82.8,340 82.4,348 81.8,356 81.1,364 80.4,372.1 80.1,380.1 79.6,388.1 78.9,396.1 77.8,404.1 76.5,412.1 74.8,420.1 72.7,428.1 70.2,436.1 67.2,444.1 63.1,452.1 56.7,460.1 49.7,468.1 43,476.1 52.6,476.1 59.4,468.1 67.6,460.1 75.6,452.1 82,444.1 87.5,436.1 92.2,428.1 95.4,420.1 98.2,412.1 100.5,404.1 102.6,396.1 104,388.1 105.1,380.1 105.9,372.1 107,364 108,356 108.7,348 109.4,340 109.9,332 110.2,324 110.5,316 110.8,308 111,300 111.2,292 111.4,284 111.6,276 111.7,268Z" fill="url(#g79)"/><path d="M86,268 86,276 86,284 86.1,292 86.1,300 86,308 86,316 85.9,324 85.8,332 85.5,340 85.1,348 84.5,356 83.7,364 83,372.1 82.6,380.1 82.1,388.1 81.2,396.1 80.1,404.1 78.7,412.1 76.9,420.1 74.6,428.1 72,436.1 68.8,444.1 64.5,452.1 58,460.1 50.9,468.1 44.2,476.1 51.3,476.1 58.1,468.1 66,460.1 73.7,452.1 79.7,444.1 84.8,436.1 89.1,428.1 92.1,420.1 94.7,412.1 96.9,404.1 98.8,396.1 100.1,388.1 101.1,380.1 101.9,372.1 102.9,364 103.8,356 104.5,348 105.2,340 105.6,332 105.9,324 106.2,316 106.4,308 106.6,300 106.8,292 106.9,284 107.1,276 107.1,268Z" fill="url(#g80)"/><path d="M88.8,268 88.8,276 88.8,284 88.8,292 88.8,300 88.7,308 88.7,316 88.5,324 88.4,332 88.1,340 87.6,348 87.1,356 86.3,364 85.5,372.1 85.1,380.1 84.5,388.1 83.5,396.1 82.3,404.1 80.8,412.1 78.8,420.1 76.5,428.1 73.7,436.1 70.3,444.1 65.9,452.1 59.2,460.1 52.1,468.1 45.3,476.1 50.1,476.1 56.8,468.1 64.6,460.1 72,452.1 77.5,444.1 82.1,436.1 86,428.1 88.9,420.1 91.3,412.1 93.4,404.1 95.1,396.1 96.4,388.1 97.3,380.1 98,372.1 98.9,364 99.9,356 100.5,348 101.1,340 101.5,332 101.8,324 102,316 102.2,308 102.3,300 102.5,292 102.6,284 102.7,276 102.8,268Z" fill="url(#g81)"/><path d="M91.6,268 91.5,276 91.5,284 91.5,292 91.5,300 91.4,308 91.3,316 91.2,324 91,332 90.7,340 90.2,348 89.6,356 88.8,364 88,372.1 87.5,380.1 86.8,388.1 85.8,396.1 84.5,404.1 82.8,412.1 80.8,420.1 78.4,428.1 75.4,436.1 71.8,444.1 67.2,452.1 60.5,460.1 53.2,468.1 46.5,476.1 48.8,476.1 55.6,468.1 63.1,460.1 70.2,452.1 75.3,444.1 79.5,436.1 83,428.1 85.7,420.1 88,412.1 89.9,404.1 91.5,396.1 92.6,388.1 93.5,380.1 94.1,372.1 95,364 95.9,356 96.5,348 97.1,340 97.4,332 97.7,324 97.8,316 98,308 98.1,300 98.2,292 98.3,284 98.4,276 98.4,268Z" fill="url(#g82)"/><path d="M151.5,268 151.6,276 152,284 152.4,292 152.9,300 153.4,308 154.1,316 154.7,324 155.3,332 155.8,340 156.3,348 156.7,356 157,364 157.5,372.1 158.3,380.1 158.9,388.1 159.3,396.1 159.6,404.1 160.3,412.1 160.8,420.1 161,428.1 161,436.1 160.5,444.1 159.6,452.1 158.1,460.1 155.9,468.1 153.3,476.1 177.3,476.1 179.9,468.1 182.8,460.1 185.7,452.1 187.9,444.1 189.7,436.1 190.4,428.1 190.8,420.1 190.8,412.1 190.7,404.1 190.5,396.1 190.1,388.1 189.5,380.1 188.7,372.1 188.2,364 187.9,356 187.5,348 187,340 186.5,332 185.9,324 185.3,316 184.6,308 184.1,300 183.6,292 183.2,284 182.8,276 182.7,268Z" fill="url(#g88)"/><path d="M156.2,268 156.4,276 156.7,284 157.1,292 157.6,300 158.1,308 158.7,316 159.3,324 159.9,332 160.4,340 160.8,348 161.2,356 161.5,364 162,372.1 162.6,380.1 163,388.1 163.4,396.1 163.5,404.1 164,412.1 164.4,420.1 164.5,428.1 164.3,436.1 163.7,444.1 162.7,452.1 160.9,460.1 158.7,468.1 156.1,476.1 174.5,476.1 177.1,468.1 179.9,460.1 182.6,452.1 184.7,444.1 186.3,436.1 187,428.1 187.4,420.1 187.5,412.1 187.4,404.1 187.3,396.1 187,388.1 186.5,380.1 185.9,372.1 185.4,364 185.1,356 184.7,348 184.3,340 183.8,332 183.3,324 182.6,316 182,308 181.5,300 181,292 180.7,284 180.3,276 180.1,268Z" fill="url(#g89)"/><path d="M160.3,268 160.5,276 160.8,284 161.2,292 161.6,300 162.1,308 162.7,316 163.3,324 163.8,332 164.3,340 164.7,348 165.1,356 165.4,364 165.8,372.1 166.2,380.1 166.6,388.1 166.8,396.1 166.9,404.1 167.3,412.1 167.5,420.1 167.5,428.1 167.2,436.1 166.5,444.1 165.3,452.1 163.4,460.1 161.1,468.1 158.5,476.1 172.1,476.1 174.7,468.1 177.4,460.1 180,452.1 182,444.1 183.5,436.1 184.1,428.1 184.5,420.1 184.6,412.1 184.5,404.1 184.5,396.1 184.3,388.1 183.9,380.1 183.4,372.1 183,364 182.8,356 182.4,348 182,340 181.5,332 181,324 180.4,316 179.7,308 179.2,300 178.8,292 178.5,284 178.2,276 178,268Z" fill="url(#g90)"/><path d="M164.2,268 164.4,276 164.7,284 165,292 165.4,300 165.9,308 166.5,316 167.1,324 167.6,332 168,340 168.4,348 168.8,356 169.1,364 169.4,372.1 169.8,380.1 170,388.1 170.1,396.1 170.1,404.1 170.4,412.1 170.5,420.1 170.4,428.1 169.9,436.1 169.1,444.1 167.8,452.1 165.8,460.1 163.4,468.1 160.8,476.1 169.8,476.1 172.4,468.1 175.1,460.1 177.5,452.1 179.4,444.1 180.7,436.1 181.4,428.1 181.8,420.1 181.8,412.1 181.7,404.1 181.8,396.1 181.7,388.1 181.5,380.1 181.1,372.1 180.8,364 180.5,356 180.1,348 179.7,340 179.3,332 178.8,324 178.2,316 177.6,308 177.1,300 176.7,292 176.4,284 176.1,276 175.9,268Z" fill="url(#g91)"/><path d="M168.1,268 168.3,276 168.6,284 168.9,292 169.3,300 169.7,308 170.3,316 170.9,324 171.3,332 171.8,340 172.2,348 172.5,356 172.7,364 173,372.1 173.3,380.1 173.5,388.1 173.4,396.1 173.3,404.1 173.5,412.1 173.5,420.1 173.2,428.1 172.7,436.1 171.7,444.1 170.3,452.1 168.2,460.1 165.7,468.1 163.1,476.1 167.5,476.1 170.1,468.1 172.7,460.1 175,452.1 176.7,444.1 178,436.1 178.6,428.1 179,420.1 179.1,412.1 179,404.1 179.2,396.1 179.2,388.1 179,380.1 178.7,372.1 178.5,364 178.2,356 177.9,348 177.5,340 177.1,332 176.6,324 176,316 175.4,308 175,300 174.6,292 174.3,284 174,276 173.8,268Z" fill="url(#g92)"/><path d="M84,415.1 82,422.2 79.7,429.2 76.9,436.3 73.5,443.4 69.4,450.5 63.8,457.6 57.4,464.7" fill="none" stroke="#000" stroke-opacity="0.8" stroke-width="4.5" stroke-linecap="round"/><path d="M81.5,423.8 80.7,426.3 79.8,428.8 78.9,431.3 77.9,433.8 76.9,436.3 75.7,438.8 74.5,441.3" fill="none" stroke="#000" stroke-opacity="0.9" stroke-width="3" stroke-linecap="round"/><path d="M69.7,450.1 68.7,451.8 67.4,453.4 65.9,455.1 64.5,456.8 63.1,458.4 61.6,460.1 60.1,461.8" fill="none" stroke="#000" stroke-opacity="0.9" stroke-width="3" stroke-linecap="round"/></g>
</g></g>
<g clip-path="url(#cp4)" fill="none" stroke="#f0f" stroke-width="1.6" stroke-dasharray="11.1 6.85" stroke-dashoffset="2.1">
<path d="M51.5,466.1 54.1,462.1 56.9,458.1 59.5,454.1 61.6,450.1 63.4,446.1 65,442.1 66.4,438.1 67.6,434.1 68.7,430.1 69.6,426.1 70.4,422.1 71.2,418.1 71.9,414.1 72.4,410.1 72.8,406.1 73.2,402.1 73.5,398.1 73.8,394.1 74,390.1 74.1,386.1 74.2,382.1 74.2,378.1 74.3,374.1 74.4,370.1 74.6,366.1 74.8,362.1 75,358.1 75.1,354.1 75.2,350.1 75.3,346.1 75.3,342.1 75.3,338.1 75.4,334.1 75.4,330.1 75.3,326.1 75.2,322.1 75.1,318.1 74.9,314.1 74.8,310.1 74.6,306.1 74.5,302.1 74.4,298.1 74.4,294.1 74.3,290.1 74.3,286.1 74.2,282.1 74.2,278.1 74.2,275.1"/>
<path d="M54.3,466.1 57.7,462.1 61.3,458.1 64.5,454.1 66.9,450.1 68.8,446.1 70.6,442.1 72.4,438.1 74,434.1 75.6,430.1 76.9,426.1 78.1,422.1 79.3,418.1 80.3,414.1 81.2,410.1 82,406.1 82.7,402.1 83.4,398.1 84,394.1 84.5,390.1 85,386.1 85.4,382.1 85.8,378.1 86.1,374.1 86.3,370.1 86.4,366.1 86.6,362.1 86.7,358.1 86.8,354.1 87,350.1 87.2,346.1 87.3,342.1 87.4,338.1 87.6,334.1 87.6,330.1 87.7,326.1 87.8,322.1 87.8,318.1 87.8,314.1 87.9,310.1 87.9,306.1 87.9,302.1 87.9,298.1 87.9,294.1 87.9,290.1 87.9,286.1 87.9,282.1 87.9,278.1 87.9,275.1"/>
<path d="M57.6,466.1 61.5,462.1 65.6,458.1 69.1,454.1 72.3,450.1 74.9,446.1 77.2,442.1 79.1,438.1 80.9,434.1 82.5,430.1 84,426.1 85.3,422.1 86.5,418.1 87.6,414.1 88.6,410.1 89.5,406.1 90.3,402.1 91.1,398.1 91.8,394.1 92.3,390.1 92.8,386.1 93.1,382.1 93.4,378.1 93.7,374.1 94.1,370.1 94.7,366.1 95.5,362.1 96.2,358.1 96.7,354.1 97.1,350.1 97.5,346.1 97.8,342.1 98.1,338.1 98.3,334.1 98.4,330.1 98.6,326.1 98.7,322.1 98.7,318.1 98.8,314.1 98.9,310.1 98.9,306.1 99,302.1 99.1,298.1 99.1,294.1 99.2,290.1 99.2,286.1 99.2,282.1 99.3,278.1 99.3,275.1"/>
<path d="M59.9,466.1 63.6,462.1 67.7,458.1 71.3,454.1 74.5,450.1 77.4,446.1 80,442.1 82.5,438.1 84.8,434.1 87,430.1 89.1,426.1 91,422.1 92.8,418.1 94.4,414.1 95.9,410.1 97.3,406.1 98.6,402.1 99.7,398.1 100.7,394.1 101.7,390.1 102.6,386.1 103.4,382.1 104.1,378.1 104.7,374.1 105.5,370.1 106.4,366.1 107.6,362.1 108.6,358.1 109.4,354.1 110.1,350.1 110.7,346.1 111.2,342.1 111.7,338.1 112.1,334.1 112.5,330.1 112.7,326.1 113,322.1 113.2,318.1 113.4,314.1 113.6,310.1 113.7,306.1 113.9,302.1 114,298.1 114.1,294.1 114.2,290.1 114.3,286.1 114.4,282.1 114.5,278.1 114.5,275.1"/>
<path d="M65.5,466.1 71.8,462.1 77.4,458.1 82.5,454.1 87.4,450.1 92,446.1 96,442.1 99.5,438.1 102.8,434.1 105.9,430.1 108.8,426.1 111.5,422.1 114,418.1 116.5,414.1 118.8,410.1 120.8,406.1 122.4,402.1 123.9,398.1 125.2,394.1 126.3,390.1 127.4,386.1 128.3,382.1 129.2,378.1 129.9,374.1 130.6,370.1 131.2,366.1 131.7,362.1 132.2,358.1 132.5,354.1 132.9,350.1 133.2,346.1 133.5,342.1 133.8,338.1 134.1,334.1 134.4,330.1 134.7,326.1 135,322.1 135.3,318.1 135.6,314.1 135.9,310.1 136.1,306.1 136.3,302.1 136.5,298.1 136.7,294.1 136.8,290.1 137,286.1 137.1,282.1 137.2,278.1 137.3,275.1"/>
<path d="M142.3,466.1 143.8,462.1 145.4,458.1 146.8,454.1 148.1,450.1 149.2,446.1 150.2,442.1 151.1,438.1 151.8,434.1 152.6,430.1 153.2,426.1 153.8,422.1 154.4,418.1 154.9,414.1 155.3,410.1 155.7,406.1 156,402.1 156.3,398.1 156.6,394.1 156.8,390.1 156.9,386.1 157,382.1 157.1,378.1 157.2,374.1 157.3,370.1 157.4,366.1 157.4,362.1 157.4,358.1 157.4,354.1 157.3,350.1 157.2,346.1 157.1,342.1 157,338.1 156.9,334.1 156.8,330.1 156.7,326.1 156.5,322.1 156.4,318.1 156.2,314.1 156,310.1 155.8,306.1 155.7,302.1 155.6,298.1 155.5,294.1 155.4,290.1 155.3,286.1 155.2,282.1 155.1,278.1 155.1,275.1"/>
<path d="M161.4,466.1 162.5,462.1 163.5,458.1 164.5,454.1 165.3,450.1 166.1,446.1 166.9,442.1 167.6,438.1 168.1,434.1 168.6,430.1 169.1,426.1 169.5,422.1 169.8,418.1 170.1,414.1 170.4,410.1 170.6,406.1 170.8,402.1 170.9,398.1 171.1,394.1 171.1,390.1 171.1,386.1 171.1,382.1 171,378.1 170.9,374.1 170.8,370.1 170.7,366.1 170.6,362.1 170.5,358.1 170.4,354.1 170.2,350.1 170,346.1 169.8,342.1 169.5,338.1 169.3,334.1 169.1,330.1 168.8,326.1 168.5,322.1 168.2,318.1 167.9,314.1 167.6,310.1 167.3,306.1 167.1,302.1 166.9,298.1 166.7,294.1 166.5,290.1 166.3,286.1 166.1,282.1 166,278.1 165.9,275.1"/>
<path d="M168.9,466.1 170.2,462.1 171.4,458.1 172.6,454.1 173.7,450.1 174.7,446.1 175.7,442.1 176.5,438.1 177.2,434.1 177.8,430.1 178.3,426.1 178.8,422.1 179.2,418.1 179.5,414.1 179.7,410.1 179.9,406.1 180.1,402.1 180.3,398.1 180.4,394.1 180.5,390.1 180.5,386.1 180.4,382.1 180.4,378.1 180.3,374.1 180.2,370.1 180.1,366.1 180,362.1 179.8,358.1 179.7,354.1 179.6,350.1 179.4,346.1 179.3,342.1 179.1,338.1 178.9,334.1 178.7,330.1 178.5,326.1 178.2,322.1 178,318.1 177.7,314.1 177.5,310.1 177.2,306.1 177,302.1 176.8,298.1 176.7,294.1 176.5,290.1 176.4,286.1 176.3,282.1 176.2,278.1 176.1,275.1"/>
<path d="M175,466.1 176.6,462.1 178.2,458.1 179.8,454.1 181.2,450.1 182.6,446.1 183.8,442.1 184.9,438.1 185.7,434.1 186.4,430.1 187,426.1 187.5,422.1 188,418.1 188.4,414.1 188.9,410.1 189.3,406.1 189.6,402.1 190,398.1 190.3,394.1 190.6,390.1 190.9,386.1 191.1,382.1 191.3,378.1 191.6,374.1 191.8,370.1 191.9,366.1 192.1,362.1 192.2,358.1 192.3,354.1 192.4,350.1 192.5,346.1 192.6,342.1 192.7,338.1 192.7,334.1 192.7,330.1 192.7,326.1 192.7,322.1 192.7,318.1 192.7,314.1 192.7,310.1 192.7,306.1 192.7,302.1 192.7,298.1 192.7,294.1 192.7,290.1 192.7,286.1 192.7,282.1 192.7,278.1 192.7,275.1"/>
<path d="M184.3,466.1 186.7,462.1 189.2,458.1 191.7,454.1 193.9,450.1 195.9,446.1 197.8,442.1 199.6,438.1 201.3,434.1 203.1,430.1 204.9,426.1 206.7,422.1 208.4,418.1 210.1,414.1 211.6,410.1 213.2,406.1 214.6,402.1 216,398.1 217.4,394.1 218.8,390.1 220.1,386.1 221.5,382.1 222.8,378.1 224.1,374.1 225.5,370.1 226.8,366.1 228.1,362.1 229.4,358.1 230.6,354.1 231.7,350.1 233,346.1 234.3,342.1 235.7,338.1 237.2,334.1 238.7,330.1 240.2,326.1 241.7,322.1 243.3,318.1 244.8,314.1 246.4,310.1"/>
</g>
<g clip-path="url(#cp4)" fill="#f0f" font-family="'Liberation Sans',sans-serif" font-size="15.3" text-anchor="middle">
<text transform="translate(61.6,423.6) rotate(-77.9)" y="5.4">-60<tspan font-size="22" dy="4.3">°</tspan></text>
<text transform="translate(217.8,366.7) rotate(-71.3)" y="5.4">-600<tspan font-size="22" dy="4.3">°</tspan></text>
</g>
<rect x="70.1" y="279.9" width="165" height="130.2" fill="none" stroke="#000" stroke-width="1.6"/>
<rect x="50.8" y="278" width="189.7" height="188.1" fill="none" stroke="#333" stroke-opacity="0.55" stroke-width="0.6"/>
<use href="#pa2" transform="translate(-1.8,256.7)"/>
<g clip-path="url(#cp5)"><g filter="url(#par)">
<rect x="420.3" y="262" width="221.7" height="220.1" fill="url(#b93)"/>
<ellipse cx="643.2" cy="482.2" rx="67.2" ry="134.3" fill="url(#r94)"/>
<ellipse cx="529.4" cy="473.5" rx="49.6" ry="49.6" fill="url(#r95)"/>
<g filter="url(#bw)"><path d="M408,268 408.1,276 408.9,284 409.8,292 410.6,300 411.5,308 412.4,316 413.3,324 414.3,332 415.3,340 416.5,348 417.8,356 419.3,364 421.9,372.1 425.8,380.1 427.9,388.1 430,396.1 432.1,404.1 433,412.1 432.4,420.1 431.7,428.1 429.5,436.1 427.2,444.1 424.7,452.1 422.1,460.1 416.3,468.1 409.8,476.1 501.8,476.1 508.3,468.1 519.3,460.1 528.8,452.1 539.7,444.1 551.1,436.1 562.7,428.1 574.6,420.1 586.4,412.1 596.8,404.1 599.5,396.1 601.6,388.1 603.7,380.1 603.9,372.1 603.7,364 603,356 602.5,348 602.1,340 601.8,332 601.7,324 601.5,316 601.4,308 601.3,300 601.3,292 601.2,284 601.2,276 601.2,268Z" fill="url(#g96)"/><path d="M429.6,268 429.7,276 430.3,284 430.9,292 431.6,300 432.2,308 432.9,316 433.7,324 434.4,332 435.2,340 436.2,348 437.3,356 438.6,364 440.8,372.1 444.2,380.1 445.8,388.1 447.3,396.1 448.9,404.1 449,412.1 447.7,420.1 446.2,428.1 443.6,436.1 440.7,444.1 437.8,452.1 434.5,460.1 428.3,468.1 421.8,476.1 489.8,476.1 496.3,468.1 506.4,460.1 514.7,452.1 523.9,444.1 533.4,436.1 543.1,428.1 552.8,420.1 562.4,412.1 570.6,404.1 572.6,396.1 574.1,388.1 575.7,380.1 575.4,372.1 574.9,364 574.2,356 573.7,348 573.3,340 573,332 572.9,324 572.7,316 572.6,308 572.5,300 572.5,292 572.4,284 572.4,276 572.4,268Z" fill="url(#g97)"/><path d="M444,268 444.1,276 444.5,284 445,292 445.5,300 446.1,308 446.6,316 447.2,324 447.8,332 448.5,340 449.3,348 450.3,356 451.5,364 453.4,372.1 456.5,380.1 457.7,388.1 458.9,396.1 460,404.1 459.7,412.1 457.8,420.1 455.9,428.1 452.9,436.1 449.8,444.1 446.5,452.1 442.8,460.1 436.3,468.1 429.8,476.1 481.8,476.1 488.3,468.1 497.8,460.1 505.3,452.1 513.4,444.1 521.6,436.1 530,428.1 538.2,420.1 546.4,412.1 553.1,404.1 554.6,396.1 555.8,388.1 557,380.1 556.3,372.1 555.7,364 555,356 554.5,348 554.1,340 553.8,332 553.7,324 553.5,316 553.4,308 553.3,300 553.3,292 553.2,284 553.2,276 553.2,268Z" fill="url(#g98)"/><path d="M454.8,268 454.9,276 455.2,284 455.6,292 456,300 456.5,308 456.9,316 457.4,324 457.9,332 458.5,340 459.2,348 460.1,356 461.1,364 462.9,372.1 465.7,380.1 466.6,388.1 467.5,396.1 468.4,404.1 467.7,412.1 465.5,420.1 463.2,428.1 459.9,436.1 456.5,444.1 453,452.1 449.1,460.1 442.3,468.1 435.8,476.1 475.8,476.1 482.3,468.1 491.3,460.1 498.3,452.1 505.5,444.1 512.8,436.1 520.2,428.1 527.3,420.1 534.4,412.1 540,404.1 541.2,396.1 542.1,388.1 543,380.1 542.1,372.1 541.3,364 540.6,356 540.1,348 539.7,340 539.4,332 539.3,324 539.1,316 539,308 538.9,300 538.9,292 538.8,284 538.8,276 538.8,268Z" fill="url(#g99)"/><path d="M462.9,268 462.9,276 463.2,284 463.5,292 463.9,300 464.2,308 464.6,316 465,324 465.4,332 465.9,340 466.6,348 467.4,356 468.4,364 470,372.1 472.6,380.1 473.3,388.1 474,396.1 474.7,404.1 473.7,412.1 471.2,420.1 468.6,428.1 465.2,436.1 461.6,444.1 457.9,452.1 453.7,460.1 446.8,468.1 440.3,476.1 471.3,476.1 477.8,468.1 486.5,460.1 493,452.1 499.5,444.1 506.2,436.1 512.8,428.1 519.1,420.1 525.4,412.1 530.2,404.1 531.1,396.1 531.8,388.1 532.5,380.1 531.4,372.1 530.5,364 529.8,356 529.3,348 528.9,340 528.6,332 528.5,324 528.3,316 528.2,308 528.1,300 528.1,292 528,284 528,276 528,268Z" fill="url(#g100)"/><path d="M446.7,268 447.3,276 448.7,284 450.1,292 451.5,300 453,308 454.6,316 456.2,324 457.9,332 459.9,340 462,348 464.2,356 466.3,364 469.6,372.1 474.2,380.1 478.6,388.1 483,396.1 487.4,404.1 491.4,412.1 494.8,420.1 498.3,428.1 501.6,436.1 503.2,444.1 503.9,452.1 504.5,460.1 504,468.1 502.2,476.1 612.6,476.1 614.4,468.1 617.1,460.1 620.3,452.1 623.3,444.1 625.6,436.1 625.6,428.1 625.6,420.1 625.6,412.1 625.1,404.1 622,396.1 618.6,388.1 615.2,380.1 611.7,372.1 609.3,364 608,356 606.6,348 605.3,340 604.1,332 603.2,324 602.3,316 601.6,308 600.9,300 600.2,292 599.6,284 599,276 598.5,268Z" fill="url(#g106)"/><path d="M473.1,268 473.7,276 474.8,284 476,292 477.3,300 478.6,308 479.9,316 481.3,324 482.9,332 484.6,340 486.5,348 488.5,356 490.4,364 493.2,372.1 497,380.1 500.6,388.1 504.2,396.1 507.7,404.1 510.8,412.1 513.3,420.1 515.9,428.1 518.4,436.1 519.3,444.1 519.4,452.1 519.3,460.1 518.4,468.1 516.6,476.1 598.2,476.1 600,468.1 602.5,460.1 605.4,452.1 608.1,444.1 610,436.1 610,428.1 610,420.1 610,412.1 609.5,404.1 606.9,396.1 604,388.1 601.2,380.1 598.3,372.1 596.1,364 594.8,356 593.4,348 592.1,340 590.9,332 590,324 589.1,316 588.4,308 587.7,300 587,292 586.4,284 585.8,276 585.3,268Z" fill="url(#g107)"/><path d="M490.7,268 491.3,276 492.3,284 493.4,292 494.5,300 495.6,308 496.8,316 498.1,324 499.5,332 501.1,340 502.9,348 504.7,356 506.5,364 509,372.1 512.2,380.1 515.2,388.1 518.3,396.1 521.3,404.1 523.8,412.1 525.7,420.1 527.6,428.1 529.5,436.1 530,444.1 529.7,452.1 529.2,460.1 528,468.1 526.2,476.1 588.6,476.1 590.4,468.1 592.8,460.1 595.4,452.1 597.9,444.1 599.6,436.1 599.6,428.1 599.6,420.1 599.6,412.1 599.1,404.1 596.8,396.1 594.3,388.1 591.9,380.1 589.3,372.1 587.3,364 586,356 584.6,348 583.3,340 582.1,332 581.2,324 580.3,316 579.6,308 578.9,300 578.2,292 577.6,284 577,276 576.5,268Z" fill="url(#g108)"/><path d="M503.9,268 504.4,276 505.4,284 506.3,292 507.3,300 508.4,308 509.5,316 510.7,324 511.9,332 513.5,340 515.1,348 516.8,356 518.5,364 520.8,372.1 523.6,380.1 526.2,388.1 528.8,396.1 531.4,404.1 533.5,412.1 535,420.1 536.5,428.1 537.9,436.1 538,444.1 537.4,452.1 536.6,460.1 535.2,468.1 533.4,476.1 581.4,476.1 583.2,468.1 585.5,460.1 588,452.1 590.3,444.1 591.8,436.1 591.8,428.1 591.8,420.1 591.8,412.1 591.3,404.1 589.3,396.1 587.1,388.1 584.9,380.1 582.6,372.1 580.7,364 579.4,356 578,348 576.7,340 575.5,332 574.6,324 573.7,316 573,308 572.3,300 571.6,292 571,284 570.4,276 569.9,268Z" fill="url(#g109)"/><path d="M513.8,268 514.3,276 515.2,284 516.1,292 517,300 518,308 519,316 520.1,324 521.3,332 522.7,340 524.3,348 526,356 527.6,364 529.6,372.1 532.1,380.1 534.4,388.1 536.8,396.1 539.1,404.1 540.8,412.1 541.9,420.1 543.1,428.1 544.2,436.1 544.1,444.1 543.2,452.1 542.1,460.1 540.6,468.1 538.8,476.1 576,476.1 577.8,468.1 580,460.1 582.4,452.1 584.6,444.1 586,436.1 586,428.1 586,420.1 586,412.1 585.5,404.1 583.6,396.1 581.6,388.1 579.6,380.1 577.5,372.1 575.8,364 574.4,356 573,348 571.7,340 570.5,332 569.6,324 568.8,316 568,308 567.3,300 566.6,292 566,284 565.5,276 564.9,268Z" fill="url(#g110)"/></g>
<g filter="url(#bn)"><path d="M469.2,268 469.2,276 469.5,284 469.7,292 470,300 470.3,308 470.6,316 470.9,324 471.3,332 471.8,340 472.3,348 473.1,356 474,364 475.5,372.1 477.9,380.1 478.5,388.1 479.1,396.1 479.6,404.1 478.3,412.1 475.7,420.1 472.9,428.1 469.3,436.1 465.6,444.1 461.7,452.1 457.4,460.1 450.3,468.1 443.8,476.1 467.8,476.1 474.3,468.1 482.7,460.1 488.9,452.1 494.9,444.1 501,436.1 507.1,428.1 512.8,420.1 518.4,412.1 522.5,404.1 523.3,396.1 523.8,388.1 524.3,380.1 523,372.1 522.1,364 521.4,356 520.9,348 520.5,340 520.2,332 520.1,324 519.9,316 519.8,308 519.7,300 519.7,292 519.6,284 519.6,276 519.6,268Z" fill="url(#g101)"/><path d="M474.3,268 474.3,276 474.4,284 474.7,292 474.9,300 475.1,308 475.4,316 475.7,324 476,332 476.4,340 477,348 477.6,356 478.5,364 480,372.1 482.2,380.1 482.7,388.1 483.1,396.1 483.5,404.1 482.1,412.1 479.2,420.1 476.3,428.1 472.6,436.1 468.7,444.1 464.8,452.1 460.3,460.1 453.1,468.1 446.6,476.1 465,476.1 471.5,468.1 479.7,460.1 485.6,452.1 491.2,444.1 496.9,436.1 502.5,428.1 507.7,420.1 512.8,412.1 516.4,404.1 517,396.1 517.4,388.1 517.8,380.1 516.4,372.1 515.4,364 514.7,356 514.2,348 513.8,340 513.5,332 513.4,324 513.2,316 513.1,308 513,300 513,292 512.9,284 512.9,276 512.9,268Z" fill="url(#g102)"/><path d="M478.6,268 478.6,276 478.7,284 478.9,292 479.1,300 479.3,308 479.5,316 479.8,324 480,332 480.4,340 480.9,348 481.6,356 482.4,364 483.8,372.1 485.9,380.1 486.2,388.1 486.6,396.1 486.8,404.1 485.3,412.1 482.3,420.1 479.2,428.1 475.4,436.1 471.4,444.1 467.4,452.1 462.8,460.1 455.5,468.1 449,476.1 462.6,476.1 469.1,468.1 477.1,460.1 482.8,452.1 488.1,444.1 493.3,436.1 498.6,428.1 503.3,420.1 508,412.1 511.1,404.1 511.6,396.1 511.9,388.1 512.2,380.1 510.7,372.1 509.6,364 508.9,356 508.4,348 508,340 507.7,332 507.6,324 507.5,316 507.4,308 507.3,300 507.2,292 507.1,284 507.1,276 507.1,268Z" fill="url(#g103)"/><path d="M482.7,268 482.7,276 482.8,284 482.9,292 483.1,300 483.3,308 483.4,316 483.7,324 483.9,332 484.2,340 484.7,348 485.3,356 486.1,364 487.4,372.1 489.4,380.1 489.7,388.1 489.9,396.1 490,404.1 488.4,412.1 485.2,420.1 482,428.1 478,436.1 474,444.1 469.9,452.1 465.1,460.1 457.8,468.1 451.3,476.1 460.3,476.1 466.8,468.1 474.7,460.1 480,452.1 485.1,444.1 489.9,436.1 494.8,428.1 499.1,420.1 503.4,412.1 506.1,404.1 506.4,396.1 506.7,388.1 506.8,380.1 505.2,372.1 504.1,364 503.4,356 502.9,348 502.5,340 502.2,332 502.1,324 501.9,316 501.8,308 501.7,300 501.7,292 501.6,284 501.6,276 501.6,268Z" fill="url(#g104)"/><path d="M486.9,268 486.9,276 486.9,284 487,292 487.1,300 487.2,308 487.4,316 487.6,324 487.7,332 488,340 488.5,348 489,356 489.8,364 491,372.1 493,380.1 493.1,388.1 493.2,396.1 493.2,404.1 491.4,412.1 488.1,420.1 484.8,428.1 480.7,436.1 476.6,444.1 472.4,452.1 467.5,460.1 460.1,468.1 453.6,476.1 458,476.1 464.5,468.1 472.2,460.1 477.3,452.1 482,444.1 486.5,436.1 491,428.1 494.9,420.1 498.8,412.1 501.1,404.1 501.3,396.1 501.4,388.1 501.5,380.1 499.7,372.1 498.6,364 497.9,356 497.4,348 497,340 496.7,332 496.6,324 496.4,316 496.3,308 496.2,300 496.2,292 496.1,284 496.1,276 496.1,268Z" fill="url(#g105)"/><path d="M521.5,268 522,276 522.8,284 523.6,292 524.5,300 525.4,308 526.4,316 527.4,324 528.6,332 529.9,340 531.5,348 533.1,356 534.6,364 536.5,372.1 538.7,380.1 540.8,388.1 542.9,396.1 545,404.1 546.4,412.1 547.3,420.1 548.2,428.1 549.1,436.1 548.8,444.1 547.7,452.1 546.4,460.1 544.8,468.1 543,476.1 571.8,476.1 573.6,468.1 575.8,460.1 578,452.1 580.1,444.1 581.4,436.1 581.4,428.1 581.4,420.1 581.4,412.1 580.9,404.1 579.2,396.1 577.4,388.1 575.5,380.1 573.6,372.1 571.9,364 570.6,356 569.2,348 567.9,340 566.7,332 565.8,324 564.9,316 564.2,308 563.5,300 562.8,292 562.2,284 561.6,276 561.1,268Z" fill="url(#g111)"/><path d="M527.6,268 528.2,276 528.9,284 529.7,292 530.5,300 531.4,308 532.3,316 533.3,324 534.4,332 535.7,340 537.2,348 538.7,356 540.2,364 542,372.1 544.1,380.1 546,388.1 547.9,396.1 549.7,404.1 551,412.1 551.6,420.1 552.3,428.1 553,436.1 552.5,444.1 551.3,452.1 549.9,460.1 548.2,468.1 546.3,476.1 568.4,476.1 570.2,468.1 572.4,460.1 574.6,452.1 576.6,444.1 577.8,436.1 577.8,428.1 577.8,420.1 577.8,412.1 577.3,404.1 575.7,396.1 574,388.1 572.3,380.1 570.5,372.1 568.8,364 567.5,356 566.1,348 564.8,340 563.6,332 562.7,324 561.8,316 561.1,308 560.4,300 559.7,292 559.1,284 558.5,276 558,268Z" fill="url(#g112)"/><path d="M532.9,268 533.5,276 534.1,284 534.9,292 535.7,300 536.5,308 537.4,316 538.3,324 539.4,332 540.7,340 542.1,348 543.6,356 545.1,364 546.8,372.1 548.6,380.1 550.4,388.1 552.1,396.1 553.8,404.1 554.8,412.1 555.3,420.1 555.9,428.1 556.3,436.1 555.7,444.1 554.4,452.1 552.8,460.1 551,468.1 549.2,476.1 565.5,476.1 567.4,468.1 569.5,460.1 571.6,452.1 573.5,444.1 574.7,436.1 574.7,428.1 574.7,420.1 574.7,412.1 574.1,404.1 572.6,396.1 571.1,388.1 569.5,380.1 567.8,372.1 566.2,364 564.8,356 563.5,348 562.1,340 561,332 560,324 559.2,316 558.5,308 557.7,300 557.1,292 556.5,284 555.9,276 555.4,268Z" fill="url(#g113)"/><path d="M538,268 538.5,276 539.2,284 539.9,292 540.6,300 541.4,308 542.2,316 543.1,324 544.1,332 545.4,340 546.8,348 548.2,356 549.7,364 551.3,372.1 553,380.1 554.6,388.1 556.2,396.1 557.7,404.1 558.6,412.1 558.9,420.1 559.2,428.1 559.6,436.1 558.8,444.1 557.3,452.1 555.7,460.1 553.8,468.1 552,476.1 562.8,476.1 564.6,468.1 566.7,460.1 568.7,452.1 570.6,444.1 571.7,436.1 571.7,428.1 571.7,420.1 571.7,412.1 571.2,404.1 569.8,396.1 568.3,388.1 566.8,380.1 565.2,372.1 563.7,364 562.3,356 560.9,348 559.6,340 558.4,332 557.5,324 556.7,316 555.9,308 555.2,300 554.5,292 553.9,284 553.4,276 552.8,268Z" fill="url(#g114)"/><path d="M543,268 543.6,276 544.2,284 544.8,292 545.5,300 546.3,308 547.1,316 547.9,324 548.9,332 550.1,340 551.5,348 552.9,356 554.3,364 555.8,372.1 557.4,380.1 558.8,388.1 560.2,396.1 561.6,404.1 562.3,412.1 562.4,420.1 562.6,428.1 562.8,436.1 561.9,444.1 560.3,452.1 558.5,460.1 556.6,468.1 554.7,476.1 560,476.1 561.8,468.1 563.9,460.1 565.9,452.1 567.7,444.1 568.7,436.1 568.7,428.1 568.7,420.1 568.7,412.1 568.2,404.1 566.9,396.1 565.5,388.1 564.1,380.1 562.6,372.1 561.1,364 559.8,356 558.4,348 557.1,340 555.9,332 555,324 554.1,316 553.4,308 552.7,300 552,292 551.4,284 550.8,276 550.3,268Z" fill="url(#g115)"/></g>
</g></g>
<g clip-path="url(#cp5)" fill="none" stroke="#f0f" stroke-width="1.6" stroke-dasharray="11.1 6.85" stroke-dashoffset="2.1">
<path d="M444.5,466.1 446.8,462.1 448.8,458.1 450.5,454.1 451.8,450.1 452.5,446.1 453,442.1 453.4,438.1 453.7,434.1 454,430.1 454.1,426.1 454.3,422.1 454.4,418.1 454.5,414.1 454.5,410.1 454.4,406.1 454.2,402.1 454,398.1 453.7,394.1 453.4,390.1 453.2,386.1 453.1,382.1 452.9,378.1 452.7,374.1 452.5,370.1 452.1,366.1 451.4,362.1 450.7,358.1 450.2,354.1 449.9,350.1 449.5,346.1 449.2,342.1 448.9,338.1 448.7,334.1 448.5,330.1 448.3,326.1 448.1,322.1 447.9,318.1 447.8,314.1 447.6,310.1 447.5,306.1 447.3,302.1 447.2,298.1 447.1,294.1 446.9,290.1 446.8,286.1 446.7,282.1 446.5,278.1 446.4,275.1"/>
<path d="M456.9,466.1 460.4,462.1 463.2,458.1 465.6,454.1 467.6,450.1 469,446.1 470.3,442.1 471.3,438.1 472.2,434.1 473,430.1 473.7,426.1 474.3,422.1 474.8,418.1 475.2,414.1 475.5,410.1 475.8,406.1 476,402.1 476.2,398.1 476.2,394.1 476.2,390.1 476.2,386.1 476.2,382.1 476.2,378.1 476.2,374.1 476.2,370.1 476.2,366.1 476.1,362.1 476,358.1 475.8,354.1 475.7,350.1 475.5,346.1 475.3,342.1 475.1,338.1 474.9,334.1 474.7,330.1 474.6,326.1 474.4,322.1 474.2,318.1 474,314.1 473.9,310.1 473.7,306.1 473.6,302.1 473.5,298.1 473.4,294.1 473.3,290.1 473.2,286.1 473.1,282.1 473,278.1 473,275.1"/>
<path d="M463.4,466.1 467.7,462.1 471.2,458.1 474.3,454.1 476.9,450.1 478.9,446.1 480.6,442.1 482,438.1 483.3,434.1 484.4,430.1 485.5,426.1 486.5,422.1 487.4,418.1 488.1,414.1 488.7,410.1 489.2,406.1 489.7,402.1 490,398.1 490.4,394.1 490.7,390.1 491,386.1 491.3,382.1 491.6,378.1 491.8,374.1 492,370.1 492,366.1 492,362.1 492,358.1 492,354.1 491.9,350.1 491.8,346.1 491.7,342.1 491.6,338.1 491.5,334.1 491.4,330.1 491.3,326.1 491.3,322.1 491.3,318.1 491.2,314.1 491.2,310.1 491.2,306.1 491.1,302.1 491.1,298.1 491,294.1 491,290.1 490.9,286.1 490.9,282.1 490.8,278.1 490.8,275.1"/>
<path d="M467,466.1 473.4,462.1 478.5,458.1 482.8,454.1 486,450.1 488.8,446.1 491.1,442.1 493.2,438.1 495,434.1 496.6,430.1 498.1,426.1 499.6,422.1 501,418.1 502.4,414.1 503.6,410.1 504.6,406.1 505.4,402.1 506.1,398.1 506.8,394.1 507.4,390.1 507.9,386.1 508.4,382.1 508.9,378.1 509.3,374.1 509.6,370.1 509.8,366.1 510,362.1 510.1,358.1 510.1,354.1 510,350.1 510,346.1 509.9,342.1 509.9,338.1 509.8,334.1 509.8,330.1 509.7,326.1 509.7,322.1 509.6,318.1 509.6,314.1 509.5,310.1 509.5,306.1 509.5,302.1 509.5,298.1 509.5,294.1 509.5,290.1 509.5,286.1 509.5,282.1 509.5,278.1 509.5,275.1"/>
<path d="M475.9,466.1 483.9,462.1 491.2,458.1 496.6,454.1 501.3,450.1 505.4,446.1 509,442.1 512.3,438.1 515.4,434.1 518.3,430.1 520.9,426.1 523,422.1 524.9,418.1 526.6,414.1 528,410.1 529.1,406.1 529.9,402.1 530.7,398.1 531.3,394.1 531.9,390.1 532.3,386.1 532.7,382.1 533.1,378.1 533.4,374.1 533.6,370.1 533.6,366.1 533.4,362.1 533.2,358.1 533,354.1 532.8,350.1 532.6,346.1 532.3,342.1 532.1,338.1 531.9,334.1 531.7,330.1 531.5,326.1 531.3,322.1 531.1,318.1 531,314.1 530.8,310.1 530.7,306.1 530.5,302.1 530.4,298.1 530.3,294.1 530.2,290.1 530.1,286.1 530.1,282.1 530,278.1 529.9,275.1"/>
<path d="M529.9,466.1 532.8,462.1 535.7,458.1 538.2,454.1 539.9,450.1 541.2,446.1 542.4,442.1 543.4,438.1 544.2,434.1 545.1,430.1 545.9,426.1 546.6,422.1 547.2,418.1 547.6,414.1 547.9,410.1 548.1,406.1 548.3,402.1 548.4,398.1 548.6,394.1 548.6,390.1 548.6,386.1 548.6,382.1 548.6,378.1 548.5,374.1 548.5,370.1 548.4,366.1 548.4,362.1 548.3,358.1 548.2,354.1 548,350.1 547.8,346.1 547.6,342.1 547.3,338.1 547.1,334.1 546.9,330.1 546.6,326.1 546.3,322.1 546,318.1 545.7,314.1 545.4,310.1 545.1,306.1 544.9,302.1 544.7,298.1 544.5,294.1 544.3,290.1 544.1,286.1 543.9,282.1 543.8,278.1 543.7,275.1"/>
<path d="M552.3,466.1 553.5,462.1 554.8,458.1 556,454.1 556.9,450.1 557.7,446.1 558.4,442.1 559.1,438.1 559.6,434.1 560.1,430.1 560.6,426.1 561,422.1 561.3,418.1 561.4,414.1 561.5,410.1 561.4,406.1 561.3,402.1 561.2,398.1 561.1,394.1 560.9,390.1 560.8,386.1 560.6,382.1 560.4,378.1 560.1,374.1 559.8,370.1 559.6,366.1 559.3,362.1 559,358.1 558.8,354.1 558.5,350.1 558.2,346.1 558,342.1 557.7,338.1 557.4,334.1 557.1,330.1 556.7,326.1 556.4,322.1 556,318.1 555.6,314.1 555.2,310.1 554.8,306.1 554.5,302.1 554.3,298.1 554,294.1 553.8,290.1 553.5,286.1 553.3,282.1 553.1,278.1 553,275.1"/>
<path d="M563.9,466.1 565.2,462.1 566.5,458.1 567.6,454.1 568.5,450.1 569.3,446.1 570,442.1 570.6,438.1 570.9,434.1 571.2,430.1 571.5,426.1 571.7,422.1 571.9,418.1 572,414.1 572,410.1 571.9,406.1 571.8,402.1 571.6,398.1 571.4,394.1 571.2,390.1 571,386.1 570.7,382.1 570.4,378.1 570.2,374.1 569.8,370.1 569.5,366.1 569.2,362.1 569,358.1 568.7,354.1 568.4,350.1 568.1,346.1 567.9,342.1 567.6,338.1 567.3,334.1 567,330.1 566.7,326.1 566.3,322.1 566,318.1 565.7,314.1 565.3,310.1 565,306.1 564.7,302.1 564.5,298.1 564.2,294.1 564,290.1 563.8,286.1 563.6,282.1 563.4,278.1 563.2,275.1"/>
<path d="M572.6,466.1 574.2,462.1 575.8,458.1 577.2,454.1 578.4,450.1 579.5,446.1 580.5,442.1 581.2,438.1 581.8,434.1 582.2,430.1 582.6,426.1 583,422.1 583.2,418.1 583.3,414.1 583.4,410.1 583.4,406.1 583.4,402.1 583.4,398.1 583.4,394.1 583.4,390.1 583.4,386.1 583.3,382.1 583.2,378.1 583,374.1 582.9,370.1 582.7,366.1 582.6,362.1 582.4,358.1 582.3,354.1 582.1,350.1 582,346.1 581.8,342.1 581.7,338.1 581.5,334.1 581.3,330.1 581.1,326.1 580.9,322.1 580.7,318.1 580.5,314.1 580.3,310.1 580.1,306.1 579.9,302.1 579.7,298.1 579.6,294.1 579.4,290.1 579.3,286.1 579.2,282.1 579.1,278.1 579,275.1"/>
<path d="M588.3,466.1 590.9,462.1 593.7,458.1 596.5,454.1 598.7,450.1 600.7,446.1 602.5,442.1 604.2,438.1 605.8,434.1 607.3,430.1 608.7,426.1 610.2,422.1 611.6,418.1 613.1,414.1 614.6,410.1 616,406.1 617.4,402.1 618.6,398.1 619.7,394.1 620.9,390.1 622.2,386.1 623.4,382.1 624.8,378.1 626.2,374.1 627.7,370.1 629.2,366.1 630.9,362.1 632.5,358.1 634.3,354.1 634.4,353.9"/>
</g>
<g clip-path="url(#cp5)" fill="#f0f" font-family="'Liberation Sans',sans-serif" font-size="15.3" text-anchor="middle">
<text transform="translate(440.6,339.9) rotate(86.2)" y="5.4">-60<tspan font-size="22" dy="4.3">°</tspan></text>
<text transform="translate(610.2,396.9) rotate(-73.3)" y="5.4">-600<tspan font-size="22" dy="4.3">°</tspan></text>
</g>
<rect x="484.7" y="307.6" width="106.9" height="19" fill="none" stroke="#000" stroke-width="1.6"/>
<rect x="436.3" y="278" width="189.7" height="188.1" fill="none" stroke="#333" stroke-opacity="0.55" stroke-width="0.6"/>
<g clip-path="url(#cp6)"><g filter="url(#par)">
<rect x="35" y="522.3" width="221.7" height="220.1" fill="url(#b116)"/>
<ellipse cx="255.2" cy="742.2" rx="75.9" ry="140.1" fill="url(#r117)"/>
<ellipse cx="141.4" cy="733.5" rx="46.7" ry="49.6" fill="url(#r118)"/>
<g filter="url(#bw)"><path d="M50.5,528.3 50.5,536.3 50.9,544.3 51.3,552.3 51.7,560.3 52.1,568.3 52.4,576.3 52.7,584.3 53,592.3 53.2,600.3 53.5,608.3 53.7,616.3 53.8,624.3 54.8,632.3 56.3,640.4 57.5,648.4 58.6,656.4 59.3,664.4 60.4,672.4 61.2,680.4 61.6,688.4 62.2,696.4 62.2,704.4 61.3,712.4 59.1,720.4 55,728.4 48.9,736.4 111,736.4 117.1,728.4 128.6,720.4 141.1,712.4 152.7,704.4 163.5,696.4 173.4,688.4 181.4,680.4 189,672.4 196.3,664.4 200.2,656.4 203.4,648.4 206.4,640.4 209.1,632.3 210.6,624.3 211.3,616.3 211.8,608.3 212.4,600.3 212.9,592.3 213.4,584.3 213.9,576.3 214.4,568.3 214.8,560.3 215.2,552.3 215.6,544.3 216,536.3 216.1,528.3Z" fill="url(#g119)"/><path d="M68.5,528.3 68.5,536.3 68.8,544.3 69.1,552.3 69.4,560.3 69.6,568.3 69.9,576.3 70,584.3 70.2,592.3 70.4,600.3 70.5,608.3 70.6,616.3 70.7,624.3 71.3,632.3 72.3,640.4 73,648.4 73.4,656.4 73.6,664.4 74,672.4 74,680.4 73.7,688.4 73.4,696.4 72.5,704.4 70.6,712.4 67.5,720.4 62.8,728.4 56.7,736.4 102.6,736.4 108.7,728.4 118.9,720.4 129.6,712.4 139.4,704.4 148.3,696.4 156.3,688.4 162.9,680.4 169,672.4 174.8,664.4 178.2,656.4 180.8,648.4 183.2,640.4 185.3,632.3 186.6,624.3 187.1,616.3 187.6,608.3 188,600.3 188.4,592.3 188.8,584.3 189.2,576.3 189.6,568.3 189.9,560.3 190.2,552.3 190.5,544.3 190.8,536.3 190.9,528.3Z" fill="url(#g120)"/><path d="M80.5,528.3 80.5,536.3 80.7,544.3 80.9,552.3 81.2,560.3 81.4,568.3 81.5,576.3 81.6,584.3 81.7,592.3 81.8,600.3 81.9,608.3 81.9,616.3 81.9,624.3 82.3,632.3 82.9,640.4 83.3,648.4 83.4,656.4 83.1,664.4 83,672.4 82.6,680.4 81.8,688.4 80.9,696.4 79.3,704.4 76.8,712.4 73.2,720.4 68,728.4 61.9,736.4 97,736.4 103.1,728.4 112.5,720.4 122,712.4 130.5,704.4 138.1,696.4 145,688.4 150.5,680.4 155.7,672.4 160.6,664.4 163.4,656.4 165.7,648.4 167.7,640.4 169.5,632.3 170.6,624.3 171,616.3 171.4,608.3 171.8,600.3 172.1,592.3 172.5,584.3 172.8,576.3 173.1,568.3 173.3,560.3 173.6,552.3 173.8,544.3 174,536.3 174.1,528.3Z" fill="url(#g121)"/><path d="M89.5,528.3 89.5,536.3 89.7,544.3 89.8,552.3 90,560.3 90.1,568.3 90.2,576.3 90.3,584.3 90.4,592.3 90.4,600.3 90.4,608.3 90.4,616.3 90.4,624.3 90.6,632.3 90.9,640.4 91,648.4 90.8,656.4 90.3,664.4 89.8,672.4 89,680.4 87.9,688.4 86.5,696.4 84.5,704.4 81.5,712.4 77.4,720.4 71.9,728.4 65.8,736.4 92.8,736.4 98.9,728.4 107.6,720.4 116.2,712.4 123.8,704.4 130.5,696.4 136.4,688.4 141.3,680.4 145.7,672.4 149.9,664.4 152.4,656.4 154.4,648.4 156.2,640.4 157.7,632.3 158.5,624.3 158.9,616.3 159.3,608.3 159.6,600.3 159.9,592.3 160.2,584.3 160.5,576.3 160.7,568.3 160.9,560.3 161.1,552.3 161.3,544.3 161.4,536.3 161.5,528.3Z" fill="url(#g122)"/><path d="M96.2,528.3 96.2,536.3 96.4,544.3 96.5,552.3 96.6,560.3 96.7,568.3 96.8,576.3 96.8,584.3 96.8,592.3 96.8,600.3 96.8,608.3 96.8,616.3 96.7,624.3 96.8,632.3 96.9,640.4 96.8,648.4 96.4,656.4 95.7,664.4 94.9,672.4 93.9,680.4 92.4,688.4 90.7,696.4 88.3,704.4 85,712.4 80.6,720.4 74.8,728.4 68.7,736.4 89.6,736.4 95.7,728.4 104,720.4 111.9,712.4 118.8,704.4 124.8,696.4 130.1,688.4 134.3,680.4 138.2,672.4 141.8,664.4 144.1,656.4 145.9,648.4 147.5,640.4 148.8,632.3 149.5,624.3 149.9,616.3 150.2,608.3 150.5,600.3 150.7,592.3 151,584.3 151.2,576.3 151.4,568.3 151.6,560.3 151.7,552.3 151.8,544.3 152,536.3 152,528.3Z" fill="url(#g123)"/><path d="M82.8,528.3 83.3,536.3 84.5,544.3 85.9,552.3 87.3,560.3 88.7,568.3 90.3,576.3 92,584.3 93.6,592.3 95.3,600.3 97,608.3 98.7,616.3 100.4,624.3 102.9,632.3 106.2,640.4 109.4,648.4 112.4,656.4 115,664.4 117.8,672.4 120.3,680.4 122.5,688.4 124,696.4 124.3,704.4 124.1,712.4 123.1,720.4 120.7,728.4 118.8,736.4 220,736.4 221.9,728.4 225.7,720.4 229.2,712.4 231.9,704.4 234.2,696.4 235,688.4 235.1,680.4 234.8,672.4 234.4,664.4 232.5,656.4 230,648.4 227.3,640.4 224.5,632.3 222.6,624.3 221.5,616.3 220.4,608.3 219.2,600.3 218.2,592.3 217.1,584.3 216.1,576.3 215.1,568.3 214.2,560.3 213.4,552.3 212.6,544.3 212,536.3 211.6,528.3Z" fill="url(#g129)"/><path d="M104.4,528.3 104.8,536.3 105.9,544.3 107,552.3 108.2,560.3 109.5,568.3 110.9,576.3 112.3,584.3 113.7,592.3 115.2,600.3 116.7,608.3 118.2,616.3 119.7,624.3 121.8,632.3 124.6,640.4 127.3,648.4 129.7,656.4 131.8,664.4 133.9,672.4 135.9,680.4 137.5,688.4 138.4,696.4 138.4,704.4 137.8,712.4 136.5,720.4 133.9,728.4 132,736.4 206.8,736.4 208.7,728.4 212.3,720.4 215.5,712.4 217.9,704.4 219.8,696.4 220.6,688.4 220.7,680.4 220.4,672.4 220,664.4 218.4,656.4 216.4,648.4 214.1,640.4 211.7,632.3 210.1,624.3 209,616.3 207.9,608.3 206.8,600.3 205.8,592.3 204.8,584.3 203.8,576.3 202.9,568.3 202,560.3 201.3,552.3 200.6,544.3 200,536.3 199.6,528.3Z" fill="url(#g130)"/><path d="M118.8,528.3 119.2,536.3 120.1,544.3 121.1,552.3 122.2,560.3 123.3,568.3 124.5,576.3 125.8,584.3 127.2,592.3 128.5,600.3 129.8,608.3 131.2,616.3 132.6,624.3 134.4,632.3 136.8,640.4 139.2,648.4 141.2,656.4 142.9,664.4 144.7,672.4 146.2,680.4 147.4,688.4 148,696.4 147.7,704.4 147,712.4 145.4,720.4 142.7,728.4 140.8,736.4 198,736.4 199.9,728.4 203.4,720.4 206.3,712.4 208.5,704.4 210.2,696.4 211,688.4 211.1,680.4 210.8,672.4 210.4,664.4 209.1,656.4 207.3,648.4 205.3,640.4 203.2,632.3 201.7,624.3 200.6,616.3 199.6,608.3 198.5,600.3 197.6,592.3 196.6,584.3 195.6,576.3 194.7,568.3 193.9,560.3 193.2,552.3 192.5,544.3 192,536.3 191.6,528.3Z" fill="url(#g131)"/><path d="M129.6,528.3 130,536.3 130.8,544.3 131.7,552.3 132.6,560.3 133.7,568.3 134.8,576.3 136,584.3 137.2,592.3 138.4,600.3 139.7,608.3 141,616.3 142.3,624.3 143.9,632.3 146,640.4 148.1,648.4 149.8,656.4 151.3,664.4 152.7,672.4 154,680.4 154.9,688.4 155.2,696.4 154.7,704.4 153.8,712.4 152.1,720.4 149.3,728.4 147.4,736.4 191.4,736.4 193.3,728.4 196.7,720.4 199.5,712.4 201.5,704.4 203,696.4 203.8,688.4 203.9,680.4 203.6,672.4 203.2,664.4 202,656.4 200.5,648.4 198.7,640.4 196.8,632.3 195.4,624.3 194.4,616.3 193.3,608.3 192.3,600.3 191.4,592.3 190.4,584.3 189.5,576.3 188.6,568.3 187.8,560.3 187.1,552.3 186.5,544.3 186,536.3 185.6,528.3Z" fill="url(#g132)"/><path d="M137.7,528.3 138.1,536.3 138.8,544.3 139.6,552.3 140.5,560.3 141.5,568.3 142.5,576.3 143.6,584.3 144.8,592.3 145.9,600.3 147.1,608.3 148.3,616.3 149.5,624.3 151,632.3 152.9,640.4 154.8,648.4 156.3,656.4 157.6,664.4 158.8,672.4 159.8,680.4 160.5,688.4 160.5,696.4 160,704.4 158.9,712.4 157.1,720.4 154.2,728.4 152.4,736.4 186.5,736.4 188.3,728.4 191.7,720.4 194.4,712.4 196.3,704.4 197.6,696.4 198.4,688.4 198.5,680.4 198.2,672.4 197.8,664.4 196.8,656.4 195.4,648.4 193.7,640.4 192,632.3 190.7,624.3 189.7,616.3 188.7,608.3 187.7,600.3 186.7,592.3 185.8,584.3 184.9,576.3 184,568.3 183.3,560.3 182.6,552.3 182,544.3 181.5,536.3 181.1,528.3Z" fill="url(#g133)"/></g>
<g filter="url(#bn)"><path d="M101.5,528.3 101.5,536.3 101.6,544.3 101.7,552.3 101.8,560.3 101.9,568.3 101.9,576.3 101.9,584.3 101.9,592.3 101.8,600.3 101.8,608.3 101.7,616.3 101.6,624.3 101.6,632.3 101.5,640.4 101.3,648.4 100.7,656.4 99.8,664.4 98.9,672.4 97.6,680.4 95.9,688.4 93.9,696.4 91.3,704.4 87.7,712.4 83,720.4 77.1,728.4 71,736.4 87.2,736.4 93.3,728.4 101.2,720.4 108.6,712.4 114.9,704.4 120.4,696.4 125.1,688.4 128.9,680.4 132.4,672.4 135.6,664.4 137.7,656.4 139.3,648.4 140.7,640.4 141.8,632.3 142.5,624.3 142.8,616.3 143.1,608.3 143.4,600.3 143.6,592.3 143.8,584.3 144,576.3 144.2,568.3 144.3,560.3 144.4,552.3 144.5,544.3 144.6,536.3 144.7,528.3Z" fill="url(#g124)"/><path d="M105.7,528.3 105.7,536.3 105.7,544.3 105.8,552.3 105.9,560.3 106,568.3 106,576.3 105.9,584.3 105.9,592.3 105.8,600.3 105.8,608.3 105.7,616.3 105.5,624.3 105.4,632.3 105.3,640.4 104.9,648.4 104.2,656.4 103.2,664.4 102.1,672.4 100.6,680.4 98.8,688.4 96.6,696.4 93.7,704.4 89.9,712.4 85,720.4 78.9,728.4 72.8,736.4 85.2,736.4 91.3,728.4 98.9,720.4 105.9,712.4 111.8,704.4 116.8,696.4 121.1,688.4 124.6,680.4 127.8,672.4 130.6,664.4 132.5,656.4 134,648.4 135.3,640.4 136.3,632.3 136.9,624.3 137.2,616.3 137.4,608.3 137.7,600.3 137.9,592.3 138.1,584.3 138.3,576.3 138.4,568.3 138.5,560.3 138.6,552.3 138.7,544.3 138.8,536.3 138.8,528.3Z" fill="url(#g125)"/><path d="M109.3,528.3 109.3,536.3 109.3,544.3 109.4,552.3 109.4,560.3 109.5,568.3 109.5,576.3 109.4,584.3 109.4,592.3 109.3,600.3 109.2,608.3 109.1,616.3 108.9,624.3 108.7,632.3 108.5,640.4 107.9,648.4 107.2,656.4 106,664.4 104.8,672.4 103.2,680.4 101.2,688.4 98.8,696.4 95.8,704.4 91.8,712.4 86.7,720.4 80.4,728.4 74.3,736.4 83.5,736.4 89.6,728.4 97,720.4 103.6,712.4 109.1,704.4 113.8,696.4 117.7,688.4 120.9,680.4 123.8,672.4 126.3,664.4 128.1,656.4 129.5,648.4 130.7,640.4 131.6,632.3 132.1,624.3 132.3,616.3 132.6,608.3 132.8,600.3 133,592.3 133.2,584.3 133.3,576.3 133.5,568.3 133.5,560.3 133.6,552.3 133.7,544.3 133.7,536.3 133.7,528.3Z" fill="url(#g126)"/><path d="M112.7,528.3 112.7,536.3 112.7,544.3 112.8,552.3 112.8,560.3 112.8,568.3 112.8,576.3 112.7,584.3 112.7,592.3 112.6,600.3 112.5,608.3 112.3,616.3 112.1,624.3 111.9,632.3 111.5,640.4 110.9,648.4 110,656.4 108.8,664.4 107.4,672.4 105.6,680.4 103.5,688.4 100.9,696.4 97.7,704.4 93.6,712.4 88.3,720.4 81.9,728.4 75.8,736.4 81.9,736.4 88,728.4 95.1,720.4 101.4,712.4 106.6,704.4 110.9,696.4 114.4,688.4 117.4,680.4 119.9,672.4 122.2,664.4 123.9,656.4 125.2,648.4 126.2,640.4 127,632.3 127.5,624.3 127.7,616.3 127.9,608.3 128.1,600.3 128.3,592.3 128.5,584.3 128.6,576.3 128.7,568.3 128.8,560.3 128.8,552.3 128.9,544.3 128.9,536.3 128.9,528.3Z" fill="url(#g127)"/><path d="M116.2,528.3 116.2,536.3 116.2,544.3 116.2,552.3 116.2,560.3 116.2,568.3 116.1,576.3 116.1,584.3 116,592.3 115.9,600.3 115.7,608.3 115.6,616.3 115.3,624.3 115.1,632.3 114.6,640.4 113.9,648.4 112.9,656.4 111.5,664.4 110,672.4 108.1,680.4 105.8,688.4 103.1,696.4 99.7,704.4 95.4,712.4 89.9,720.4 83.4,728.4 77.3,736.4 80.3,736.4 86.4,728.4 93.2,720.4 99.2,712.4 104,704.4 107.9,696.4 111.2,688.4 113.8,680.4 116.1,672.4 118.1,664.4 119.7,656.4 120.8,648.4 121.8,640.4 122.5,632.3 122.8,624.3 123.1,616.3 123.3,608.3 123.5,600.3 123.6,592.3 123.7,584.3 123.9,576.3 124,568.3 124,560.3 124,552.3 124.1,544.3 124.1,536.3 124.1,528.3Z" fill="url(#g128)"/><path d="M144,528.3 144.4,536.3 145.1,544.3 145.8,552.3 146.6,560.3 147.5,568.3 148.5,576.3 149.6,584.3 150.6,592.3 151.7,600.3 152.8,608.3 154,616.3 155.1,624.3 156.5,632.3 158.3,640.4 160,648.4 161.4,656.4 162.4,664.4 163.5,672.4 164.3,680.4 164.8,688.4 164.7,696.4 164.1,704.4 162.9,712.4 161,720.4 158.1,728.4 156.2,736.4 182.6,736.4 184.5,728.4 187.8,720.4 190.4,712.4 192.2,704.4 193.5,696.4 194.2,688.4 194.3,680.4 194,672.4 193.6,664.4 192.7,656.4 191.4,648.4 189.9,640.4 188.3,632.3 187,624.3 186,616.3 185,608.3 184.1,600.3 183.1,592.3 182.2,584.3 181.3,576.3 180.5,568.3 179.7,560.3 179.1,552.3 178.5,544.3 178,536.3 177.6,528.3Z" fill="url(#g134)"/><path d="M149,528.3 149.4,536.3 150,544.3 150.7,552.3 151.5,560.3 152.3,568.3 153.3,576.3 154.3,584.3 155.3,592.3 156.4,600.3 157.4,608.3 158.5,616.3 159.6,624.3 160.9,632.3 162.6,640.4 164.1,648.4 165.4,656.4 166.3,664.4 167.2,672.4 168,680.4 168.3,688.4 168.1,696.4 167.4,704.4 166.1,712.4 164.1,720.4 161.2,728.4 159.3,736.4 179.5,736.4 181.4,728.4 184.7,720.4 187.2,712.4 188.9,704.4 190.1,696.4 190.8,688.4 190.9,680.4 190.6,672.4 190.2,664.4 189.4,656.4 188.2,648.4 186.8,640.4 185.3,632.3 184.1,624.3 183.1,616.3 182.1,608.3 181.2,600.3 180.2,592.3 179.3,584.3 178.4,576.3 177.6,568.3 176.9,560.3 176.2,552.3 175.7,544.3 175.2,536.3 174.8,528.3Z" fill="url(#g135)"/><path d="M153.3,528.3 153.7,536.3 154.3,544.3 155,552.3 155.7,560.3 156.5,568.3 157.4,576.3 158.4,584.3 159.4,592.3 160.3,600.3 161.4,608.3 162.4,616.3 163.5,624.3 164.7,632.3 166.2,640.4 167.7,648.4 168.8,656.4 169.7,664.4 170.5,672.4 171.1,680.4 171.3,688.4 171,696.4 170.2,704.4 168.9,712.4 166.8,720.4 163.8,728.4 161.9,736.4 176.9,736.4 178.8,728.4 182,720.4 184.4,712.4 186.1,704.4 187.2,696.4 187.9,688.4 188,680.4 187.8,672.4 187.3,664.4 186.6,656.4 185.5,648.4 184.1,640.4 182.7,632.3 181.6,624.3 180.6,616.3 179.6,608.3 178.7,600.3 177.8,592.3 176.9,584.3 176,576.3 175.2,568.3 174.5,560.3 173.8,552.3 173.2,544.3 172.8,536.3 172.4,528.3Z" fill="url(#g136)"/><path d="M157.5,528.3 157.9,536.3 158.4,544.3 159,552.3 159.7,560.3 160.5,568.3 161.3,576.3 162.3,584.3 163.2,592.3 164.2,600.3 165.2,608.3 166.2,616.3 167.2,624.3 168.4,632.3 169.8,640.4 171.1,648.4 172.2,656.4 172.9,664.4 173.6,672.4 174,680.4 174.2,688.4 173.7,696.4 172.9,704.4 171.5,712.4 169.4,720.4 166.3,728.4 164.5,736.4 174.4,736.4 176.2,728.4 179.4,720.4 181.8,712.4 183.4,704.4 184.5,696.4 185.2,688.4 185.3,680.4 185,672.4 184.6,664.4 183.9,656.4 182.9,648.4 181.6,640.4 180.3,632.3 179.2,624.3 178.2,616.3 177.2,608.3 176.3,600.3 175.4,592.3 174.5,584.3 173.6,576.3 172.8,568.3 172.1,560.3 171.5,552.3 170.9,544.3 170.5,536.3 170.1,528.3Z" fill="url(#g137)"/><path d="M161.6,528.3 162,536.3 162.5,544.3 163.1,552.3 163.7,560.3 164.4,568.3 165.3,576.3 166.2,584.3 167.1,592.3 168,600.3 168.9,608.3 169.9,616.3 170.9,624.3 172,632.3 173.3,640.4 174.5,648.4 175.5,656.4 176.1,664.4 176.6,672.4 177,680.4 177,688.4 176.5,696.4 175.6,704.4 174.1,712.4 171.9,720.4 168.9,728.4 167,736.4 171.8,736.4 173.7,728.4 176.9,720.4 179.2,712.4 180.7,704.4 181.7,696.4 182.4,688.4 182.5,680.4 182.2,672.4 181.8,664.4 181.2,656.4 180.3,648.4 179.1,640.4 177.8,632.3 176.7,624.3 175.8,616.3 174.8,608.3 173.9,600.3 173,592.3 172.2,584.3 171.3,576.3 170.5,568.3 169.8,560.3 169.2,552.3 168.6,544.3 168.1,536.3 167.8,528.3Z" fill="url(#g138)"/><path d="M101.6,704.3 100,707.2 98.4,710.1 96.6,713 94.6,715.9 92.5,718.9 90.3,721.8 87.9,724.7" fill="none" stroke="#000" stroke-opacity="0.45" stroke-width="4" stroke-linecap="round"/></g>
</g></g>
<g clip-path="url(#cp6)" fill="none" stroke="#f0f" stroke-width="1.6" stroke-dasharray="11.1 6.85" stroke-dashoffset="2.1">
<path d="M74.1,726.4 76.4,722.4 78.6,718.4 80.4,714.4 82,710.4 83.3,706.4 84.4,702.4 85.3,698.4 86.1,694.4 86.7,690.4 87.3,686.4 87.7,682.4 88,678.4 88.4,674.4 88.6,670.4 88.6,666.4 88.6,662.4 88.6,658.4 88.6,654.4 88.5,650.4 88.5,646.4 88.3,642.4 88.2,638.4 88,634.4 87.8,630.4 87.6,626.4 87.4,622.4 87.3,618.4 87.1,614.4 87,610.4 86.8,606.4 86.6,602.4 86.5,598.4 86.3,594.4 86.2,590.4 86,586.4 85.8,582.4 85.7,578.4 85.5,574.4 85.4,570.4 85.2,566.4 85,562.4 84.9,558.4 84.8,554.4 84.6,550.4 84.5,546.4 84.4,542.4 84.2,538.4 84.1,535.4"/>
<path d="M79.9,726.4 83.1,722.4 86.2,718.4 88.8,714.4 91.3,710.4 93.4,706.4 95.2,702.4 96.7,698.4 98,694.4 99.2,690.4 100.1,686.4 100.9,682.4 101.5,678.4 102.1,674.4 102.7,670.4 103.3,666.4 103.9,662.4 104.5,658.4 105,654.4 105.3,650.4 105.6,646.4 105.8,642.4 106,638.4 106.1,634.4 106.2,630.4 106.3,626.4 106.3,622.4 106.3,618.4 106.3,614.4 106.3,610.4 106.2,606.4 106.2,602.4 106.1,598.4 106.1,594.4 106,590.4 105.9,586.4 105.8,582.4 105.7,578.4 105.5,574.4 105.4,570.4 105.3,566.4 105.2,562.4 105.1,558.4 105,554.4 105,550.4 104.9,546.4 104.9,542.4 104.9,538.4 104.9,535.4"/>
<path d="M86.4,726.4 89.8,722.4 93,718.4 95.8,714.4 98.3,710.4 100.6,706.4 102.5,702.4 104.3,698.4 105.9,694.4 107.4,690.4 108.7,686.4 109.9,682.4 111,678.4 112,674.4 112.9,670.4 113.7,666.4 114.5,662.4 115.3,658.4 115.9,654.4 116.4,650.4 116.9,646.4 117.3,642.4 117.7,638.4 118,634.4 118.2,630.4 118.4,626.4 118.5,622.4 118.6,618.4 118.7,614.4 118.8,610.4 118.9,606.4 119,602.4 119,598.4 119.1,594.4 119.2,590.4 119.2,586.4 119.3,582.4 119.3,578.4 119.4,574.4 119.4,570.4 119.4,566.4 119.5,562.4 119.5,558.4 119.5,554.4 119.5,550.4 119.5,546.4 119.5,542.4 119.5,538.4 119.5,535.4"/>
<path d="M89.3,726.4 93.3,722.4 97.1,718.4 100.6,714.4 103.8,710.4 106.7,706.4 109.3,702.4 111.8,698.4 114.1,694.4 116.1,690.4 118.1,686.4 119.8,682.4 121.5,678.4 123,674.4 124.4,670.4 125.6,666.4 126.7,662.4 127.7,658.4 128.6,654.4 129.4,650.4 130.1,646.4 130.6,642.4 131.1,638.4 131.6,634.4 132,630.4 132.4,626.4 132.7,622.4 132.9,618.4 133.2,614.4 133.3,610.4 133.5,606.4 133.6,602.4 133.8,598.4 133.9,594.4 134.1,590.4 134.2,586.4 134.3,582.4 134.5,578.4 134.6,574.4 134.7,570.4 134.8,566.4 134.9,562.4 135,558.4 135,554.4 135.1,550.4 135.1,546.4 135.2,542.4 135.2,538.4 135.2,535.4"/>
<path d="M96.1,726.4 102.1,722.4 107.8,718.4 112.6,714.4 116.9,710.4 120.9,706.4 124.7,702.4 128.1,698.4 131,694.4 133.6,690.4 136,686.4 138.1,682.4 140.1,678.4 141.9,674.4 143.5,670.4 144.9,666.4 146,662.4 146.9,658.4 147.7,654.4 148.4,650.4 149,646.4 149.4,642.4 149.8,638.4 150.2,634.4 150.5,630.4 150.9,626.4 151.1,622.4 151.3,618.4 151.4,614.4 151.6,610.4 151.7,606.4 151.7,602.4 151.8,598.4 151.8,594.4 151.9,590.4 151.8,586.4 151.7,582.4 151.6,578.4 151.5,574.4 151.3,570.4 151.1,566.4 151,562.4 150.9,558.4 150.8,554.4 150.7,550.4 150.6,546.4 150.5,542.4 150.5,538.4 150.4,535.4"/>
<path d="M145.6,726.4 148,722.4 150.3,718.4 152.7,714.4 155.3,710.4 157.4,706.4 158.9,702.4 160,698.4 160.9,694.4 161.7,690.4 162.3,686.4 162.8,682.4 163.3,678.4 163.8,674.4 164.2,670.4 164.6,666.4 164.8,662.4 165,658.4 165.1,654.4 165.1,650.4 165.2,646.4 165.2,642.4 165.3,638.4 165.3,634.4 165.3,630.4 165.3,626.4 165.2,622.4 165.2,618.4 165.1,614.4 164.9,610.4 164.8,606.4 164.6,602.4 164.5,598.4 164.3,594.4 164.1,590.4 163.9,586.4 163.7,582.4 163.4,578.4 163.2,574.4 162.9,570.4 162.6,566.4 162.4,562.4 162.3,558.4 162.1,554.4 161.9,550.4 161.8,546.4 161.7,542.4 161.6,538.4 161.5,535.4"/>
<path d="M166.1,726.4 168.1,722.4 169.8,718.4 171.1,714.4 172.2,710.4 173,706.4 173.8,702.4 174.6,698.4 175.2,694.4 175.8,690.4 176.2,686.4 176.4,682.4 176.6,678.4 176.7,674.4 176.8,670.4 176.9,666.4 176.9,662.4 177,658.4 176.9,654.4 176.9,650.4 176.7,646.4 176.5,642.4 176.3,638.4 176.1,634.4 175.9,630.4 175.7,626.4 175.5,622.4 175.3,618.4 175.1,614.4 174.9,610.4 174.7,606.4 174.5,602.4 174.3,598.4 174,594.4 173.8,590.4 173.5,586.4 173.1,582.4 172.8,578.4 172.4,574.4 172.1,570.4 171.8,566.4 171.5,562.4 171.3,558.4 171.1,554.4 170.9,550.4 170.7,546.4 170.5,542.4 170.4,538.4 170.3,535.4"/>
<path d="M177.8,726.4 179.3,722.4 180.6,718.4 181.6,714.4 182.4,710.4 183.1,706.4 183.6,702.4 184.2,698.4 184.7,694.4 185.1,690.4 185.3,686.4 185.5,682.4 185.5,678.4 185.6,674.4 185.7,670.4 185.7,666.4 185.7,662.4 185.7,658.4 185.7,654.4 185.5,650.4 185.2,646.4 184.9,642.4 184.5,638.4 184.1,634.4 183.8,630.4 183.6,626.4 183.4,622.4 183.2,618.4 183,614.4 182.9,610.4 182.7,606.4 182.5,602.4 182.3,598.4 182.1,594.4 181.9,590.4 181.7,586.4 181.4,582.4 181.1,578.4 180.8,574.4 180.5,570.4 180.2,566.4 179.9,562.4 179.8,558.4 179.6,554.4 179.4,550.4 179.3,546.4 179.2,542.4 179.1,538.4 179,535.4"/>
<path d="M186.5,726.4 188.4,722.4 190,718.4 191.2,714.4 192.3,710.4 193.2,706.4 193.9,702.4 194.6,698.4 195.2,694.4 195.6,690.4 196,686.4 196.3,682.4 196.6,678.4 196.8,674.4 197.1,670.4 197.2,666.4 197.4,662.4 197.4,658.4 197.4,654.4 197.4,650.4 197.4,646.4 197.4,642.4 197.4,638.4 197.4,634.4 197.4,630.4 197.4,626.4 197.4,622.4 197.3,618.4 197.2,614.4 197.1,610.4 197,606.4 196.9,602.4 196.8,598.4 196.6,594.4 196.5,590.4 196.4,586.4 196.3,582.4 196.1,578.4 196,574.4 195.9,570.4 195.8,566.4 195.7,562.4 195.6,558.4 195.6,554.4 195.5,550.4 195.4,546.4 195.4,542.4 195.4,538.4 195.4,535.4"/>
<path d="M195.1,726.4 199.2,722.4 202.8,718.4 206,714.4 208.9,710.4 211.5,706.4 213.8,702.4 215.9,698.4 217.8,694.4 219.5,690.4 221.2,686.4 222.8,682.4 224.3,678.4 225.7,674.4 227.1,670.4 228.5,666.4 229.8,662.4 231.1,658.4 232.4,654.4 233.8,650.4 235.1,646.4 236.4,642.4 237.8,638.4 239.1,634.4 240.5,630.4 241.9,626.4 243.3,622.4 244.8,618.4 246.2,614.4 246.4,613.9"/>
</g>
<g clip-path="url(#cp6)" fill="#f0f" font-family="'Liberation Sans',sans-serif" font-size="15.3" text-anchor="middle">
<text transform="translate(80.1,650) rotate(89.3)" y="5.4">-60<tspan font-size="22" dy="4.3">°</tspan></text>
<text transform="translate(222.3,658.3) rotate(-71.7)" y="5.4">-600<tspan font-size="22" dy="4.3">°</tspan></text>
</g>
<rect x="85.3" y="553.9" width="150.4" height="74.5" fill="none" stroke="#000" stroke-width="1.6"/>
<rect x="51" y="538.3" width="189.7" height="188.1" fill="none" stroke="#333" stroke-opacity="0.55" stroke-width="0.6"/>
<use href="#pa2" transform="translate(0,517)"/>
<g clip-path="url(#cp7)"><g filter="url(#par)">
<rect x="422.6" y="522.3" width="221.7" height="220.1" fill="url(#b139)"/>
<ellipse cx="646.1" cy="736.4" rx="87.6" ry="181" fill="url(#r140)"/>
<ellipse cx="517.7" cy="718.9" rx="49.6" ry="52.6" fill="url(#r141)"/>
<g filter="url(#bw)"><path d="M419.1,528.3 419.1,536.3 419,544.3 418.9,552.3 418.7,560.3 418.5,568.3 418.2,576.3 417.9,584.3 417.7,592.3 417.5,600.3 417.4,608.3 417.2,616.3 418.5,624.3 420.1,632.3 420.3,640.4 420.5,648.4 420.5,656.4 420.2,664.4 421.3,672.4 422.3,680.4 423,688.4 423.8,696.4 424.1,704.4 423.2,712.4 420.6,720.4 416,728.4 410.1,736.4 463,736.4 468.9,728.4 480.9,720.4 493.8,712.4 505.5,704.4 516,696.4 525.5,688.4 533.3,680.4 540.6,672.4 548,664.4 555.2,656.4 561.9,648.4 568.5,640.4 575,632.3 580.1,624.3 583.2,616.3 584.2,608.3 585.2,600.3 586.2,592.3 587.4,584.3 588.5,576.3 589.7,568.3 590.8,560.3 591.8,552.3 592.8,544.3 593.8,536.3 593.9,528.3Z" fill="url(#g142)"/><path d="M435.9,528.3 435.9,536.3 435.8,544.3 435.7,552.3 435.5,560.3 435.3,568.3 435,576.3 434.7,584.3 434.5,592.3 434.3,600.3 434.2,608.3 434,616.3 434.9,624.3 435.9,632.3 435.4,640.4 434.9,648.4 434.3,656.4 433.4,664.4 433.6,672.4 434,680.4 433.9,688.4 433.8,696.4 433.2,704.4 431.3,712.4 427.9,720.4 422.6,728.4 416.7,736.4 455.8,736.4 461.7,728.4 472.5,720.4 483.5,712.4 493.3,704.4 501.9,696.4 509.7,688.4 516,680.4 521.9,672.4 527.8,664.4 533.8,656.4 539.5,648.4 544.9,640.4 550.3,632.3 554.4,624.3 556.7,616.3 557.5,608.3 558.2,600.3 559.1,592.3 560,584.3 560.9,576.3 561.8,568.3 562.7,560.3 563.5,552.3 564.3,544.3 565,536.3 565.1,528.3Z" fill="url(#g143)"/><path d="M447.1,528.3 447.1,536.3 447,544.3 446.9,552.3 446.7,560.3 446.5,568.3 446.2,576.3 445.9,584.3 445.7,592.3 445.5,600.3 445.4,608.3 445.2,616.3 445.9,624.3 446.4,632.3 445.5,640.4 444.6,648.4 443.4,656.4 442.1,664.4 441.9,672.4 441.7,680.4 441.2,688.4 440.5,696.4 439.3,704.4 436.7,712.4 432.7,720.4 427,728.4 421.1,736.4 451,736.4 456.9,728.4 466.8,720.4 476.7,712.4 485.2,704.4 492.6,696.4 499.1,688.4 504.5,680.4 509.4,672.4 514.3,664.4 519.6,656.4 524.5,648.4 529.2,640.4 533.9,632.3 537.2,624.3 539,616.3 539.7,608.3 540.3,600.3 540.9,592.3 541.7,584.3 542.5,576.3 543.2,568.3 544,560.3 544.6,552.3 545.2,544.3 545.8,536.3 545.9,528.3Z" fill="url(#g144)"/><path d="M455.5,528.3 455.5,536.3 455.4,544.3 455.3,552.3 455.1,560.3 454.9,568.3 454.6,576.3 454.3,584.3 454.1,592.3 453.9,600.3 453.8,608.3 453.6,616.3 454.1,624.3 454.2,632.3 453,640.4 451.8,648.4 450.3,656.4 448.6,664.4 448.1,672.4 447.6,680.4 446.6,688.4 445.5,696.4 443.8,704.4 440.8,712.4 436.3,720.4 430.3,728.4 424.4,736.4 447.4,736.4 453.3,728.4 462.5,720.4 471.5,712.4 479.2,704.4 485.6,696.4 491.2,688.4 495.8,680.4 500,672.4 504.2,664.4 508.9,656.4 513.3,648.4 517.4,640.4 521.6,632.3 524.3,624.3 525.8,616.3 526.3,608.3 526.8,600.3 527.4,592.3 528,584.3 528.7,576.3 529.3,568.3 529.9,560.3 530.5,552.3 531,544.3 531.5,536.3 531.5,528.3Z" fill="url(#g145)"/><path d="M461.8,528.3 461.8,536.3 461.7,544.3 461.6,552.3 461.4,560.3 461.2,568.3 460.9,576.3 460.6,584.3 460.4,592.3 460.2,600.3 460.1,608.3 459.9,616.3 460.2,624.3 460.1,632.3 458.7,640.4 457.2,648.4 455.5,656.4 453.6,664.4 452.7,672.4 451.9,680.4 450.7,688.4 449.3,696.4 447.2,704.4 443.9,712.4 439,720.4 432.8,728.4 426.9,736.4 444.7,736.4 450.6,728.4 459.4,720.4 467.7,712.4 474.6,704.4 480.3,696.4 485.3,688.4 489.3,680.4 493,672.4 496.6,664.4 500.9,656.4 504.8,648.4 508.6,640.4 512.3,632.3 514.7,624.3 515.8,616.3 516.3,608.3 516.7,600.3 517.2,592.3 517.7,584.3 518.3,576.3 518.9,568.3 519.4,560.3 519.8,552.3 520.3,544.3 520.7,536.3 520.7,528.3Z" fill="url(#g146)"/><path d="M480.2,528.3 480.5,536.3 481.3,544.3 482.1,552.3 482.9,560.3 483.9,568.3 484.9,576.3 486,584.3 487,592.3 487.9,600.3 488.9,608.3 489.9,616.3 490.9,624.3 493,632.3 496.2,640.4 499.2,648.4 502,656.4 504.8,664.4 507.6,672.4 510.1,680.4 512.3,688.4 514.3,696.4 516,704.4 516.9,712.4 517,720.4 515.5,728.4 512.4,736.4 604.4,736.4 607.5,728.4 611.7,720.4 616.6,712.4 620.8,704.4 624.2,696.4 624.8,688.4 624.9,680.4 624.7,672.4 624.1,664.4 621.6,656.4 618.8,648.4 615.8,640.4 612.6,632.3 610.5,624.3 609.5,616.3 608.5,608.3 607.5,600.3 606.6,592.3 605.6,584.3 604.5,576.3 603.5,568.3 602.5,560.3 601.7,552.3 600.9,544.3 600.1,536.3 599.8,528.3Z" fill="url(#g152)"/><path d="M500.6,528.3 500.9,536.3 501.5,544.3 502.3,552.3 503,560.3 503.9,568.3 504.8,576.3 505.7,584.3 506.7,592.3 507.5,600.3 508.4,608.3 509.2,616.3 510.1,624.3 511.9,632.3 514.6,640.4 517,648.4 519.3,656.4 521.6,664.4 523.8,672.4 525.7,680.4 527.3,688.4 528.7,696.4 529.7,704.4 529.9,712.4 529.3,720.4 527.5,728.4 524.4,736.4 592.4,736.4 595.5,728.4 599.3,720.4 603.6,712.4 607.2,704.4 609.9,696.4 610.4,688.4 610.5,680.4 610.3,672.4 609.7,664.4 607.7,656.4 605.4,648.4 603,640.4 600.3,632.3 598.5,624.3 597.6,616.3 596.8,608.3 595.9,600.3 595.1,592.3 594.1,584.3 593.2,576.3 592.3,568.3 591.4,560.3 590.7,552.3 589.9,544.3 589.3,536.3 589,528.3Z" fill="url(#g153)"/><path d="M514.2,528.3 514.5,536.3 515.1,544.3 515.7,552.3 516.4,560.3 517.2,568.3 518,576.3 518.9,584.3 519.8,592.3 520.5,600.3 521.3,608.3 522.1,616.3 523,624.3 524.6,632.3 526.8,640.4 528.9,648.4 530.8,656.4 532.7,664.4 534.5,672.4 536,680.4 537.2,688.4 538.2,696.4 538.8,704.4 538.6,712.4 537.6,720.4 535.5,728.4 532.4,736.4 584.4,736.4 587.5,728.4 591.1,720.4 595,712.4 598,704.4 600.3,696.4 600.8,688.4 600.9,680.4 600.7,672.4 600.1,664.4 598.4,656.4 596.5,648.4 594.4,640.4 592.2,632.3 590.6,624.3 589.7,616.3 588.9,608.3 588.1,600.3 587.4,592.3 586.5,584.3 585.6,576.3 584.8,568.3 584,560.3 583.3,552.3 582.7,544.3 582.1,536.3 581.8,528.3Z" fill="url(#g154)"/><path d="M524.4,528.3 524.7,536.3 525.2,544.3 525.8,552.3 526.4,560.3 527.2,568.3 528,576.3 528.8,584.3 529.6,592.3 530.3,600.3 531.1,608.3 531.8,616.3 532.6,624.3 534,632.3 536,640.4 537.8,648.4 539.5,656.4 541.1,664.4 542.6,672.4 543.8,680.4 544.7,688.4 545.4,696.4 545.6,704.4 545.1,712.4 543.7,720.4 541.5,728.4 538.4,736.4 578.4,736.4 581.5,728.4 584.9,720.4 588.4,712.4 591.2,704.4 593.1,696.4 593.6,688.4 593.7,680.4 593.5,672.4 592.9,664.4 591.5,656.4 589.8,648.4 588,640.4 586,632.3 584.6,624.3 583.8,616.3 583.1,608.3 582.3,600.3 581.6,592.3 580.8,584.3 580,576.3 579.2,568.3 578.4,560.3 577.8,552.3 577.2,544.3 576.7,536.3 576.4,528.3Z" fill="url(#g155)"/><path d="M532.1,528.3 532.3,536.3 532.8,544.3 533.4,552.3 534,560.3 534.7,568.3 535.4,576.3 536.2,584.3 537,592.3 537.7,600.3 538.3,608.3 539.1,616.3 539.8,624.3 541.1,632.3 542.9,640.4 544.5,648.4 545.9,656.4 547.3,664.4 548.6,672.4 549.6,680.4 550.3,688.4 550.8,696.4 550.8,704.4 550,712.4 548.4,720.4 546,728.4 542.9,736.4 573.9,736.4 577,728.4 580.3,720.4 583.6,712.4 586.1,704.4 587.8,696.4 588.2,688.4 588.3,680.4 588.1,672.4 587.5,664.4 586.2,656.4 584.8,648.4 583.2,640.4 581.4,632.3 580.1,624.3 579.4,616.3 578.6,608.3 578,600.3 577.3,592.3 576.5,584.3 575.7,576.3 575,568.3 574.3,560.3 573.7,552.3 573.1,544.3 572.6,536.3 572.4,528.3Z" fill="url(#g156)"/></g>
<g filter="url(#bn)"><path d="M466.7,528.3 466.7,536.3 466.6,544.3 466.5,552.3 466.3,560.3 466.1,568.3 465.8,576.3 465.5,584.3 465.3,592.3 465.1,600.3 465,608.3 464.8,616.3 465,624.3 464.7,632.3 463.1,640.4 461.4,648.4 459.5,656.4 457.4,664.4 456.3,672.4 455.3,680.4 453.9,688.4 452.2,696.4 449.8,704.4 446.2,712.4 441.1,720.4 434.7,728.4 428.8,736.4 442.6,736.4 448.5,728.4 456.9,720.4 464.7,712.4 471.1,704.4 476.2,696.4 480.6,688.4 484.3,680.4 487.5,672.4 490.7,664.4 494.7,656.4 498.3,648.4 501.7,640.4 505.1,632.3 507.2,624.3 508.1,616.3 508.5,608.3 508.8,600.3 509.2,592.3 509.7,584.3 510.2,576.3 510.8,568.3 511.2,560.3 511.6,552.3 512,544.3 512.3,536.3 512.3,528.3Z" fill="url(#g147)"/><path d="M470.6,528.3 470.6,536.3 470.5,544.3 470.4,552.3 470.2,560.3 470,568.3 469.7,576.3 469.4,584.3 469.2,592.3 469,600.3 468.9,608.3 468.7,616.3 468.8,624.3 468.4,632.3 466.6,640.4 464.8,648.4 462.7,656.4 460.4,664.4 459.2,672.4 458.1,680.4 456.4,688.4 454.5,696.4 452,704.4 448.1,712.4 442.8,720.4 436.2,728.4 430.4,736.4 440.9,736.4 446.8,728.4 454.9,720.4 462.3,712.4 468.2,704.4 473,696.4 477,688.4 480.2,680.4 483.1,672.4 486,664.4 489.7,656.4 493.1,648.4 496.2,640.4 499.4,632.3 501.2,624.3 501.9,616.3 502.3,608.3 502.6,600.3 502.9,592.3 503.3,584.3 503.8,576.3 504.3,568.3 504.6,560.3 505,552.3 505.3,544.3 505.6,536.3 505.6,528.3Z" fill="url(#g148)"/><path d="M474,528.3 474,536.3 473.9,544.3 473.8,552.3 473.6,560.3 473.4,568.3 473.1,576.3 472.8,584.3 472.5,592.3 472.4,600.3 472.2,608.3 472.1,616.3 472.1,624.3 471.6,632.3 469.6,640.4 467.7,648.4 465.5,656.4 463.1,664.4 461.7,672.4 460.4,680.4 458.6,688.4 456.5,696.4 453.8,704.4 449.8,712.4 444.3,720.4 437.5,728.4 431.7,736.4 439.5,736.4 445.4,728.4 453.2,720.4 460.2,712.4 465.8,704.4 470.2,696.4 473.8,688.4 476.8,680.4 479.4,672.4 482,664.4 485.4,656.4 488.6,648.4 491.5,640.4 494.5,632.3 496,624.3 496.6,616.3 496.9,608.3 497.2,600.3 497.5,592.3 497.8,584.3 498.3,576.3 498.7,568.3 499,560.3 499.3,552.3 499.6,544.3 499.8,536.3 499.8,528.3Z" fill="url(#g149)"/><path d="M477.2,528.3 477.2,536.3 477.1,544.3 477,552.3 476.8,560.3 476.6,568.3 476.3,576.3 476,584.3 475.8,592.3 475.6,600.3 475.5,608.3 475.3,616.3 475.3,624.3 474.6,632.3 472.5,640.4 470.4,648.4 468.1,656.4 465.6,664.4 464.1,672.4 462.6,680.4 460.7,688.4 458.5,696.4 455.5,704.4 451.3,712.4 445.7,720.4 438.8,728.4 432.9,736.4 438.1,736.4 444,728.4 451.6,720.4 458.2,712.4 463.5,704.4 467.5,696.4 470.8,688.4 473.5,680.4 475.8,672.4 478.1,664.4 481.3,656.4 484.3,648.4 487,640.4 489.7,632.3 491.1,624.3 491.5,616.3 491.8,608.3 492,600.3 492.3,592.3 492.6,584.3 493,576.3 493.3,568.3 493.6,560.3 493.9,552.3 494.1,544.3 494.3,536.3 494.3,528.3Z" fill="url(#g150)"/><path d="M480.4,528.3 480.4,536.3 480.3,544.3 480.2,552.3 480,560.3 479.8,568.3 479.5,576.3 479.2,584.3 479,592.3 478.8,600.3 478.7,608.3 478.5,616.3 478.4,624.3 477.6,632.3 475.4,640.4 473.2,648.4 470.8,656.4 468.1,664.4 466.5,672.4 464.9,680.4 462.8,688.4 460.4,696.4 457.3,704.4 452.9,712.4 447.1,720.4 440.1,728.4 434.2,736.4 436.7,736.4 442.6,728.4 449.9,720.4 456.3,712.4 461.1,704.4 464.8,696.4 467.7,688.4 470.2,680.4 472.2,672.4 474.2,664.4 477.2,656.4 480,648.4 482.5,640.4 485,632.3 486.1,624.3 486.5,616.3 486.7,608.3 486.8,600.3 487.1,592.3 487.3,584.3 487.7,576.3 488,568.3 488.3,560.3 488.5,552.3 488.6,544.3 488.8,536.3 488.8,528.3Z" fill="url(#g151)"/><path d="M538,528.3 538.2,536.3 538.7,544.3 539.3,552.3 539.8,560.3 540.5,568.3 541.2,576.3 542,584.3 542.7,592.3 543.4,600.3 544,608.3 544.7,616.3 545.4,624.3 546.6,632.3 548.3,640.4 549.7,648.4 551,656.4 552.2,664.4 553.3,672.4 554.1,680.4 554.6,688.4 554.9,696.4 554.8,704.4 553.8,712.4 552,720.4 549.5,728.4 546.4,736.4 570.4,736.4 573.5,728.4 576.7,720.4 579.8,712.4 582.1,704.4 583.6,696.4 584,688.4 584.1,680.4 583.9,672.4 583.3,664.4 582.2,656.4 580.9,648.4 579.5,640.4 577.8,632.3 576.6,624.3 575.9,616.3 575.2,608.3 574.6,600.3 573.9,592.3 573.2,584.3 572.4,576.3 571.7,568.3 571,560.3 570.5,552.3 569.9,544.3 569.4,536.3 569.2,528.3Z" fill="url(#g157)"/><path d="M542.8,528.3 543,536.3 543.5,544.3 544,552.3 544.5,560.3 545.1,568.3 545.9,576.3 546.6,584.3 547.3,592.3 547.9,600.3 548.6,608.3 549.2,616.3 549.9,624.3 551.1,632.3 552.6,640.4 553.9,648.4 555,656.4 556.1,664.4 557.1,672.4 557.8,680.4 558.1,688.4 558.3,696.4 557.9,704.4 556.8,712.4 554.9,720.4 552.3,728.4 549.2,736.4 567.6,736.4 570.7,728.4 573.8,720.4 576.7,712.4 578.9,704.4 580.2,696.4 580.6,688.4 580.7,680.4 580.5,672.4 580,664.4 578.9,656.4 577.8,648.4 576.5,640.4 575,632.3 573.8,624.3 573.1,616.3 572.5,608.3 571.9,600.3 571.2,592.3 570.5,584.3 569.8,576.3 569.1,568.3 568.4,560.3 567.9,552.3 567.4,544.3 566.9,536.3 566.7,528.3Z" fill="url(#g158)"/><path d="M546.9,528.3 547.1,536.3 547.5,544.3 548,552.3 548.5,560.3 549.1,568.3 549.8,576.3 550.5,584.3 551.2,592.3 551.8,600.3 552.5,608.3 553.1,616.3 553.8,624.3 554.8,632.3 556.2,640.4 557.4,648.4 558.5,656.4 559.5,664.4 560.3,672.4 560.9,680.4 561.1,688.4 561.1,696.4 560.7,704.4 559.4,712.4 557.3,720.4 554.7,728.4 551.6,736.4 565.2,736.4 568.3,728.4 571.3,720.4 574.1,712.4 576.2,704.4 577.4,696.4 577.7,688.4 577.8,680.4 577.6,672.4 577.1,664.4 576.2,656.4 575.1,648.4 573.9,640.4 572.5,632.3 571.4,624.3 570.8,616.3 570.1,608.3 569.5,600.3 568.9,592.3 568.2,584.3 567.5,576.3 566.8,568.3 566.2,560.3 565.7,552.3 565.2,544.3 564.8,536.3 564.5,528.3Z" fill="url(#g159)"/><path d="M550.8,528.3 551,536.3 551.4,544.3 551.9,552.3 552.4,560.3 553,568.3 553.6,576.3 554.3,584.3 555,592.3 555.6,600.3 556.2,608.3 556.8,616.3 557.5,624.3 558.5,632.3 559.8,640.4 560.8,648.4 561.8,656.4 562.7,664.4 563.4,672.4 563.9,680.4 564,688.4 563.9,696.4 563.3,704.4 561.9,712.4 559.7,720.4 557,728.4 553.9,736.4 562.9,736.4 566,728.4 569,720.4 571.6,712.4 573.5,704.4 574.6,696.4 575,688.4 575.1,680.4 574.9,672.4 574.3,664.4 573.5,656.4 572.5,648.4 571.5,640.4 570.2,632.3 569.2,624.3 568.5,616.3 567.9,608.3 567.3,600.3 566.7,592.3 566,584.3 565.3,576.3 564.7,568.3 564.1,560.3 563.6,552.3 563.1,544.3 562.7,536.3 562.5,528.3Z" fill="url(#g160)"/><path d="M554.7,528.3 554.9,536.3 555.3,544.3 555.7,552.3 556.2,560.3 556.8,568.3 557.4,576.3 558.1,584.3 558.8,592.3 559.3,600.3 559.9,608.3 560.5,616.3 561.1,624.3 562.1,632.3 563.3,640.4 564.3,648.4 565.1,656.4 565.9,664.4 566.5,672.4 566.8,680.4 566.8,688.4 566.6,696.4 565.9,704.4 564.4,712.4 562.1,720.4 559.3,728.4 556.2,736.4 560.6,736.4 563.7,728.4 566.6,720.4 569.1,712.4 570.9,704.4 571.9,696.4 572.2,688.4 572.3,680.4 572.1,672.4 571.6,664.4 570.8,656.4 570,648.4 569,640.4 567.8,632.3 566.9,624.3 566.2,616.3 565.6,608.3 565.1,600.3 564.5,592.3 563.8,584.3 563.2,576.3 562.5,568.3 561.9,560.3 561.4,552.3 561,544.3 560.6,536.3 560.4,528.3Z" fill="url(#g161)"/><path d="M457.3,707.2 455.8,709.9 454.2,712.6 452.2,715.3 450.2,718 448.1,720.7 445.7,723.4 443.3,726.2" fill="none" stroke="#000" stroke-opacity="0.6" stroke-width="4" stroke-linecap="round"/></g>
</g></g>
<g clip-path="url(#cp7)" fill="none" stroke="#f0f" stroke-width="1.6" stroke-dasharray="11.1 6.85" stroke-dashoffset="2.1">
<path d="M438.6,722.6 440.1,718.6 441.5,714.6 442.7,710.6 443.8,706.6 444.7,702.6 445.4,698.6 446.1,694.6 446.6,690.6 447.1,686.6 447.5,682.6 447.9,678.6 448.2,674.6 448.4,670.6 448.5,666.6 448.5,662.6 448.5,658.6 448.5,654.6 448.5,650.6 448.5,646.6 448.4,642.6 448.3,638.6 448.2,634.6 448,630.6 447.8,626.6 447.4,622.6 446.9,618.6 446.6,614.6 446.2,610.6 445.9,606.6 445.6,602.6 445.3,598.6 445.1,594.6 445,590.6 444.9,586.6 444.8,582.6 444.7,578.6 444.6,574.6 444.6,570.6 444.5,566.6 444.4,562.6 444.3,558.6 444.2,554.6 444.2,550.6 444.1,546.6 444,542.6 443.9,538.6 443.8,535.4"/>
<path d="M440.6,726.4 443.6,722.4 446.5,718.4 449,714.4 451.4,710.4 453.4,706.4 454.9,702.4 456.3,698.4 457.4,694.4 458.4,690.4 459.4,686.4 460.3,682.4 461.1,678.4 461.8,674.4 462.4,670.4 462.9,666.4 463.4,662.4 463.7,658.4 464.1,654.4 464.3,650.4 464.4,646.4 464.5,642.4 464.6,638.4 464.7,634.4 464.7,630.4 464.7,626.4 464.6,622.4 464.6,618.4 464.5,614.4 464.4,610.4 464.2,606.4 464,602.4 463.9,598.4 463.7,594.4 463.7,590.4 463.6,586.4 463.6,582.4 463.5,578.4 463.5,574.4 463.4,570.4 463.4,566.4 463.4,562.4 463.3,558.4 463.3,554.4 463.2,550.4 463.2,546.4 463.2,542.4 463.1,538.4 463.1,535.4"/>
<path d="M444.2,726.4 447.7,722.4 451.1,718.4 454.1,714.4 456.7,710.4 459,706.4 461.1,702.4 462.9,698.4 464.6,694.4 466.1,690.4 467.5,686.4 468.7,682.4 469.8,678.4 470.8,674.4 471.7,670.4 472.5,666.4 473.3,662.4 474.1,658.4 474.7,654.4 475.3,650.4 475.8,646.4 476.3,642.4 476.7,638.4 477,634.4 477.1,630.4 477.2,626.4 477.3,622.4 477.4,618.4 477.4,614.4 477.4,610.4 477.4,606.4 477.4,602.4 477.4,598.4 477.4,594.4 477.4,590.4 477.4,586.4 477.5,582.4 477.7,578.4 477.8,574.4 478,570.4 478.1,566.4 478.2,562.4 478.3,558.4 478.4,554.4 478.4,550.4 478.5,546.4 478.5,542.4 478.5,538.4 478.5,535.4"/>
<path d="M447.1,726.4 452.2,722.4 456.7,718.4 460.4,714.4 463.8,710.4 466.7,706.4 469.4,702.4 471.8,698.4 474.1,694.4 476.1,690.4 478.1,686.4 479.8,682.4 481.5,678.4 483,674.4 484.4,670.4 485.6,666.4 486.7,662.4 487.7,658.4 488.6,654.4 489.4,650.4 490.1,646.4 490.8,642.4 491.4,638.4 491.9,634.4 492.3,630.4 492.5,626.4 492.6,622.4 492.8,618.4 493,614.4 493.1,610.4 493.3,606.4 493.5,602.4 493.7,598.4 493.8,594.4 494,590.4 494.2,586.4 494.4,582.4 494.7,578.4 494.9,574.4 495.1,570.4 495.3,566.4 495.4,562.4 495.6,558.4 495.7,554.4 495.8,550.4 495.9,546.4 496,542.4 496,538.4 496.1,535.4"/>
<path d="M457.8,726.4 464.2,722.4 470.4,718.4 476.3,714.4 481.4,710.4 485.9,706.4 490,702.4 493.8,698.4 497.2,694.4 500.3,690.4 503.1,686.4 505.7,682.4 508.1,678.4 510.4,674.4 512.5,670.4 514.4,666.4 515.9,662.4 517.1,658.4 518.2,654.4 519.2,650.4 520,646.4 520.9,642.4 521.6,638.4 522.2,634.4 522.4,630.4 522.5,626.4 522.6,622.4 522.6,618.4 522.6,614.4 522.6,610.4 522.6,606.4 522.6,602.4 522.6,598.4 522.6,594.4 522.6,590.4 522.7,586.4 522.8,582.4 522.9,578.4 523.1,574.4 523.2,570.4 523.4,566.4 523.5,562.4 523.6,558.4 523.6,554.4 523.7,550.4 523.7,546.4 523.8,542.4 523.8,538.4 523.8,535.4"/>
<path d="M531.1,726.4 533.9,722.4 536.6,718.4 540,714.4 542.2,710.4 543.7,706.4 544.8,702.4 545.7,698.4 546.5,694.4 547.2,690.4 547.8,686.4 548.3,682.4 548.8,678.4 549.1,674.4 549.3,670.4 549.4,666.4 549.6,662.4 549.7,658.4 549.7,654.4 549.8,650.4 549.8,646.4 549.7,642.4 549.6,638.4 549.4,634.4 549.2,630.4 549,626.4 548.8,622.4 548.6,618.4 548.4,614.4 548.1,610.4 547.9,606.4 547.6,602.4 547.4,598.4 547.1,594.4 546.9,590.4 546.6,586.4 546.3,582.4 546,578.4 545.7,574.4 545.4,570.4 545.1,566.4 544.9,562.4 544.7,558.4 544.5,554.4 544.3,550.4 544.1,546.4 543.9,542.4 543.8,538.4 543.7,535.4"/>
<path d="M553.5,726.4 555,722.4 556.4,718.4 557.6,714.4 558.6,710.4 559.6,706.4 560.4,702.4 561.1,698.4 561.6,694.4 562,690.4 562.3,686.4 562.6,682.4 562.8,678.4 562.9,674.4 562.9,670.4 562.9,666.4 562.8,662.4 562.7,658.4 562.5,654.4 562.4,650.4 562.2,646.4 562,642.4 561.7,638.4 561.4,634.4 561.1,630.4 560.8,626.4 560.5,622.4 560.2,618.4 560,614.4 559.7,610.4 559.5,606.4 559.3,602.4 559,598.4 558.8,594.4 558.5,590.4 558.3,586.4 558,582.4 557.7,578.4 557.4,574.4 557.1,570.4 556.8,566.4 556.6,562.4 556.4,558.4 556.1,554.4 556,550.4 555.8,546.4 555.6,542.4 555.5,538.4 555.4,535.4"/>
<path d="M564.4,726.4 565.8,722.4 567.2,718.4 568.4,714.4 569.3,710.4 570.1,706.4 570.8,702.4 571.4,698.4 571.8,694.4 572.2,690.4 572.5,686.4 572.8,682.4 573,678.4 573.1,674.4 573.1,670.4 573.1,666.4 573,662.4 572.9,658.4 572.8,654.4 572.6,650.4 572.5,646.4 572.2,642.4 572,638.4 571.7,634.4 571.3,630.4 571,626.4 570.7,622.4 570.4,618.4 570.2,614.4 569.9,610.4 569.7,606.4 569.5,602.4 569.2,598.4 569,594.4 568.8,590.4 568.5,586.4 568.3,582.4 568,578.4 567.7,574.4 567.5,570.4 567.3,566.4 567.1,562.4 566.9,558.4 566.7,554.4 566.6,550.4 566.4,546.4 566.3,542.4 566.2,538.4 566.1,535.4"/>
<path d="M572.5,726.4 574.1,722.4 575.7,718.4 577.1,714.4 578.3,710.4 579.3,706.4 580.3,702.4 581.1,698.4 581.8,694.4 582.4,690.4 582.9,686.4 583.4,682.4 583.8,678.4 584.1,674.4 584.3,670.4 584.6,666.4 584.8,662.4 584.9,658.4 585,654.4 585.1,650.4 585.1,646.4 585.1,642.4 585.1,638.4 585,634.4 585,630.4 584.9,626.4 584.9,622.4 584.8,618.4 584.7,614.4 584.7,610.4 584.6,606.4 584.5,602.4 584.4,598.4 584.3,594.4 584.2,590.4 584.2,586.4 584.1,582.4 584,578.4 583.9,574.4 583.8,570.4 583.7,566.4 583.7,562.4 583.6,558.4 583.6,554.4 583.5,550.4 583.5,546.4 583.4,542.4 583.4,538.4 583.4,535.4"/>
<path d="M580.6,726.4 584.3,722.4 587.6,718.4 590.6,714.4 593.4,710.4 595.8,706.4 598.1,702.4 600.2,698.4 602.2,694.4 604.1,690.4 606,686.4 607.8,682.4 609.5,678.4 611,674.4 612.5,670.4 614,666.4 615.3,662.4 616.7,658.4 618,654.4 619.2,650.4 620.4,646.4 621.6,642.4 622.8,638.4 624,634.4 625.2,630.4 626.4,626.4 627.7,622.4 629.1,618.4 630.6,614.4 632.2,610.4 633.9,606.4 634.4,605.1"/>
</g>
<g clip-path="url(#cp7)" fill="#f0f" font-family="'Liberation Sans',sans-serif" font-size="15.3" text-anchor="middle">
<text transform="translate(452.7,555.3) rotate(88.8)" y="5.4">-60<tspan font-size="22" dy="4.3">°</tspan></text>
<text transform="translate(615.9,632.3) rotate(-73.8)" y="5.4">-600<tspan font-size="22" dy="4.3">°</tspan></text>
</g>
<rect x="473.3" y="553.9" width="121.2" height="74.5" fill="none" stroke="#000" stroke-width="1.6"/>
<rect x="438.6" y="538.3" width="189.7" height="188.1" fill="none" stroke="#333" stroke-opacity="0.55" stroke-width="0.6"/>
<text x="1" y="14.6" font-family="'DejaVu Sans',sans-serif" font-weight="bold" font-size="22.5">a</text>
<text x="146.7" y="14.2" font-family="'DejaVu Sans',sans-serif" font-size="16" text-anchor="middle" fill="#111">t<tspan font-size="10.8" dy="2.8">s</tspan><tspan dy="-2.8"> = 50 nm</tspan></text>
<text x="84.6" y="230.9" font-family="'Liberation Sans',sans-serif" font-size="14.5" text-anchor="middle" fill="#262626">50</text>
<text x="133.3" y="230.9" font-family="'Liberation Sans',sans-serif" font-size="14.5" text-anchor="middle" fill="#262626">100</text>
<text x="181.9" y="230.9" font-family="'Liberation Sans',sans-serif" font-size="14.5" text-anchor="middle" fill="#262626">150</text>
<text x="230.6" y="230.9" font-family="'Liberation Sans',sans-serif" font-size="14.5" text-anchor="middle" fill="#262626">200</text>
<text x="145.8" y="245.7" font-family="'DejaVu Sans',sans-serif" font-size="15" letter-spacing="0.45" text-anchor="middle" fill="#262626">L<tspan font-size="9.6" dy="3.2">x1</tspan><tspan dy="-3.2"> (nm)</tspan></text>
<text x="342.1" y="14.2" font-family="'DejaVu Sans',sans-serif" font-size="16" text-anchor="middle" fill="#111">t<tspan font-size="10.8" dy="2.8">s</tspan><tspan dy="-2.8"> = 70 nm</tspan></text>
<text x="278.6" y="230.9" font-family="'Liberation Sans',sans-serif" font-size="14.5" text-anchor="middle" fill="#262626">50</text>
<text x="327.3" y="230.9" font-family="'Liberation Sans',sans-serif" font-size="14.5" text-anchor="middle" fill="#262626">100</text>
<text x="375.9" y="230.9" font-family="'Liberation Sans',sans-serif" font-size="14.5" text-anchor="middle" fill="#262626">150</text>
<text x="424.6" y="230.9" font-family="'Liberation Sans',sans-serif" font-size="14.5" text-anchor="middle" fill="#262626">200</text>
<text x="339.9" y="245.7" font-family="'DejaVu Sans',sans-serif" font-size="15" letter-spacing="0.45" text-anchor="middle" fill="#262626">L<tspan font-size="9.6" dy="3.2">x1</tspan><tspan dy="-3.2"> (nm)</tspan></text>
<text x="536.2" y="14.2" font-family="'DejaVu Sans',sans-serif" font-size="16" text-anchor="middle" fill="#111">t<tspan font-size="10.8" dy="2.8">s</tspan><tspan dy="-2.8"> = 90 nm</tspan></text>
<text x="472.2" y="230.9" font-family="'Liberation Sans',sans-serif" font-size="14.5" text-anchor="middle" fill="#262626">50</text>
<text x="520.9" y="230.9" font-family="'Liberation Sans',sans-serif" font-size="14.5" text-anchor="middle" fill="#262626">100</text>
<text x="569.5" y="230.9" font-family="'Liberation Sans',sans-serif" font-size="14.5" text-anchor="middle" fill="#262626">150</text>
<text x="618.2" y="230.9" font-family="'Liberation Sans',sans-serif" font-size="14.5" text-anchor="middle" fill="#262626">200</text>
<text x="533.5" y="245.7" font-family="'DejaVu Sans',sans-serif" font-size="15" letter-spacing="0.45" text-anchor="middle" fill="#262626">L<tspan font-size="9.6" dy="3.2">x1</tspan><tspan dy="-3.2"> (nm)</tspan></text>
<text x="43.6" y="187.1" font-family="'Liberation Sans',sans-serif" font-size="14.5" text-anchor="end" fill="#262626">50</text>
<text x="43.6" y="117.5" font-family="'Liberation Sans',sans-serif" font-size="14.5" text-anchor="end" fill="#262626">100</text>
<text x="43.6" y="47.8" font-family="'Liberation Sans',sans-serif" font-size="14.5" text-anchor="end" fill="#262626">150</text>
<text transform="translate(13.2,109.4) rotate(-90)" font-family="'DejaVu Sans',sans-serif" font-size="15" letter-spacing="0.45" text-anchor="middle" fill="#262626">L<tspan font-size="9.6" dy="3.2">y1</tspan><tspan dy="-3.2"> (nm)</tspan></text>
<rect x="640.3" y="21.3" width="19.3" height="188.1" fill="url(#cb0)" stroke="#333" stroke-opacity="0.7" stroke-width="0.6"/>
<text x="664.2" y="26.2" font-family="'Liberation Sans',sans-serif" font-size="12.8" fill="#262626">1</text>
<text x="664.2" y="88.9" font-family="'Liberation Sans',sans-serif" font-size="12.8" fill="#262626">0.8</text>
<path d="M657.6,84H659.6" stroke="#333" stroke-width="0.7"/>
<text x="664.2" y="151.6" font-family="'Liberation Sans',sans-serif" font-size="12.8" fill="#262626">0.6</text>
<path d="M657.6,146.7H659.6" stroke="#333" stroke-width="0.7"/>
<text x="664.2" y="214.3" font-family="'Liberation Sans',sans-serif" font-size="12.8" fill="#262626">0.4</text>
<text x="650.5" y="16.3" font-family="'DejaVu Sans',sans-serif" font-size="15" letter-spacing="1.1" text-anchor="middle" fill="#262626">|r|</text>
<text x="1" y="277" font-family="'DejaVu Sans',sans-serif" font-weight="bold" font-size="22.5">b</text>
<text x="140.4" y="272" font-family="'DejaVu Sans',sans-serif" font-size="16" text-anchor="middle" fill="#111">t<tspan font-size="10.8" dy="2.8">b</tspan><tspan dy="-2.8"> = 35 nm</tspan></text>
<text x="84.3" y="487.6" font-family="'Liberation Sans',sans-serif" font-size="14.5" text-anchor="middle" fill="#262626">50</text>
<text x="132.8" y="487.6" font-family="'Liberation Sans',sans-serif" font-size="14.5" text-anchor="middle" fill="#262626">100</text>
<text x="181.2" y="487.6" font-family="'Liberation Sans',sans-serif" font-size="14.5" text-anchor="middle" fill="#262626">150</text>
<text x="229.7" y="487.6" font-family="'Liberation Sans',sans-serif" font-size="14.5" text-anchor="middle" fill="#262626">200</text>
<text x="145.6" y="502.4" font-family="'DejaVu Sans',sans-serif" font-size="15" letter-spacing="0.45" text-anchor="middle" fill="#262626">L<tspan font-size="9.6" dy="3.2">x1</tspan><tspan dy="-3.2"> (nm)</tspan></text>
<text x="337.9" y="272" font-family="'DejaVu Sans',sans-serif" font-size="16" text-anchor="middle" fill="#111">t<tspan font-size="10.8" dy="2.8">b</tspan><tspan dy="-2.8"> = 50 nm</tspan></text>
<text x="276.7" y="487.6" font-family="'Liberation Sans',sans-serif" font-size="14.5" text-anchor="middle" fill="#262626">50</text>
<text x="325.2" y="487.6" font-family="'Liberation Sans',sans-serif" font-size="14.5" text-anchor="middle" fill="#262626">100</text>
<text x="373.6" y="487.6" font-family="'Liberation Sans',sans-serif" font-size="14.5" text-anchor="middle" fill="#262626">150</text>
<text x="422.1" y="487.6" font-family="'Liberation Sans',sans-serif" font-size="14.5" text-anchor="middle" fill="#262626">200</text>
<text x="338" y="502.4" font-family="'DejaVu Sans',sans-serif" font-size="15" letter-spacing="0.45" text-anchor="middle" fill="#262626">L<tspan font-size="9.6" dy="3.2">x1</tspan><tspan dy="-3.2"> (nm)</tspan></text>
<text x="532" y="272" font-family="'DejaVu Sans',sans-serif" font-size="16" text-anchor="middle" fill="#111">t<tspan font-size="10.8" dy="2.8">b</tspan><tspan dy="-2.8"> = 65 nm</tspan></text>
<text x="469.8" y="487.6" font-family="'Liberation Sans',sans-serif" font-size="14.5" text-anchor="middle" fill="#262626">50</text>
<text x="518.3" y="487.6" font-family="'Liberation Sans',sans-serif" font-size="14.5" text-anchor="middle" fill="#262626">100</text>
<text x="566.7" y="487.6" font-family="'Liberation Sans',sans-serif" font-size="14.5" text-anchor="middle" fill="#262626">150</text>
<text x="615.2" y="487.6" font-family="'Liberation Sans',sans-serif" font-size="14.5" text-anchor="middle" fill="#262626">200</text>
<text x="531.1" y="502.4" font-family="'DejaVu Sans',sans-serif" font-size="15" letter-spacing="0.45" text-anchor="middle" fill="#262626">L<tspan font-size="9.6" dy="3.2">x1</tspan><tspan dy="-3.2"> (nm)</tspan></text>
<text x="44.6" y="443.8" font-family="'Liberation Sans',sans-serif" font-size="14.5" text-anchor="end" fill="#262626">50</text>
<text x="44.6" y="374.2" font-family="'Liberation Sans',sans-serif" font-size="14.5" text-anchor="end" fill="#262626">100</text>
<text x="44.6" y="304.5" font-family="'Liberation Sans',sans-serif" font-size="14.5" text-anchor="end" fill="#262626">150</text>
<text transform="translate(14.5,366.1) rotate(-90)" font-family="'DejaVu Sans',sans-serif" font-size="15" letter-spacing="0.45" text-anchor="middle" fill="#262626">L<tspan font-size="9.6" dy="3.2">y1</tspan><tspan dy="-3.2"> (nm)</tspan></text>
<rect x="637.5" y="278" width="19.3" height="188.1" fill="url(#cb1)" stroke="#333" stroke-opacity="0.7" stroke-width="0.6"/>
<text x="661.4" y="282.9" font-family="'Liberation Sans',sans-serif" font-size="12.8" fill="#262626">1</text>
<text x="661.4" y="345.6" font-family="'Liberation Sans',sans-serif" font-size="12.8" fill="#262626">0.8</text>
<path d="M654.8,340.7H656.8" stroke="#333" stroke-width="0.7"/>
<text x="661.4" y="408.3" font-family="'Liberation Sans',sans-serif" font-size="12.8" fill="#262626">0.6</text>
<path d="M654.8,403.4H656.8" stroke="#333" stroke-width="0.7"/>
<text x="661.4" y="471" font-family="'Liberation Sans',sans-serif" font-size="12.8" fill="#262626">0.4</text>
<text x="647.7" y="271" font-family="'DejaVu Sans',sans-serif" font-size="15" letter-spacing="1.1" text-anchor="middle" fill="#262626">|r|</text>
<text x="1" y="530" font-family="'DejaVu Sans',sans-serif" font-weight="bold" font-size="22.5">c</text>
<text x="147.2" y="529.9" font-family="'DejaVu Sans',sans-serif" font-size="16" text-anchor="middle" fill="#111">d<tspan font-size="10.8" dy="2.8">x</tspan><tspan dy="-2.8"> = 75 nm</tspan></text>
<text x="84.6" y="747.9" font-family="'Liberation Sans',sans-serif" font-size="14.5" text-anchor="middle" fill="#262626">50</text>
<text x="133.3" y="747.9" font-family="'Liberation Sans',sans-serif" font-size="14.5" text-anchor="middle" fill="#262626">100</text>
<text x="181.9" y="747.9" font-family="'Liberation Sans',sans-serif" font-size="14.5" text-anchor="middle" fill="#262626">150</text>
<text x="230.6" y="747.9" font-family="'Liberation Sans',sans-serif" font-size="14.5" text-anchor="middle" fill="#262626">200</text>
<text x="145.8" y="762.7" font-family="'DejaVu Sans',sans-serif" font-size="15" letter-spacing="0.45" text-anchor="middle" fill="#262626">L<tspan font-size="9.6" dy="3.2">x1</tspan><tspan dy="-3.2"> (nm)</tspan></text>
<text x="339.9" y="529.9" font-family="'DejaVu Sans',sans-serif" font-size="16" text-anchor="middle" fill="#111">d<tspan font-size="10.8" dy="2.8">x</tspan><tspan dy="-2.8"> = 90 nm</tspan></text>
<text x="278.6" y="747.9" font-family="'Liberation Sans',sans-serif" font-size="14.5" text-anchor="middle" fill="#262626">50</text>
<text x="327.3" y="747.9" font-family="'Liberation Sans',sans-serif" font-size="14.5" text-anchor="middle" fill="#262626">100</text>
<text x="375.9" y="747.9" font-family="'Liberation Sans',sans-serif" font-size="14.5" text-anchor="middle" fill="#262626">150</text>
<text x="424.6" y="747.9" font-family="'Liberation Sans',sans-serif" font-size="14.5" text-anchor="middle" fill="#262626">200</text>
<text x="339.9" y="762.7" font-family="'DejaVu Sans',sans-serif" font-size="15" letter-spacing="0.45" text-anchor="middle" fill="#262626">L<tspan font-size="9.6" dy="3.2">x1</tspan><tspan dy="-3.2"> (nm)</tspan></text>
<text x="534.8" y="529.9" font-family="'DejaVu Sans',sans-serif" font-size="16" text-anchor="middle" fill="#111">d<tspan font-size="10.8" dy="2.8">x</tspan><tspan dy="-2.8"> = 105 nm</tspan></text>
<text x="472.2" y="747.9" font-family="'Liberation Sans',sans-serif" font-size="14.5" text-anchor="middle" fill="#262626">50</text>
<text x="520.9" y="747.9" font-family="'Liberation Sans',sans-serif" font-size="14.5" text-anchor="middle" fill="#262626">100</text>
<text x="569.5" y="747.9" font-family="'Liberation Sans',sans-serif" font-size="14.5" text-anchor="middle" fill="#262626">150</text>
<text x="618.2" y="747.9" font-family="'Liberation Sans',sans-serif" font-size="14.5" text-anchor="middle" fill="#262626">200</text>
<text x="533.5" y="762.7" font-family="'DejaVu Sans',sans-serif" font-size="15" letter-spacing="0.45" text-anchor="middle" fill="#262626">L<tspan font-size="9.6" dy="3.2">x1</tspan><tspan dy="-3.2"> (nm)</tspan></text>
<text x="44.6" y="704.1" font-family="'Liberation Sans',sans-serif" font-size="14.5" text-anchor="end" fill="#262626">50</text>
<text x="44.6" y="634.5" font-family="'Liberation Sans',sans-serif" font-size="14.5" text-anchor="end" fill="#262626">100</text>
<text x="44.6" y="564.8" font-family="'Liberation Sans',sans-serif" font-size="14.5" text-anchor="end" fill="#262626">150</text>
<text transform="translate(14.5,626.4) rotate(-90)" font-family="'DejaVu Sans',sans-serif" font-size="15" letter-spacing="0.45" text-anchor="middle" fill="#262626">L<tspan font-size="9.6" dy="3.2">y1</tspan><tspan dy="-3.2"> (nm)</tspan></text>
<rect x="640.3" y="538.3" width="19.3" height="188.1" fill="url(#cb2)" stroke="#333" stroke-opacity="0.7" stroke-width="0.6"/>
<text x="664.2" y="543.2" font-family="'Liberation Sans',sans-serif" font-size="12.8" fill="#262626">1</text>
<text x="664.2" y="605.9" font-family="'Liberation Sans',sans-serif" font-size="12.8" fill="#262626">0.8</text>
<path d="M657.6,601H659.6" stroke="#333" stroke-width="0.7"/>
<text x="664.2" y="668.6" font-family="'Liberation Sans',sans-serif" font-size="12.8" fill="#262626">0.6</text>
<path d="M657.6,663.7H659.6" stroke="#333" stroke-width="0.7"/>
<text x="664.2" y="731.3" font-family="'Liberation Sans',sans-serif" font-size="12.8" fill="#262626">0.4</text>
<text x="650.5" y="531.3" font-family="'DejaVu Sans',sans-serif" font-size="15" letter-spacing="1.1" text-anchor="middle" fill="#262626">|r|</text>
</svg>
</body></html>
